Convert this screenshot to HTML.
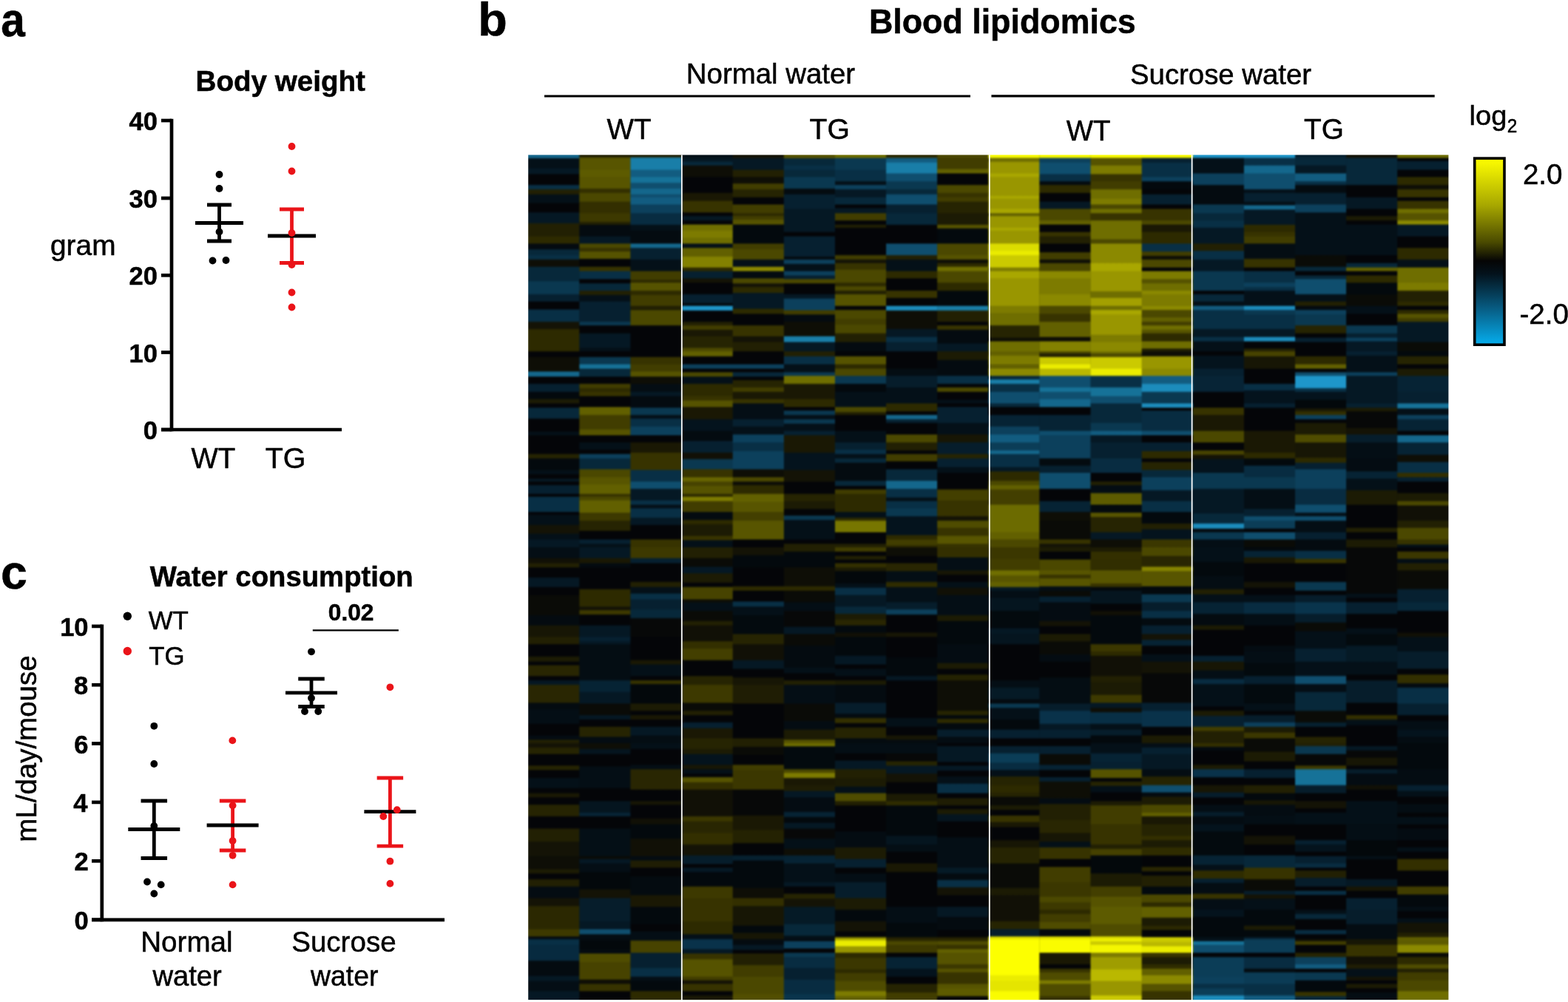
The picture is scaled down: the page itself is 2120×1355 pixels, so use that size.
<!DOCTYPE html>
<html lang="en">
<head>
<meta charset="utf-8">
<title>Figure: body weight, blood lipidomics and water consumption</title>
<style>
html,body{margin:0;padding:0;background:#fff;}
body{width:2120px;height:1355px;overflow:hidden;}
svg{display:block;font-family:"Liberation Sans", Arial, Helvetica, sans-serif;fill:#000;}
</style>
</head>
<body>
<svg width="2120" height="1355" viewBox="0 0 2120 1355">
<defs>
<linearGradient id="cbar" x1="0" y1="0" x2="0" y2="1"><stop offset="0" stop-color="#ffff00"/><stop offset="0.25" stop-color="#a8a800"/><stop offset="0.45" stop-color="#4a4a00"/><stop offset="0.55" stop-color="#050505"/><stop offset="0.62" stop-color="#03121c"/><stop offset="0.8" stop-color="#075a80"/><stop offset="1" stop-color="#06aeee"/></linearGradient>
<linearGradient id="g0" gradientUnits="userSpaceOnUse" x1="0" y1="209.4" x2="0" y2="1352.0"><stop offset="0.0010" stop-color="#14678c"/><stop offset="0.0030" stop-color="#14678c"/><stop offset="0.0049" stop-color="#041018"/><stop offset="0.0150" stop-color="#041018"/><stop offset="0.0169" stop-color="#051824"/><stop offset="0.0218" stop-color="#051824"/><stop offset="0.0238" stop-color="#040508"/><stop offset="0.0347" stop-color="#040508"/><stop offset="0.0366" stop-color="#082f45"/><stop offset="0.0398" stop-color="#082f45"/><stop offset="0.0418" stop-color="#222003"/><stop offset="0.0458" stop-color="#222003"/><stop offset="0.0477" stop-color="#041018"/><stop offset="0.0561" stop-color="#041018"/><stop offset="0.0580" stop-color="#040508"/><stop offset="0.0672" stop-color="#040508"/><stop offset="0.0692" stop-color="#051824"/><stop offset="0.0801" stop-color="#051824"/><stop offset="0.0820" stop-color="#222003"/><stop offset="0.0955" stop-color="#222003"/><stop offset="0.0974" stop-color="#2d2a00"/><stop offset="0.1041" stop-color="#2d2a00"/><stop offset="0.1060" stop-color="#040b10"/><stop offset="0.1109" stop-color="#040b10"/><stop offset="0.1129" stop-color="#07283a"/><stop offset="0.1178" stop-color="#07283a"/><stop offset="0.1197" stop-color="#082f45"/><stop offset="0.1229" stop-color="#082f45"/><stop offset="0.1249" stop-color="#0e0e06"/><stop offset="0.1315" stop-color="#0e0e06"/><stop offset="0.1334" stop-color="#07283a"/><stop offset="0.1486" stop-color="#07283a"/><stop offset="0.1506" stop-color="#0a3850"/><stop offset="0.1640" stop-color="#0a3850"/><stop offset="0.1660" stop-color="#062030"/><stop offset="0.1726" stop-color="#062030"/><stop offset="0.1745" stop-color="#040508"/><stop offset="0.1820" stop-color="#040508"/><stop offset="0.1840" stop-color="#082f45"/><stop offset="0.1966" stop-color="#082f45"/><stop offset="0.1985" stop-color="#141306"/><stop offset="0.2052" stop-color="#141306"/><stop offset="0.2071" stop-color="#2d2a00"/><stop offset="0.2316" stop-color="#2d2a00"/><stop offset="0.2335" stop-color="#040508"/><stop offset="0.2383" stop-color="#040508"/><stop offset="0.2403" stop-color="#0e0e06"/><stop offset="0.2555" stop-color="#0e0e06"/><stop offset="0.2574" stop-color="#14678c"/><stop offset="0.2615" stop-color="#14678c"/><stop offset="0.2634" stop-color="#040508"/><stop offset="0.2700" stop-color="#040508"/><stop offset="0.2720" stop-color="#062030"/><stop offset="0.2795" stop-color="#062030"/><stop offset="0.2814" stop-color="#03090d"/><stop offset="0.2880" stop-color="#03090d"/><stop offset="0.2900" stop-color="#1c1b04"/><stop offset="0.2932" stop-color="#1c1b04"/><stop offset="0.2951" stop-color="#040508"/><stop offset="0.2983" stop-color="#040508"/><stop offset="0.3002" stop-color="#07283a"/><stop offset="0.3112" stop-color="#07283a"/><stop offset="0.3131" stop-color="#040508"/><stop offset="0.3266" stop-color="#040508"/><stop offset="0.3285" stop-color="#041018"/><stop offset="0.3309" stop-color="#041018"/><stop offset="0.3328" stop-color="#040508"/><stop offset="0.3531" stop-color="#040508"/><stop offset="0.3551" stop-color="#262402"/><stop offset="0.3583" stop-color="#262402"/><stop offset="0.3602" stop-color="#03090d"/><stop offset="0.3720" stop-color="#03090d"/><stop offset="0.3739" stop-color="#041018"/><stop offset="0.3771" stop-color="#041018"/><stop offset="0.3791" stop-color="#040508"/><stop offset="0.3823" stop-color="#040508"/><stop offset="0.3842" stop-color="#051824"/><stop offset="0.3857" stop-color="#051824"/><stop offset="0.3876" stop-color="#040508"/><stop offset="0.3900" stop-color="#040508"/><stop offset="0.3919" stop-color="#062030"/><stop offset="0.4003" stop-color="#062030"/><stop offset="0.4022" stop-color="#040508"/><stop offset="0.4037" stop-color="#040508"/><stop offset="0.4056" stop-color="#082f45"/><stop offset="0.4217" stop-color="#082f45"/><stop offset="0.4236" stop-color="#040508"/><stop offset="0.4251" stop-color="#040508"/><stop offset="0.4270" stop-color="#041018"/><stop offset="0.4371" stop-color="#041018"/><stop offset="0.4390" stop-color="#141306"/><stop offset="0.4474" stop-color="#141306"/><stop offset="0.4493" stop-color="#041018"/><stop offset="0.4542" stop-color="#041018"/><stop offset="0.4562" stop-color="#051824"/><stop offset="0.4635" stop-color="#051824"/><stop offset="0.4654" stop-color="#040e15"/><stop offset="0.4763" stop-color="#040e15"/><stop offset="0.4782" stop-color="#111006"/><stop offset="0.4823" stop-color="#111006"/><stop offset="0.4842" stop-color="#222003"/><stop offset="0.4874" stop-color="#222003"/><stop offset="0.4893" stop-color="#040508"/><stop offset="0.4994" stop-color="#040508"/><stop offset="0.5013" stop-color="#051824"/><stop offset="0.5105" stop-color="#051824"/><stop offset="0.5125" stop-color="#040508"/><stop offset="0.5200" stop-color="#040508"/><stop offset="0.5219" stop-color="#0a0b07"/><stop offset="0.5439" stop-color="#0a0b07"/><stop offset="0.5459" stop-color="#040b10"/><stop offset="0.5559" stop-color="#040b10"/><stop offset="0.5579" stop-color="#171605"/><stop offset="0.5696" stop-color="#171605"/><stop offset="0.5716" stop-color="#222003"/><stop offset="0.5782" stop-color="#222003"/><stop offset="0.5801" stop-color="#040508"/><stop offset="0.5928" stop-color="#040508"/><stop offset="0.5947" stop-color="#1c1b04"/><stop offset="0.5988" stop-color="#1c1b04"/><stop offset="0.6007" stop-color="#040508"/><stop offset="0.6031" stop-color="#040508"/><stop offset="0.6050" stop-color="#292602"/><stop offset="0.6159" stop-color="#292602"/><stop offset="0.6178" stop-color="#040508"/><stop offset="0.6210" stop-color="#040508"/><stop offset="0.6230" stop-color="#051824"/><stop offset="0.6262" stop-color="#051824"/><stop offset="0.6281" stop-color="#292602"/><stop offset="0.6476" stop-color="#292602"/><stop offset="0.6495" stop-color="#040b10"/><stop offset="0.6553" stop-color="#040b10"/><stop offset="0.6572" stop-color="#040e15"/><stop offset="0.6724" stop-color="#040e15"/><stop offset="0.6744" stop-color="#040508"/><stop offset="0.6862" stop-color="#040508"/><stop offset="0.6881" stop-color="#040c12"/><stop offset="0.6913" stop-color="#040c12"/><stop offset="0.6932" stop-color="#222003"/><stop offset="0.6954" stop-color="#222003"/><stop offset="0.6973" stop-color="#141306"/><stop offset="0.7005" stop-color="#141306"/><stop offset="0.7024" stop-color="#262402"/><stop offset="0.7082" stop-color="#262402"/><stop offset="0.7101" stop-color="#040508"/><stop offset="0.7219" stop-color="#040508"/><stop offset="0.7238" stop-color="#262402"/><stop offset="0.7270" stop-color="#262402"/><stop offset="0.7290" stop-color="#040508"/><stop offset="0.7365" stop-color="#040508"/><stop offset="0.7384" stop-color="#041018"/><stop offset="0.7485" stop-color="#041018"/><stop offset="0.7504" stop-color="#040508"/><stop offset="0.7545" stop-color="#040508"/><stop offset="0.7564" stop-color="#1a1804"/><stop offset="0.7596" stop-color="#1a1804"/><stop offset="0.7615" stop-color="#040508"/><stop offset="0.7682" stop-color="#040508"/><stop offset="0.7701" stop-color="#262402"/><stop offset="0.7819" stop-color="#262402"/><stop offset="0.7838" stop-color="#040508"/><stop offset="0.7964" stop-color="#040508"/><stop offset="0.7984" stop-color="#222003"/><stop offset="0.8119" stop-color="#222003"/><stop offset="0.8138" stop-color="#141306"/><stop offset="0.8290" stop-color="#141306"/><stop offset="0.8309" stop-color="#0e0e06"/><stop offset="0.8444" stop-color="#0e0e06"/><stop offset="0.8463" stop-color="#1c1b04"/><stop offset="0.8495" stop-color="#1c1b04"/><stop offset="0.8515" stop-color="#040508"/><stop offset="0.8564" stop-color="#040508"/><stop offset="0.8583" stop-color="#222003"/><stop offset="0.8650" stop-color="#222003"/><stop offset="0.8669" stop-color="#040c12"/><stop offset="0.8787" stop-color="#040c12"/><stop offset="0.8806" stop-color="#141306"/><stop offset="0.8881" stop-color="#141306"/><stop offset="0.8900" stop-color="#2b2801"/><stop offset="0.9155" stop-color="#2b2801"/><stop offset="0.9174" stop-color="#3d3900"/><stop offset="0.9241" stop-color="#3d3900"/><stop offset="0.9260" stop-color="#040b10"/><stop offset="0.9273" stop-color="#040b10"/><stop offset="0.9293" stop-color="#082f45"/><stop offset="0.9340" stop-color="#082f45"/><stop offset="0.9359" stop-color="#072a3f"/><stop offset="0.9528" stop-color="#072a3f"/><stop offset="0.9547" stop-color="#040b10"/><stop offset="0.9708" stop-color="#040b10"/><stop offset="0.9727" stop-color="#051824"/><stop offset="0.9768" stop-color="#051824"/><stop offset="0.9787" stop-color="#040e15"/><stop offset="0.9888" stop-color="#040e15"/><stop offset="0.9907" stop-color="#051824"/><stop offset="0.9990" stop-color="#051824"/></linearGradient>
<linearGradient id="g1" gradientUnits="userSpaceOnUse" x1="0" y1="209.4" x2="0" y2="1352.0"><stop offset="0.0010" stop-color="#222003"/><stop offset="0.0021" stop-color="#222003"/><stop offset="0.0041" stop-color="#585500"/><stop offset="0.0167" stop-color="#585500"/><stop offset="0.0186" stop-color="#5d5b00"/><stop offset="0.0253" stop-color="#5d5b00"/><stop offset="0.0272" stop-color="#585500"/><stop offset="0.0390" stop-color="#585500"/><stop offset="0.0409" stop-color="#332f00"/><stop offset="0.0441" stop-color="#332f00"/><stop offset="0.0460" stop-color="#4b4800"/><stop offset="0.0544" stop-color="#4b4800"/><stop offset="0.0563" stop-color="#332f00"/><stop offset="0.0681" stop-color="#332f00"/><stop offset="0.0700" stop-color="#3d3900"/><stop offset="0.0784" stop-color="#3d3900"/><stop offset="0.0803" stop-color="#222003"/><stop offset="0.0818" stop-color="#222003"/><stop offset="0.0837" stop-color="#040b10"/><stop offset="0.0955" stop-color="#040b10"/><stop offset="0.0974" stop-color="#051824"/><stop offset="0.1041" stop-color="#051824"/><stop offset="0.1060" stop-color="#4b4800"/><stop offset="0.1092" stop-color="#4b4800"/><stop offset="0.1111" stop-color="#373300"/><stop offset="0.1135" stop-color="#373300"/><stop offset="0.1154" stop-color="#565300"/><stop offset="0.1221" stop-color="#565300"/><stop offset="0.1240" stop-color="#040508"/><stop offset="0.1315" stop-color="#040508"/><stop offset="0.1334" stop-color="#373300"/><stop offset="0.1366" stop-color="#373300"/><stop offset="0.1386" stop-color="#082f45"/><stop offset="0.1461" stop-color="#082f45"/><stop offset="0.1480" stop-color="#040508"/><stop offset="0.1512" stop-color="#040508"/><stop offset="0.1531" stop-color="#07283a"/><stop offset="0.1598" stop-color="#07283a"/><stop offset="0.1617" stop-color="#222003"/><stop offset="0.1649" stop-color="#222003"/><stop offset="0.1668" stop-color="#041018"/><stop offset="0.1726" stop-color="#041018"/><stop offset="0.1745" stop-color="#062030"/><stop offset="0.1863" stop-color="#062030"/><stop offset="0.1882" stop-color="#062030"/><stop offset="0.1966" stop-color="#062030"/><stop offset="0.1985" stop-color="#0a3850"/><stop offset="0.2009" stop-color="#0a3850"/><stop offset="0.2028" stop-color="#040508"/><stop offset="0.2103" stop-color="#040508"/><stop offset="0.2122" stop-color="#051824"/><stop offset="0.2274" stop-color="#051824"/><stop offset="0.2294" stop-color="#041018"/><stop offset="0.2316" stop-color="#041018"/><stop offset="0.2335" stop-color="#040508"/><stop offset="0.2383" stop-color="#040508"/><stop offset="0.2403" stop-color="#0a3850"/><stop offset="0.2469" stop-color="#0a3850"/><stop offset="0.2488" stop-color="#167298"/><stop offset="0.2521" stop-color="#167298"/><stop offset="0.2540" stop-color="#07283a"/><stop offset="0.2615" stop-color="#07283a"/><stop offset="0.2634" stop-color="#040508"/><stop offset="0.2700" stop-color="#040508"/><stop offset="0.2720" stop-color="#413d00"/><stop offset="0.2752" stop-color="#413d00"/><stop offset="0.2771" stop-color="#2d2a00"/><stop offset="0.2795" stop-color="#2d2a00"/><stop offset="0.2814" stop-color="#373300"/><stop offset="0.2846" stop-color="#373300"/><stop offset="0.2865" stop-color="#040508"/><stop offset="0.2975" stop-color="#040508"/><stop offset="0.2994" stop-color="#626000"/><stop offset="0.3069" stop-color="#626000"/><stop offset="0.3088" stop-color="#413d00"/><stop offset="0.3240" stop-color="#413d00"/><stop offset="0.3259" stop-color="#565300"/><stop offset="0.3309" stop-color="#565300"/><stop offset="0.3328" stop-color="#040508"/><stop offset="0.3394" stop-color="#040508"/><stop offset="0.3414" stop-color="#041018"/><stop offset="0.3480" stop-color="#041018"/><stop offset="0.3499" stop-color="#040508"/><stop offset="0.3531" stop-color="#040508"/><stop offset="0.3551" stop-color="#0c405c"/><stop offset="0.3583" stop-color="#0c405c"/><stop offset="0.3602" stop-color="#07283a"/><stop offset="0.3711" stop-color="#07283a"/><stop offset="0.3731" stop-color="#4b4800"/><stop offset="0.3806" stop-color="#4b4800"/><stop offset="0.3825" stop-color="#585500"/><stop offset="0.3891" stop-color="#585500"/><stop offset="0.3910" stop-color="#626000"/><stop offset="0.4003" stop-color="#626000"/><stop offset="0.4022" stop-color="#373300"/><stop offset="0.4037" stop-color="#373300"/><stop offset="0.4056" stop-color="#4b4800"/><stop offset="0.4080" stop-color="#4b4800"/><stop offset="0.4099" stop-color="#626000"/><stop offset="0.4225" stop-color="#626000"/><stop offset="0.4245" stop-color="#3d3900"/><stop offset="0.4320" stop-color="#3d3900"/><stop offset="0.4339" stop-color="#262402"/><stop offset="0.4439" stop-color="#262402"/><stop offset="0.4459" stop-color="#040508"/><stop offset="0.4542" stop-color="#040508"/><stop offset="0.4562" stop-color="#062030"/><stop offset="0.4594" stop-color="#062030"/><stop offset="0.4613" stop-color="#041018"/><stop offset="0.4635" stop-color="#041018"/><stop offset="0.4654" stop-color="#051824"/><stop offset="0.4763" stop-color="#051824"/><stop offset="0.4782" stop-color="#1a1804"/><stop offset="0.4823" stop-color="#1a1804"/><stop offset="0.4842" stop-color="#040b10"/><stop offset="0.4874" stop-color="#040b10"/><stop offset="0.4893" stop-color="#040508"/><stop offset="0.5131" stop-color="#040508"/><stop offset="0.5150" stop-color="#2d2a00"/><stop offset="0.5337" stop-color="#2d2a00"/><stop offset="0.5356" stop-color="#141306"/><stop offset="0.5379" stop-color="#141306"/><stop offset="0.5399" stop-color="#3d3900"/><stop offset="0.5431" stop-color="#3d3900"/><stop offset="0.5450" stop-color="#040508"/><stop offset="0.5559" stop-color="#040508"/><stop offset="0.5579" stop-color="#051824"/><stop offset="0.5696" stop-color="#051824"/><stop offset="0.5716" stop-color="#062030"/><stop offset="0.5748" stop-color="#062030"/><stop offset="0.5767" stop-color="#051824"/><stop offset="0.5782" stop-color="#051824"/><stop offset="0.5801" stop-color="#040d13"/><stop offset="0.6210" stop-color="#040d13"/><stop offset="0.6230" stop-color="#062334"/><stop offset="0.6348" stop-color="#062334"/><stop offset="0.6367" stop-color="#051824"/><stop offset="0.6485" stop-color="#051824"/><stop offset="0.6504" stop-color="#0a0b07"/><stop offset="0.6622" stop-color="#0a0b07"/><stop offset="0.6641" stop-color="#051824"/><stop offset="0.6673" stop-color="#051824"/><stop offset="0.6692" stop-color="#040508"/><stop offset="0.6759" stop-color="#040508"/><stop offset="0.6778" stop-color="#262402"/><stop offset="0.6879" stop-color="#262402"/><stop offset="0.6898" stop-color="#040c12"/><stop offset="0.6954" stop-color="#040c12"/><stop offset="0.6973" stop-color="#0e0e06"/><stop offset="0.7022" stop-color="#0e0e06"/><stop offset="0.7041" stop-color="#05151f"/><stop offset="0.7082" stop-color="#05151f"/><stop offset="0.7101" stop-color="#040508"/><stop offset="0.7228" stop-color="#040508"/><stop offset="0.7247" stop-color="#040e15"/><stop offset="0.7485" stop-color="#040e15"/><stop offset="0.7504" stop-color="#040508"/><stop offset="0.7639" stop-color="#040508"/><stop offset="0.7658" stop-color="#05151f"/><stop offset="0.7776" stop-color="#05151f"/><stop offset="0.7795" stop-color="#072436"/><stop offset="0.7819" stop-color="#072436"/><stop offset="0.7838" stop-color="#040508"/><stop offset="0.7964" stop-color="#040508"/><stop offset="0.7984" stop-color="#040f16"/><stop offset="0.8290" stop-color="#040f16"/><stop offset="0.8309" stop-color="#0a0b07"/><stop offset="0.8324" stop-color="#0a0b07"/><stop offset="0.8343" stop-color="#051824"/><stop offset="0.8376" stop-color="#051824"/><stop offset="0.8395" stop-color="#040e15"/><stop offset="0.8478" stop-color="#040e15"/><stop offset="0.8498" stop-color="#03080b"/><stop offset="0.8684" stop-color="#03080b"/><stop offset="0.8703" stop-color="#141306"/><stop offset="0.8787" stop-color="#141306"/><stop offset="0.8806" stop-color="#061d2b"/><stop offset="0.9061" stop-color="#061d2b"/><stop offset="0.9080" stop-color="#051824"/><stop offset="0.9155" stop-color="#051824"/><stop offset="0.9174" stop-color="#0f4e6e"/><stop offset="0.9215" stop-color="#0f4e6e"/><stop offset="0.9234" stop-color="#040d13"/><stop offset="0.9273" stop-color="#040d13"/><stop offset="0.9290" stop-color="#040b10"/><stop offset="0.9291" stop-color="#040b10"/><stop offset="0.9308" stop-color="#03080b"/><stop offset="0.9391" stop-color="#03080b"/><stop offset="0.9410" stop-color="#040b10"/><stop offset="0.9443" stop-color="#040b10"/><stop offset="0.9462" stop-color="#4f4c00"/><stop offset="0.9545" stop-color="#4f4c00"/><stop offset="0.9565" stop-color="#474300"/><stop offset="0.9751" stop-color="#474300"/><stop offset="0.9770" stop-color="#0e0e06"/><stop offset="0.9802" stop-color="#0e0e06"/><stop offset="0.9822" stop-color="#373300"/><stop offset="0.9888" stop-color="#373300"/><stop offset="0.9907" stop-color="#040508"/><stop offset="0.9990" stop-color="#040508"/></linearGradient>
<linearGradient id="g2" gradientUnits="userSpaceOnUse" x1="0" y1="209.4" x2="0" y2="1352.0"><stop offset="0.0010" stop-color="#222003"/><stop offset="0.0021" stop-color="#222003"/><stop offset="0.0041" stop-color="#197ea8"/><stop offset="0.0167" stop-color="#197ea8"/><stop offset="0.0186" stop-color="#125c80"/><stop offset="0.0253" stop-color="#125c80"/><stop offset="0.0272" stop-color="#167298"/><stop offset="0.0321" stop-color="#167298"/><stop offset="0.0340" stop-color="#0f4e6e"/><stop offset="0.0390" stop-color="#0f4e6e"/><stop offset="0.0409" stop-color="#14678c"/><stop offset="0.0457" stop-color="#14678c"/><stop offset="0.0476" stop-color="#0f4e6e"/><stop offset="0.0494" stop-color="#0f4e6e"/><stop offset="0.0513" stop-color="#125c80"/><stop offset="0.0578" stop-color="#125c80"/><stop offset="0.0597" stop-color="#0c405c"/><stop offset="0.0681" stop-color="#0c405c"/><stop offset="0.0700" stop-color="#082c41"/><stop offset="0.0818" stop-color="#082c41"/><stop offset="0.0837" stop-color="#041018"/><stop offset="0.0887" stop-color="#041018"/><stop offset="0.0906" stop-color="#040b10"/><stop offset="0.1041" stop-color="#040b10"/><stop offset="0.1060" stop-color="#14678c"/><stop offset="0.1092" stop-color="#14678c"/><stop offset="0.1111" stop-color="#062030"/><stop offset="0.1229" stop-color="#062030"/><stop offset="0.1249" stop-color="#041018"/><stop offset="0.1366" stop-color="#041018"/><stop offset="0.1386" stop-color="#413d00"/><stop offset="0.1469" stop-color="#413d00"/><stop offset="0.1488" stop-color="#2d2a00"/><stop offset="0.1503" stop-color="#2d2a00"/><stop offset="0.1523" stop-color="#565300"/><stop offset="0.1598" stop-color="#565300"/><stop offset="0.1617" stop-color="#2d2a00"/><stop offset="0.1649" stop-color="#2d2a00"/><stop offset="0.1668" stop-color="#413d00"/><stop offset="0.1778" stop-color="#413d00"/><stop offset="0.1797" stop-color="#222003"/><stop offset="0.1829" stop-color="#222003"/><stop offset="0.1848" stop-color="#4b4800"/><stop offset="0.2009" stop-color="#4b4800"/><stop offset="0.2028" stop-color="#040508"/><stop offset="0.2316" stop-color="#040508"/><stop offset="0.2335" stop-color="#040508"/><stop offset="0.2383" stop-color="#040508"/><stop offset="0.2403" stop-color="#373300"/><stop offset="0.2469" stop-color="#373300"/><stop offset="0.2488" stop-color="#413d00"/><stop offset="0.2555" stop-color="#413d00"/><stop offset="0.2574" stop-color="#565300"/><stop offset="0.2615" stop-color="#565300"/><stop offset="0.2634" stop-color="#0e0e06"/><stop offset="0.2700" stop-color="#0e0e06"/><stop offset="0.2720" stop-color="#040d13"/><stop offset="0.2795" stop-color="#040d13"/><stop offset="0.2814" stop-color="#051824"/><stop offset="0.2846" stop-color="#051824"/><stop offset="0.2865" stop-color="#040b10"/><stop offset="0.2983" stop-color="#040b10"/><stop offset="0.3002" stop-color="#0a3850"/><stop offset="0.3069" stop-color="#0a3850"/><stop offset="0.3088" stop-color="#041018"/><stop offset="0.3112" stop-color="#041018"/><stop offset="0.3131" stop-color="#082f45"/><stop offset="0.3206" stop-color="#082f45"/><stop offset="0.3225" stop-color="#0c405c"/><stop offset="0.3309" stop-color="#0c405c"/><stop offset="0.3328" stop-color="#040508"/><stop offset="0.3394" stop-color="#040508"/><stop offset="0.3414" stop-color="#1a1804"/><stop offset="0.3514" stop-color="#1a1804"/><stop offset="0.3534" stop-color="#373300"/><stop offset="0.3720" stop-color="#373300"/><stop offset="0.3739" stop-color="#082f45"/><stop offset="0.3857" stop-color="#082f45"/><stop offset="0.3876" stop-color="#0f4e6e"/><stop offset="0.3943" stop-color="#0f4e6e"/><stop offset="0.3962" stop-color="#051824"/><stop offset="0.4080" stop-color="#051824"/><stop offset="0.4099" stop-color="#082f45"/><stop offset="0.4131" stop-color="#082f45"/><stop offset="0.4150" stop-color="#041018"/><stop offset="0.4174" stop-color="#041018"/><stop offset="0.4193" stop-color="#082f45"/><stop offset="0.4285" stop-color="#082f45"/><stop offset="0.4305" stop-color="#051824"/><stop offset="0.4371" stop-color="#051824"/><stop offset="0.4390" stop-color="#040508"/><stop offset="0.4542" stop-color="#040508"/><stop offset="0.4562" stop-color="#373300"/><stop offset="0.4635" stop-color="#373300"/><stop offset="0.4654" stop-color="#3d3900"/><stop offset="0.4763" stop-color="#3d3900"/><stop offset="0.4782" stop-color="#062030"/><stop offset="0.4823" stop-color="#062030"/><stop offset="0.4842" stop-color="#040508"/><stop offset="0.5045" stop-color="#040508"/><stop offset="0.5065" stop-color="#222003"/><stop offset="0.5105" stop-color="#222003"/><stop offset="0.5125" stop-color="#041018"/><stop offset="0.5182" stop-color="#041018"/><stop offset="0.5202" stop-color="#082f45"/><stop offset="0.5251" stop-color="#082f45"/><stop offset="0.5270" stop-color="#062030"/><stop offset="0.5371" stop-color="#062030"/><stop offset="0.5390" stop-color="#07283a"/><stop offset="0.5474" stop-color="#07283a"/><stop offset="0.5493" stop-color="#070808"/><stop offset="0.5696" stop-color="#070808"/><stop offset="0.5716" stop-color="#040508"/><stop offset="0.5971" stop-color="#040508"/><stop offset="0.5990" stop-color="#1a1804"/><stop offset="0.6022" stop-color="#1a1804"/><stop offset="0.6041" stop-color="#041018"/><stop offset="0.6159" stop-color="#041018"/><stop offset="0.6178" stop-color="#040508"/><stop offset="0.6210" stop-color="#040508"/><stop offset="0.6230" stop-color="#373300"/><stop offset="0.6253" stop-color="#373300"/><stop offset="0.6273" stop-color="#03080b"/><stop offset="0.6485" stop-color="#03080b"/><stop offset="0.6504" stop-color="#1c1b04"/><stop offset="0.6570" stop-color="#1c1b04"/><stop offset="0.6590" stop-color="#040508"/><stop offset="0.6622" stop-color="#040508"/><stop offset="0.6641" stop-color="#1a1804"/><stop offset="0.6673" stop-color="#1a1804"/><stop offset="0.6692" stop-color="#040508"/><stop offset="0.6759" stop-color="#040508"/><stop offset="0.6778" stop-color="#051824"/><stop offset="0.6862" stop-color="#051824"/><stop offset="0.6881" stop-color="#040d13"/><stop offset="0.6954" stop-color="#040d13"/><stop offset="0.6973" stop-color="#041018"/><stop offset="0.7022" stop-color="#041018"/><stop offset="0.7041" stop-color="#040508"/><stop offset="0.7210" stop-color="#040508"/><stop offset="0.7230" stop-color="#040e15"/><stop offset="0.7262" stop-color="#040e15"/><stop offset="0.7281" stop-color="#292602"/><stop offset="0.7502" stop-color="#292602"/><stop offset="0.7521" stop-color="#040508"/><stop offset="0.7639" stop-color="#040508"/><stop offset="0.7658" stop-color="#171605"/><stop offset="0.7682" stop-color="#171605"/><stop offset="0.7701" stop-color="#040508"/><stop offset="0.7844" stop-color="#040508"/><stop offset="0.7864" stop-color="#111006"/><stop offset="0.7913" stop-color="#111006"/><stop offset="0.7932" stop-color="#03090d"/><stop offset="0.8084" stop-color="#03090d"/><stop offset="0.8104" stop-color="#111006"/><stop offset="0.8290" stop-color="#111006"/><stop offset="0.8309" stop-color="#040c12"/><stop offset="0.8341" stop-color="#040c12"/><stop offset="0.8361" stop-color="#1f1d04"/><stop offset="0.8427" stop-color="#1f1d04"/><stop offset="0.8446" stop-color="#040508"/><stop offset="0.8530" stop-color="#040508"/><stop offset="0.8549" stop-color="#040b10"/><stop offset="0.8752" stop-color="#040b10"/><stop offset="0.8772" stop-color="#1a1804"/><stop offset="0.8890" stop-color="#1a1804"/><stop offset="0.8909" stop-color="#03090d"/><stop offset="0.9095" stop-color="#03090d"/><stop offset="0.9114" stop-color="#040508"/><stop offset="0.9181" stop-color="#040508"/><stop offset="0.9200" stop-color="#040e15"/><stop offset="0.9273" stop-color="#040e15"/><stop offset="0.9290" stop-color="#040e15"/><stop offset="0.9291" stop-color="#040e15"/><stop offset="0.9308" stop-color="#474300"/><stop offset="0.9434" stop-color="#474300"/><stop offset="0.9453" stop-color="#062030"/><stop offset="0.9614" stop-color="#062030"/><stop offset="0.9633" stop-color="#082f45"/><stop offset="0.9717" stop-color="#082f45"/><stop offset="0.9736" stop-color="#040e15"/><stop offset="0.9768" stop-color="#040e15"/><stop offset="0.9787" stop-color="#03090d"/><stop offset="0.9888" stop-color="#03090d"/><stop offset="0.9907" stop-color="#2d2a00"/><stop offset="0.9990" stop-color="#2d2a00"/></linearGradient>
<linearGradient id="g3" gradientUnits="userSpaceOnUse" x1="0" y1="209.4" x2="0" y2="1352.0"><stop offset="0.0010" stop-color="#041018"/><stop offset="0.0030" stop-color="#041018"/><stop offset="0.0049" stop-color="#051824"/><stop offset="0.0073" stop-color="#051824"/><stop offset="0.0092" stop-color="#07283a"/><stop offset="0.0116" stop-color="#07283a"/><stop offset="0.0135" stop-color="#0e0e06"/><stop offset="0.0253" stop-color="#0e0e06"/><stop offset="0.0272" stop-color="#040508"/><stop offset="0.0441" stop-color="#040508"/><stop offset="0.0460" stop-color="#1a1804"/><stop offset="0.0535" stop-color="#1a1804"/><stop offset="0.0555" stop-color="#373300"/><stop offset="0.0672" stop-color="#373300"/><stop offset="0.0692" stop-color="#040508"/><stop offset="0.0715" stop-color="#040508"/><stop offset="0.0734" stop-color="#051824"/><stop offset="0.0767" stop-color="#051824"/><stop offset="0.0786" stop-color="#040508"/><stop offset="0.0815" stop-color="#040508"/><stop offset="0.0834" stop-color="#6f6e00"/><stop offset="0.0887" stop-color="#6f6e00"/><stop offset="0.0906" stop-color="#7d7b00"/><stop offset="0.0972" stop-color="#7d7b00"/><stop offset="0.0992" stop-color="#6f6e00"/><stop offset="0.1041" stop-color="#6f6e00"/><stop offset="0.1060" stop-color="#041018"/><stop offset="0.1092" stop-color="#041018"/><stop offset="0.1111" stop-color="#626000"/><stop offset="0.1195" stop-color="#626000"/><stop offset="0.1214" stop-color="#838100"/><stop offset="0.1323" stop-color="#838100"/><stop offset="0.1343" stop-color="#2d2a00"/><stop offset="0.1366" stop-color="#2d2a00"/><stop offset="0.1386" stop-color="#062030"/><stop offset="0.1452" stop-color="#062030"/><stop offset="0.1471" stop-color="#141306"/><stop offset="0.1503" stop-color="#141306"/><stop offset="0.1523" stop-color="#040508"/><stop offset="0.1640" stop-color="#040508"/><stop offset="0.1660" stop-color="#062030"/><stop offset="0.1743" stop-color="#062030"/><stop offset="0.1763" stop-color="#040b10"/><stop offset="0.1778" stop-color="#040b10"/><stop offset="0.1797" stop-color="#1e96ca"/><stop offset="0.1832" stop-color="#1e96ca"/><stop offset="0.1852" stop-color="#040508"/><stop offset="0.1966" stop-color="#040508"/><stop offset="0.1985" stop-color="#222003"/><stop offset="0.2009" stop-color="#222003"/><stop offset="0.2028" stop-color="#413d00"/><stop offset="0.2060" stop-color="#413d00"/><stop offset="0.2080" stop-color="#1a1804"/><stop offset="0.2137" stop-color="#1a1804"/><stop offset="0.2157" stop-color="#262402"/><stop offset="0.2274" stop-color="#262402"/><stop offset="0.2294" stop-color="#4b4800"/><stop offset="0.2316" stop-color="#4b4800"/><stop offset="0.2335" stop-color="#626000"/><stop offset="0.2375" stop-color="#626000"/><stop offset="0.2394" stop-color="#040508"/><stop offset="0.2469" stop-color="#040508"/><stop offset="0.2488" stop-color="#0c405c"/><stop offset="0.2521" stop-color="#0c405c"/><stop offset="0.2540" stop-color="#040508"/><stop offset="0.2563" stop-color="#040508"/><stop offset="0.2583" stop-color="#4b4800"/><stop offset="0.2615" stop-color="#4b4800"/><stop offset="0.2634" stop-color="#041018"/><stop offset="0.2700" stop-color="#041018"/><stop offset="0.2720" stop-color="#2d2a00"/><stop offset="0.2846" stop-color="#2d2a00"/><stop offset="0.2865" stop-color="#373300"/><stop offset="0.2897" stop-color="#373300"/><stop offset="0.2917" stop-color="#565300"/><stop offset="0.2975" stop-color="#565300"/><stop offset="0.2994" stop-color="#1a1804"/><stop offset="0.3120" stop-color="#1a1804"/><stop offset="0.3139" stop-color="#04131d"/><stop offset="0.3257" stop-color="#04131d"/><stop offset="0.3277" stop-color="#040b10"/><stop offset="0.3377" stop-color="#040b10"/><stop offset="0.3396" stop-color="#062030"/><stop offset="0.3514" stop-color="#062030"/><stop offset="0.3534" stop-color="#111006"/><stop offset="0.3591" stop-color="#111006"/><stop offset="0.3611" stop-color="#0a3850"/><stop offset="0.3711" stop-color="#0a3850"/><stop offset="0.3731" stop-color="#373300"/><stop offset="0.3806" stop-color="#373300"/><stop offset="0.3825" stop-color="#676500"/><stop offset="0.3857" stop-color="#676500"/><stop offset="0.3876" stop-color="#474300"/><stop offset="0.3908" stop-color="#474300"/><stop offset="0.3928" stop-color="#565300"/><stop offset="0.4003" stop-color="#565300"/><stop offset="0.4022" stop-color="#2d2a00"/><stop offset="0.4037" stop-color="#2d2a00"/><stop offset="0.4056" stop-color="#7d7b00"/><stop offset="0.4088" stop-color="#7d7b00"/><stop offset="0.4108" stop-color="#413d00"/><stop offset="0.4217" stop-color="#413d00"/><stop offset="0.4236" stop-color="#040b10"/><stop offset="0.4311" stop-color="#040b10"/><stop offset="0.4330" stop-color="#2d2a00"/><stop offset="0.4362" stop-color="#2d2a00"/><stop offset="0.4382" stop-color="#1c1b04"/><stop offset="0.4499" stop-color="#1c1b04"/><stop offset="0.4519" stop-color="#373300"/><stop offset="0.4551" stop-color="#373300"/><stop offset="0.4570" stop-color="#041018"/><stop offset="0.4635" stop-color="#041018"/><stop offset="0.4654" stop-color="#222003"/><stop offset="0.4763" stop-color="#222003"/><stop offset="0.4782" stop-color="#0a0b07"/><stop offset="0.4865" stop-color="#0a0b07"/><stop offset="0.4885" stop-color="#051824"/><stop offset="0.4943" stop-color="#051824"/><stop offset="0.4962" stop-color="#1c1b04"/><stop offset="0.5054" stop-color="#1c1b04"/><stop offset="0.5073" stop-color="#040508"/><stop offset="0.5105" stop-color="#040508"/><stop offset="0.5125" stop-color="#474300"/><stop offset="0.5251" stop-color="#474300"/><stop offset="0.5270" stop-color="#0e0e06"/><stop offset="0.5285" stop-color="#0e0e06"/><stop offset="0.5305" stop-color="#041018"/><stop offset="0.5388" stop-color="#041018"/><stop offset="0.5407" stop-color="#0a0b07"/><stop offset="0.5508" stop-color="#0a0b07"/><stop offset="0.5527" stop-color="#222003"/><stop offset="0.5559" stop-color="#222003"/><stop offset="0.5579" stop-color="#111006"/><stop offset="0.5748" stop-color="#111006"/><stop offset="0.5767" stop-color="#332f00"/><stop offset="0.5834" stop-color="#332f00"/><stop offset="0.5853" stop-color="#433f00"/><stop offset="0.5971" stop-color="#433f00"/><stop offset="0.5990" stop-color="#040508"/><stop offset="0.6159" stop-color="#040508"/><stop offset="0.6178" stop-color="#262402"/><stop offset="0.6262" stop-color="#262402"/><stop offset="0.6281" stop-color="#3d3900"/><stop offset="0.6476" stop-color="#3d3900"/><stop offset="0.6495" stop-color="#0a0b07"/><stop offset="0.6570" stop-color="#0a0b07"/><stop offset="0.6590" stop-color="#222003"/><stop offset="0.6622" stop-color="#222003"/><stop offset="0.6641" stop-color="#040508"/><stop offset="0.6707" stop-color="#040508"/><stop offset="0.6727" stop-color="#062030"/><stop offset="0.6776" stop-color="#062030"/><stop offset="0.6795" stop-color="#1a1804"/><stop offset="0.6896" stop-color="#1a1804"/><stop offset="0.6915" stop-color="#262402"/><stop offset="0.6954" stop-color="#262402"/><stop offset="0.6973" stop-color="#262402"/><stop offset="0.7022" stop-color="#262402"/><stop offset="0.7041" stop-color="#1c1b04"/><stop offset="0.7082" stop-color="#1c1b04"/><stop offset="0.7101" stop-color="#04131d"/><stop offset="0.7210" stop-color="#04131d"/><stop offset="0.7230" stop-color="#171605"/><stop offset="0.7262" stop-color="#171605"/><stop offset="0.7281" stop-color="#041018"/><stop offset="0.7313" stop-color="#041018"/><stop offset="0.7333" stop-color="#040508"/><stop offset="0.7356" stop-color="#040508"/><stop offset="0.7375" stop-color="#565300"/><stop offset="0.7416" stop-color="#565300"/><stop offset="0.7435" stop-color="#332f00"/><stop offset="0.7502" stop-color="#332f00"/><stop offset="0.7521" stop-color="#111006"/><stop offset="0.7819" stop-color="#111006"/><stop offset="0.7838" stop-color="#3b3700"/><stop offset="0.7879" stop-color="#3b3700"/><stop offset="0.7898" stop-color="#292602"/><stop offset="0.8016" stop-color="#292602"/><stop offset="0.8035" stop-color="#332f00"/><stop offset="0.8067" stop-color="#332f00"/><stop offset="0.8086" stop-color="#332f00"/><stop offset="0.8153" stop-color="#332f00"/><stop offset="0.8172" stop-color="#141306"/><stop offset="0.8281" stop-color="#141306"/><stop offset="0.8301" stop-color="#061d2b"/><stop offset="0.8384" stop-color="#061d2b"/><stop offset="0.8403" stop-color="#040508"/><stop offset="0.8427" stop-color="#040508"/><stop offset="0.8446" stop-color="#051824"/><stop offset="0.8478" stop-color="#051824"/><stop offset="0.8498" stop-color="#03090d"/><stop offset="0.8650" stop-color="#03090d"/><stop offset="0.8669" stop-color="#3d3900"/><stop offset="0.8787" stop-color="#3d3900"/><stop offset="0.8806" stop-color="#373300"/><stop offset="0.9061" stop-color="#373300"/><stop offset="0.9080" stop-color="#2d2a00"/><stop offset="0.9215" stop-color="#2d2a00"/><stop offset="0.9234" stop-color="#041018"/><stop offset="0.9273" stop-color="#041018"/><stop offset="0.9293" stop-color="#09324a"/><stop offset="0.9391" stop-color="#09324a"/><stop offset="0.9410" stop-color="#051824"/><stop offset="0.9443" stop-color="#051824"/><stop offset="0.9462" stop-color="#373300"/><stop offset="0.9511" stop-color="#373300"/><stop offset="0.9530" stop-color="#565300"/><stop offset="0.9717" stop-color="#565300"/><stop offset="0.9736" stop-color="#413d00"/><stop offset="0.9760" stop-color="#413d00"/><stop offset="0.9779" stop-color="#141306"/><stop offset="0.9802" stop-color="#141306"/><stop offset="0.9822" stop-color="#373300"/><stop offset="0.9888" stop-color="#373300"/><stop offset="0.9907" stop-color="#040508"/><stop offset="0.9939" stop-color="#040508"/><stop offset="0.9959" stop-color="#1a1804"/><stop offset="0.9990" stop-color="#1a1804"/></linearGradient>
<linearGradient id="g4" gradientUnits="userSpaceOnUse" x1="0" y1="209.4" x2="0" y2="1352.0"><stop offset="0.0010" stop-color="#141306"/><stop offset="0.0030" stop-color="#141306"/><stop offset="0.0049" stop-color="#051824"/><stop offset="0.0167" stop-color="#051824"/><stop offset="0.0186" stop-color="#222003"/><stop offset="0.0253" stop-color="#222003"/><stop offset="0.0272" stop-color="#0e0e06"/><stop offset="0.0330" stop-color="#0e0e06"/><stop offset="0.0349" stop-color="#413d00"/><stop offset="0.0398" stop-color="#413d00"/><stop offset="0.0418" stop-color="#262402"/><stop offset="0.0493" stop-color="#262402"/><stop offset="0.0512" stop-color="#040508"/><stop offset="0.0578" stop-color="#040508"/><stop offset="0.0597" stop-color="#413d00"/><stop offset="0.0681" stop-color="#413d00"/><stop offset="0.0700" stop-color="#2d2a00"/><stop offset="0.0715" stop-color="#2d2a00"/><stop offset="0.0734" stop-color="#413d00"/><stop offset="0.0758" stop-color="#413d00"/><stop offset="0.0777" stop-color="#565300"/><stop offset="0.0815" stop-color="#565300"/><stop offset="0.0834" stop-color="#03090d"/><stop offset="0.1041" stop-color="#03090d"/><stop offset="0.1060" stop-color="#413d00"/><stop offset="0.1109" stop-color="#413d00"/><stop offset="0.1129" stop-color="#4b4800"/><stop offset="0.1229" stop-color="#4b4800"/><stop offset="0.1249" stop-color="#041018"/><stop offset="0.1315" stop-color="#041018"/><stop offset="0.1334" stop-color="#8b8900"/><stop offset="0.1366" stop-color="#8b8900"/><stop offset="0.1386" stop-color="#040b10"/><stop offset="0.1452" stop-color="#040b10"/><stop offset="0.1471" stop-color="#4b4800"/><stop offset="0.1512" stop-color="#4b4800"/><stop offset="0.1531" stop-color="#141306"/><stop offset="0.1555" stop-color="#141306"/><stop offset="0.1574" stop-color="#2d2a00"/><stop offset="0.1623" stop-color="#2d2a00"/><stop offset="0.1643" stop-color="#051824"/><stop offset="0.1812" stop-color="#051824"/><stop offset="0.1831" stop-color="#2d2a00"/><stop offset="0.1872" stop-color="#2d2a00"/><stop offset="0.1891" stop-color="#040508"/><stop offset="0.2009" stop-color="#040508"/><stop offset="0.2028" stop-color="#373300"/><stop offset="0.2137" stop-color="#373300"/><stop offset="0.2157" stop-color="#141306"/><stop offset="0.2206" stop-color="#141306"/><stop offset="0.2225" stop-color="#222003"/><stop offset="0.2316" stop-color="#222003"/><stop offset="0.2335" stop-color="#040508"/><stop offset="0.2469" stop-color="#040508"/><stop offset="0.2488" stop-color="#0c405c"/><stop offset="0.2521" stop-color="#0c405c"/><stop offset="0.2540" stop-color="#040508"/><stop offset="0.2563" stop-color="#040508"/><stop offset="0.2583" stop-color="#07283a"/><stop offset="0.2615" stop-color="#07283a"/><stop offset="0.2634" stop-color="#040508"/><stop offset="0.2658" stop-color="#040508"/><stop offset="0.2677" stop-color="#262402"/><stop offset="0.2743" stop-color="#262402"/><stop offset="0.2762" stop-color="#413d00"/><stop offset="0.2795" stop-color="#413d00"/><stop offset="0.2814" stop-color="#1a1804"/><stop offset="0.2880" stop-color="#1a1804"/><stop offset="0.2900" stop-color="#373300"/><stop offset="0.2932" stop-color="#373300"/><stop offset="0.2951" stop-color="#040e15"/><stop offset="0.3120" stop-color="#040e15"/><stop offset="0.3139" stop-color="#062030"/><stop offset="0.3206" stop-color="#062030"/><stop offset="0.3225" stop-color="#041018"/><stop offset="0.3300" stop-color="#041018"/><stop offset="0.3319" stop-color="#0c405c"/><stop offset="0.3394" stop-color="#0c405c"/><stop offset="0.3414" stop-color="#082f45"/><stop offset="0.3497" stop-color="#082f45"/><stop offset="0.3516" stop-color="#0c405c"/><stop offset="0.3711" stop-color="#0c405c"/><stop offset="0.3731" stop-color="#0e0e06"/><stop offset="0.3806" stop-color="#0e0e06"/><stop offset="0.3825" stop-color="#4b4800"/><stop offset="0.3857" stop-color="#4b4800"/><stop offset="0.3876" stop-color="#0e0e06"/><stop offset="0.3900" stop-color="#0e0e06"/><stop offset="0.3919" stop-color="#2d2a00"/><stop offset="0.4003" stop-color="#2d2a00"/><stop offset="0.4022" stop-color="#626000"/><stop offset="0.4097" stop-color="#626000"/><stop offset="0.4116" stop-color="#585500"/><stop offset="0.4217" stop-color="#585500"/><stop offset="0.4236" stop-color="#433f00"/><stop offset="0.4320" stop-color="#433f00"/><stop offset="0.4339" stop-color="#585500"/><stop offset="0.4542" stop-color="#585500"/><stop offset="0.4562" stop-color="#040508"/><stop offset="0.4635" stop-color="#040508"/><stop offset="0.4654" stop-color="#141306"/><stop offset="0.4728" stop-color="#141306"/><stop offset="0.4748" stop-color="#03090d"/><stop offset="0.4874" stop-color="#03090d"/><stop offset="0.4893" stop-color="#040508"/><stop offset="0.5097" stop-color="#040508"/><stop offset="0.5116" stop-color="#2d2a00"/><stop offset="0.5148" stop-color="#2d2a00"/><stop offset="0.5167" stop-color="#040508"/><stop offset="0.5277" stop-color="#040508"/><stop offset="0.5296" stop-color="#082f45"/><stop offset="0.5337" stop-color="#082f45"/><stop offset="0.5356" stop-color="#041018"/><stop offset="0.5439" stop-color="#041018"/><stop offset="0.5459" stop-color="#030a0e"/><stop offset="0.5662" stop-color="#030a0e"/><stop offset="0.5681" stop-color="#262402"/><stop offset="0.5782" stop-color="#262402"/><stop offset="0.5801" stop-color="#111006"/><stop offset="0.5971" stop-color="#111006"/><stop offset="0.5990" stop-color="#051824"/><stop offset="0.6073" stop-color="#051824"/><stop offset="0.6093" stop-color="#040508"/><stop offset="0.6176" stop-color="#040508"/><stop offset="0.6195" stop-color="#171605"/><stop offset="0.6262" stop-color="#171605"/><stop offset="0.6281" stop-color="#1f1d04"/><stop offset="0.6485" stop-color="#1f1d04"/><stop offset="0.6504" stop-color="#040508"/><stop offset="0.6896" stop-color="#040508"/><stop offset="0.6915" stop-color="#222003"/><stop offset="0.6954" stop-color="#222003"/><stop offset="0.6973" stop-color="#222003"/><stop offset="0.6996" stop-color="#222003"/><stop offset="0.7016" stop-color="#0a0b07"/><stop offset="0.7091" stop-color="#0a0b07"/><stop offset="0.7110" stop-color="#040508"/><stop offset="0.7210" stop-color="#040508"/><stop offset="0.7230" stop-color="#413d00"/><stop offset="0.7270" stop-color="#413d00"/><stop offset="0.7290" stop-color="#3b3700"/><stop offset="0.7502" stop-color="#3b3700"/><stop offset="0.7521" stop-color="#070808"/><stop offset="0.7810" stop-color="#070808"/><stop offset="0.7829" stop-color="#1a1804"/><stop offset="0.7981" stop-color="#1a1804"/><stop offset="0.8001" stop-color="#242202"/><stop offset="0.8136" stop-color="#242202"/><stop offset="0.8155" stop-color="#040508"/><stop offset="0.8281" stop-color="#040508"/><stop offset="0.8301" stop-color="#062030"/><stop offset="0.8341" stop-color="#062030"/><stop offset="0.8361" stop-color="#03090d"/><stop offset="0.8667" stop-color="#03090d"/><stop offset="0.8686" stop-color="#0e0e06"/><stop offset="0.8787" stop-color="#0e0e06"/><stop offset="0.8806" stop-color="#332f00"/><stop offset="0.8881" stop-color="#332f00"/><stop offset="0.8900" stop-color="#171605"/><stop offset="0.9112" stop-color="#171605"/><stop offset="0.9132" stop-color="#03090d"/><stop offset="0.9198" stop-color="#03090d"/><stop offset="0.9217" stop-color="#171605"/><stop offset="0.9273" stop-color="#171605"/><stop offset="0.9293" stop-color="#040b10"/><stop offset="0.9340" stop-color="#040b10"/><stop offset="0.9359" stop-color="#051824"/><stop offset="0.9400" stop-color="#051824"/><stop offset="0.9419" stop-color="#040508"/><stop offset="0.9443" stop-color="#040508"/><stop offset="0.9462" stop-color="#222003"/><stop offset="0.9580" stop-color="#222003"/><stop offset="0.9599" stop-color="#413d00"/><stop offset="0.9717" stop-color="#413d00"/><stop offset="0.9736" stop-color="#4b4800"/><stop offset="0.9922" stop-color="#4b4800"/><stop offset="0.9942" stop-color="#524e00"/><stop offset="0.9990" stop-color="#524e00"/></linearGradient>
<linearGradient id="g5" gradientUnits="userSpaceOnUse" x1="0" y1="209.4" x2="0" y2="1352.0"><stop offset="0.0010" stop-color="#565300"/><stop offset="0.0030" stop-color="#565300"/><stop offset="0.0049" stop-color="#07283a"/><stop offset="0.0116" stop-color="#07283a"/><stop offset="0.0135" stop-color="#082f45"/><stop offset="0.0167" stop-color="#082f45"/><stop offset="0.0186" stop-color="#07283a"/><stop offset="0.0253" stop-color="#07283a"/><stop offset="0.0272" stop-color="#0a3850"/><stop offset="0.0390" stop-color="#0a3850"/><stop offset="0.0409" stop-color="#040b10"/><stop offset="0.0458" stop-color="#040b10"/><stop offset="0.0477" stop-color="#062030"/><stop offset="0.0630" stop-color="#062030"/><stop offset="0.0649" stop-color="#051824"/><stop offset="0.0904" stop-color="#051824"/><stop offset="0.0923" stop-color="#040508"/><stop offset="0.0955" stop-color="#040508"/><stop offset="0.0974" stop-color="#062030"/><stop offset="0.1195" stop-color="#062030"/><stop offset="0.1214" stop-color="#040b10"/><stop offset="0.1229" stop-color="#040b10"/><stop offset="0.1249" stop-color="#0c405c"/><stop offset="0.1281" stop-color="#0c405c"/><stop offset="0.1300" stop-color="#041018"/><stop offset="0.1366" stop-color="#041018"/><stop offset="0.1386" stop-color="#0c405c"/><stop offset="0.1418" stop-color="#0c405c"/><stop offset="0.1437" stop-color="#062030"/><stop offset="0.1461" stop-color="#062030"/><stop offset="0.1480" stop-color="#4b4800"/><stop offset="0.1512" stop-color="#4b4800"/><stop offset="0.1531" stop-color="#040508"/><stop offset="0.1640" stop-color="#040508"/><stop offset="0.1660" stop-color="#051824"/><stop offset="0.1692" stop-color="#051824"/><stop offset="0.1711" stop-color="#0c405c"/><stop offset="0.1829" stop-color="#0c405c"/><stop offset="0.1848" stop-color="#413d00"/><stop offset="0.1880" stop-color="#413d00"/><stop offset="0.1900" stop-color="#040b10"/><stop offset="0.1966" stop-color="#040b10"/><stop offset="0.1985" stop-color="#0e0e06"/><stop offset="0.2137" stop-color="#0e0e06"/><stop offset="0.2157" stop-color="#197ea8"/><stop offset="0.2206" stop-color="#197ea8"/><stop offset="0.2225" stop-color="#051824"/><stop offset="0.2316" stop-color="#051824"/><stop offset="0.2335" stop-color="#222003"/><stop offset="0.2375" stop-color="#222003"/><stop offset="0.2394" stop-color="#082f45"/><stop offset="0.2469" stop-color="#082f45"/><stop offset="0.2488" stop-color="#041018"/><stop offset="0.2563" stop-color="#041018"/><stop offset="0.2583" stop-color="#0a3850"/><stop offset="0.2606" stop-color="#0a3850"/><stop offset="0.2625" stop-color="#6f6e00"/><stop offset="0.2700" stop-color="#6f6e00"/><stop offset="0.2720" stop-color="#1a1804"/><stop offset="0.2880" stop-color="#1a1804"/><stop offset="0.2900" stop-color="#2d2a00"/><stop offset="0.2975" stop-color="#2d2a00"/><stop offset="0.2994" stop-color="#040508"/><stop offset="0.3017" stop-color="#040508"/><stop offset="0.3037" stop-color="#0a3850"/><stop offset="0.3069" stop-color="#0a3850"/><stop offset="0.3088" stop-color="#041018"/><stop offset="0.3120" stop-color="#041018"/><stop offset="0.3139" stop-color="#0a3850"/><stop offset="0.3172" stop-color="#0a3850"/><stop offset="0.3191" stop-color="#041018"/><stop offset="0.3257" stop-color="#041018"/><stop offset="0.3277" stop-color="#062030"/><stop offset="0.3309" stop-color="#062030"/><stop offset="0.3328" stop-color="#1a1804"/><stop offset="0.3514" stop-color="#1a1804"/><stop offset="0.3534" stop-color="#04131d"/><stop offset="0.3720" stop-color="#04131d"/><stop offset="0.3739" stop-color="#141306"/><stop offset="0.3857" stop-color="#141306"/><stop offset="0.3876" stop-color="#040508"/><stop offset="0.4003" stop-color="#040508"/><stop offset="0.4022" stop-color="#262402"/><stop offset="0.4088" stop-color="#262402"/><stop offset="0.4108" stop-color="#1c1b04"/><stop offset="0.4182" stop-color="#1c1b04"/><stop offset="0.4202" stop-color="#040508"/><stop offset="0.4260" stop-color="#040508"/><stop offset="0.4279" stop-color="#0a3850"/><stop offset="0.4311" stop-color="#0a3850"/><stop offset="0.4330" stop-color="#041018"/><stop offset="0.4542" stop-color="#041018"/><stop offset="0.4562" stop-color="#040508"/><stop offset="0.4594" stop-color="#040508"/><stop offset="0.4613" stop-color="#222003"/><stop offset="0.4635" stop-color="#222003"/><stop offset="0.4654" stop-color="#222003"/><stop offset="0.4686" stop-color="#222003"/><stop offset="0.4705" stop-color="#03090d"/><stop offset="0.4874" stop-color="#03090d"/><stop offset="0.4893" stop-color="#0e0e06"/><stop offset="0.5097" stop-color="#0e0e06"/><stop offset="0.5116" stop-color="#2d2a00"/><stop offset="0.5148" stop-color="#2d2a00"/><stop offset="0.5167" stop-color="#0a0b07"/><stop offset="0.5285" stop-color="#0a0b07"/><stop offset="0.5305" stop-color="#040e15"/><stop offset="0.5388" stop-color="#040e15"/><stop offset="0.5407" stop-color="#070808"/><stop offset="0.5577" stop-color="#070808"/><stop offset="0.5596" stop-color="#051824"/><stop offset="0.5662" stop-color="#051824"/><stop offset="0.5681" stop-color="#0a0b07"/><stop offset="0.5799" stop-color="#0a0b07"/><stop offset="0.5819" stop-color="#040b10"/><stop offset="0.6056" stop-color="#040b10"/><stop offset="0.6076" stop-color="#041018"/><stop offset="0.6125" stop-color="#041018"/><stop offset="0.6144" stop-color="#040508"/><stop offset="0.6210" stop-color="#040508"/><stop offset="0.6230" stop-color="#222003"/><stop offset="0.6262" stop-color="#222003"/><stop offset="0.6281" stop-color="#040e15"/><stop offset="0.6485" stop-color="#040e15"/><stop offset="0.6504" stop-color="#0a0b07"/><stop offset="0.6690" stop-color="#0a0b07"/><stop offset="0.6709" stop-color="#040c12"/><stop offset="0.6793" stop-color="#040c12"/><stop offset="0.6812" stop-color="#1c1b04"/><stop offset="0.6913" stop-color="#1c1b04"/><stop offset="0.6932" stop-color="#565300"/><stop offset="0.6954" stop-color="#565300"/><stop offset="0.6973" stop-color="#6f6e00"/><stop offset="0.6991" stop-color="#6f6e00"/><stop offset="0.7010" stop-color="#030a0e"/><stop offset="0.7262" stop-color="#030a0e"/><stop offset="0.7281" stop-color="#4b4800"/><stop offset="0.7305" stop-color="#4b4800"/><stop offset="0.7324" stop-color="#7d7b00"/><stop offset="0.7365" stop-color="#7d7b00"/><stop offset="0.7384" stop-color="#1a1804"/><stop offset="0.7450" stop-color="#1a1804"/><stop offset="0.7470" stop-color="#1f1d04"/><stop offset="0.7519" stop-color="#1f1d04"/><stop offset="0.7538" stop-color="#051824"/><stop offset="0.7596" stop-color="#051824"/><stop offset="0.7615" stop-color="#040c12"/><stop offset="0.7767" stop-color="#040c12"/><stop offset="0.7787" stop-color="#062334"/><stop offset="0.7827" stop-color="#062334"/><stop offset="0.7847" stop-color="#03090d"/><stop offset="0.7896" stop-color="#03090d"/><stop offset="0.7915" stop-color="#051824"/><stop offset="0.7964" stop-color="#051824"/><stop offset="0.7984" stop-color="#070808"/><stop offset="0.8084" stop-color="#070808"/><stop offset="0.8104" stop-color="#041018"/><stop offset="0.8204" stop-color="#041018"/><stop offset="0.8223" stop-color="#0e0e06"/><stop offset="0.8281" stop-color="#0e0e06"/><stop offset="0.8301" stop-color="#062334"/><stop offset="0.8376" stop-color="#062334"/><stop offset="0.8395" stop-color="#041018"/><stop offset="0.8598" stop-color="#041018"/><stop offset="0.8618" stop-color="#051824"/><stop offset="0.8650" stop-color="#051824"/><stop offset="0.8669" stop-color="#040508"/><stop offset="0.8735" stop-color="#040508"/><stop offset="0.8755" stop-color="#262402"/><stop offset="0.8795" stop-color="#262402"/><stop offset="0.8815" stop-color="#141306"/><stop offset="0.8890" stop-color="#141306"/><stop offset="0.8909" stop-color="#051a26"/><stop offset="0.9095" stop-color="#051a26"/><stop offset="0.9114" stop-color="#07283a"/><stop offset="0.9232" stop-color="#07283a"/><stop offset="0.9251" stop-color="#041018"/><stop offset="0.9273" stop-color="#041018"/><stop offset="0.9293" stop-color="#040b10"/><stop offset="0.9297" stop-color="#040b10"/><stop offset="0.9316" stop-color="#0c405c"/><stop offset="0.9383" stop-color="#0c405c"/><stop offset="0.9402" stop-color="#040508"/><stop offset="0.9434" stop-color="#040508"/><stop offset="0.9453" stop-color="#0a3850"/><stop offset="0.9485" stop-color="#0a3850"/><stop offset="0.9505" stop-color="#082c41"/><stop offset="0.9614" stop-color="#082c41"/><stop offset="0.9633" stop-color="#062030"/><stop offset="0.9751" stop-color="#062030"/><stop offset="0.9770" stop-color="#082c41"/><stop offset="0.9922" stop-color="#082c41"/><stop offset="0.9942" stop-color="#09344c"/><stop offset="0.9990" stop-color="#09344c"/></linearGradient>
<linearGradient id="g6" gradientUnits="userSpaceOnUse" x1="0" y1="209.4" x2="0" y2="1352.0"><stop offset="0.0010" stop-color="#6f6e00"/><stop offset="0.0026" stop-color="#6f6e00"/><stop offset="0.0046" stop-color="#0a3850"/><stop offset="0.0167" stop-color="#0a3850"/><stop offset="0.0186" stop-color="#082f45"/><stop offset="0.0304" stop-color="#082f45"/><stop offset="0.0323" stop-color="#041018"/><stop offset="0.0347" stop-color="#041018"/><stop offset="0.0366" stop-color="#0c405c"/><stop offset="0.0398" stop-color="#0c405c"/><stop offset="0.0418" stop-color="#051824"/><stop offset="0.0493" stop-color="#051824"/><stop offset="0.0512" stop-color="#07283a"/><stop offset="0.0578" stop-color="#07283a"/><stop offset="0.0597" stop-color="#040508"/><stop offset="0.0621" stop-color="#040508"/><stop offset="0.0640" stop-color="#051824"/><stop offset="0.0681" stop-color="#051824"/><stop offset="0.0700" stop-color="#413d00"/><stop offset="0.0767" stop-color="#413d00"/><stop offset="0.0786" stop-color="#040508"/><stop offset="0.0818" stop-color="#040508"/><stop offset="0.0837" stop-color="#222003"/><stop offset="0.0852" stop-color="#222003"/><stop offset="0.0872" stop-color="#040508"/><stop offset="0.1178" stop-color="#040508"/><stop offset="0.1197" stop-color="#413d00"/><stop offset="0.1229" stop-color="#413d00"/><stop offset="0.1249" stop-color="#141306"/><stop offset="0.1272" stop-color="#141306"/><stop offset="0.1291" stop-color="#373300"/><stop offset="0.1349" stop-color="#373300"/><stop offset="0.1368" stop-color="#4b4800"/><stop offset="0.1503" stop-color="#4b4800"/><stop offset="0.1523" stop-color="#2d2a00"/><stop offset="0.1546" stop-color="#2d2a00"/><stop offset="0.1565" stop-color="#4b4800"/><stop offset="0.1598" stop-color="#4b4800"/><stop offset="0.1617" stop-color="#222003"/><stop offset="0.1640" stop-color="#222003"/><stop offset="0.1660" stop-color="#565300"/><stop offset="0.1778" stop-color="#565300"/><stop offset="0.1797" stop-color="#040508"/><stop offset="0.1826" stop-color="#040508"/><stop offset="0.1845" stop-color="#4b4800"/><stop offset="0.1932" stop-color="#4b4800"/><stop offset="0.1951" stop-color="#413d00"/><stop offset="0.2000" stop-color="#413d00"/><stop offset="0.2020" stop-color="#4b4800"/><stop offset="0.2103" stop-color="#4b4800"/><stop offset="0.2122" stop-color="#222003"/><stop offset="0.2206" stop-color="#222003"/><stop offset="0.2225" stop-color="#040b10"/><stop offset="0.2316" stop-color="#040b10"/><stop offset="0.2335" stop-color="#040508"/><stop offset="0.2375" stop-color="#040508"/><stop offset="0.2394" stop-color="#565300"/><stop offset="0.2469" stop-color="#565300"/><stop offset="0.2488" stop-color="#2d2a00"/><stop offset="0.2521" stop-color="#2d2a00"/><stop offset="0.2540" stop-color="#4b4800"/><stop offset="0.2606" stop-color="#4b4800"/><stop offset="0.2625" stop-color="#0a3850"/><stop offset="0.2700" stop-color="#0a3850"/><stop offset="0.2720" stop-color="#03090d"/><stop offset="0.2795" stop-color="#03090d"/><stop offset="0.2814" stop-color="#041018"/><stop offset="0.2975" stop-color="#041018"/><stop offset="0.2994" stop-color="#4b4800"/><stop offset="0.3035" stop-color="#4b4800"/><stop offset="0.3054" stop-color="#222003"/><stop offset="0.3069" stop-color="#222003"/><stop offset="0.3088" stop-color="#040508"/><stop offset="0.3257" stop-color="#040508"/><stop offset="0.3277" stop-color="#041018"/><stop offset="0.3394" stop-color="#041018"/><stop offset="0.3414" stop-color="#062030"/><stop offset="0.3480" stop-color="#062030"/><stop offset="0.3499" stop-color="#082f45"/><stop offset="0.3531" stop-color="#082f45"/><stop offset="0.3551" stop-color="#041018"/><stop offset="0.3583" stop-color="#041018"/><stop offset="0.3602" stop-color="#07283a"/><stop offset="0.3634" stop-color="#07283a"/><stop offset="0.3653" stop-color="#040b10"/><stop offset="0.3848" stop-color="#040b10"/><stop offset="0.3868" stop-color="#07283a"/><stop offset="0.3908" stop-color="#07283a"/><stop offset="0.3928" stop-color="#040508"/><stop offset="0.3951" stop-color="#040508"/><stop offset="0.3970" stop-color="#413d00"/><stop offset="0.4003" stop-color="#413d00"/><stop offset="0.4022" stop-color="#2d2a00"/><stop offset="0.4217" stop-color="#2d2a00"/><stop offset="0.4236" stop-color="#041018"/><stop offset="0.4285" stop-color="#041018"/><stop offset="0.4305" stop-color="#2d2a00"/><stop offset="0.4320" stop-color="#2d2a00"/><stop offset="0.4339" stop-color="#777600"/><stop offset="0.4457" stop-color="#777600"/><stop offset="0.4476" stop-color="#040508"/><stop offset="0.4594" stop-color="#040508"/><stop offset="0.4613" stop-color="#222003"/><stop offset="0.4635" stop-color="#222003"/><stop offset="0.4654" stop-color="#413d00"/><stop offset="0.4686" stop-color="#413d00"/><stop offset="0.4705" stop-color="#040508"/><stop offset="0.4737" stop-color="#040508"/><stop offset="0.4756" stop-color="#222003"/><stop offset="0.4780" stop-color="#222003"/><stop offset="0.4799" stop-color="#040508"/><stop offset="0.4823" stop-color="#040508"/><stop offset="0.4842" stop-color="#332f00"/><stop offset="0.4874" stop-color="#332f00"/><stop offset="0.4893" stop-color="#1c1b04"/><stop offset="0.4917" stop-color="#1c1b04"/><stop offset="0.4936" stop-color="#03080b"/><stop offset="0.5063" stop-color="#03080b"/><stop offset="0.5082" stop-color="#041018"/><stop offset="0.5114" stop-color="#041018"/><stop offset="0.5133" stop-color="#082f45"/><stop offset="0.5200" stop-color="#082f45"/><stop offset="0.5219" stop-color="#051824"/><stop offset="0.5337" stop-color="#051824"/><stop offset="0.5356" stop-color="#07283a"/><stop offset="0.5422" stop-color="#07283a"/><stop offset="0.5442" stop-color="#1c1b04"/><stop offset="0.5491" stop-color="#1c1b04"/><stop offset="0.5510" stop-color="#292602"/><stop offset="0.5559" stop-color="#292602"/><stop offset="0.5579" stop-color="#030a0e"/><stop offset="0.5645" stop-color="#030a0e"/><stop offset="0.5664" stop-color="#111006"/><stop offset="0.5696" stop-color="#111006"/><stop offset="0.5716" stop-color="#03090d"/><stop offset="0.5919" stop-color="#03090d"/><stop offset="0.5938" stop-color="#051824"/><stop offset="0.6022" stop-color="#051824"/><stop offset="0.6041" stop-color="#040508"/><stop offset="0.6073" stop-color="#040508"/><stop offset="0.6093" stop-color="#041018"/><stop offset="0.6159" stop-color="#041018"/><stop offset="0.6178" stop-color="#040508"/><stop offset="0.6210" stop-color="#040508"/><stop offset="0.6230" stop-color="#1c1b04"/><stop offset="0.6262" stop-color="#1c1b04"/><stop offset="0.6281" stop-color="#040b10"/><stop offset="0.6476" stop-color="#040b10"/><stop offset="0.6495" stop-color="#061d2b"/><stop offset="0.6605" stop-color="#061d2b"/><stop offset="0.6624" stop-color="#040b10"/><stop offset="0.6656" stop-color="#040b10"/><stop offset="0.6675" stop-color="#332f00"/><stop offset="0.6716" stop-color="#332f00"/><stop offset="0.6735" stop-color="#040508"/><stop offset="0.6767" stop-color="#040508"/><stop offset="0.6787" stop-color="#262402"/><stop offset="0.6896" stop-color="#262402"/><stop offset="0.6915" stop-color="#040b10"/><stop offset="0.6954" stop-color="#040b10"/><stop offset="0.6973" stop-color="#040e15"/><stop offset="0.7073" stop-color="#040e15"/><stop offset="0.7093" stop-color="#040508"/><stop offset="0.7159" stop-color="#040508"/><stop offset="0.7178" stop-color="#051824"/><stop offset="0.7262" stop-color="#051824"/><stop offset="0.7281" stop-color="#222003"/><stop offset="0.7365" stop-color="#222003"/><stop offset="0.7384" stop-color="#1c1b04"/><stop offset="0.7467" stop-color="#1c1b04"/><stop offset="0.7487" stop-color="#041018"/><stop offset="0.7545" stop-color="#041018"/><stop offset="0.7564" stop-color="#4f4c00"/><stop offset="0.7639" stop-color="#4f4c00"/><stop offset="0.7658" stop-color="#222003"/><stop offset="0.7690" stop-color="#222003"/><stop offset="0.7709" stop-color="#040508"/><stop offset="0.7999" stop-color="#040508"/><stop offset="0.8018" stop-color="#040c12"/><stop offset="0.8187" stop-color="#040c12"/><stop offset="0.8206" stop-color="#1c1b04"/><stop offset="0.8324" stop-color="#1c1b04"/><stop offset="0.8343" stop-color="#062030"/><stop offset="0.8427" stop-color="#062030"/><stop offset="0.8446" stop-color="#040508"/><stop offset="0.8495" stop-color="#040508"/><stop offset="0.8515" stop-color="#040e15"/><stop offset="0.8598" stop-color="#040e15"/><stop offset="0.8618" stop-color="#061d2b"/><stop offset="0.8787" stop-color="#061d2b"/><stop offset="0.8806" stop-color="#1c1b04"/><stop offset="0.8924" stop-color="#1c1b04"/><stop offset="0.8943" stop-color="#03090d"/><stop offset="0.9061" stop-color="#03090d"/><stop offset="0.9080" stop-color="#141306"/><stop offset="0.9181" stop-color="#141306"/><stop offset="0.9200" stop-color="#040508"/><stop offset="0.9249" stop-color="#040508"/><stop offset="0.9269" stop-color="#8b8900"/><stop offset="0.9273" stop-color="#8b8900"/><stop offset="0.9290" stop-color="#bab800"/><stop offset="0.9291" stop-color="#bab800"/><stop offset="0.9308" stop-color="#ebec00"/><stop offset="0.9357" stop-color="#ebec00"/><stop offset="0.9376" stop-color="#999600"/><stop offset="0.9434" stop-color="#999600"/><stop offset="0.9453" stop-color="#2d2a00"/><stop offset="0.9494" stop-color="#2d2a00"/><stop offset="0.9513" stop-color="#3b3700"/><stop offset="0.9631" stop-color="#3b3700"/><stop offset="0.9650" stop-color="#2d2a00"/><stop offset="0.9674" stop-color="#2d2a00"/><stop offset="0.9693" stop-color="#413d00"/><stop offset="0.9768" stop-color="#413d00"/><stop offset="0.9787" stop-color="#4f4c00"/><stop offset="0.9888" stop-color="#4f4c00"/><stop offset="0.9907" stop-color="#7d7b00"/><stop offset="0.9948" stop-color="#7d7b00"/><stop offset="0.9967" stop-color="#626000"/><stop offset="0.9990" stop-color="#626000"/></linearGradient>
<linearGradient id="g7" gradientUnits="userSpaceOnUse" x1="0" y1="209.4" x2="0" y2="1352.0"><stop offset="0.0010" stop-color="#2d2a00"/><stop offset="0.0026" stop-color="#2d2a00"/><stop offset="0.0046" stop-color="#125c80"/><stop offset="0.0081" stop-color="#125c80"/><stop offset="0.0101" stop-color="#197ea8"/><stop offset="0.0210" stop-color="#197ea8"/><stop offset="0.0229" stop-color="#0f4e6e"/><stop offset="0.0304" stop-color="#0f4e6e"/><stop offset="0.0323" stop-color="#0a3850"/><stop offset="0.0398" stop-color="#0a3850"/><stop offset="0.0418" stop-color="#07283a"/><stop offset="0.0458" stop-color="#07283a"/><stop offset="0.0477" stop-color="#0f4e6e"/><stop offset="0.0578" stop-color="#0f4e6e"/><stop offset="0.0597" stop-color="#062030"/><stop offset="0.0681" stop-color="#062030"/><stop offset="0.0700" stop-color="#07283a"/><stop offset="0.0818" stop-color="#07283a"/><stop offset="0.0837" stop-color="#040508"/><stop offset="0.1041" stop-color="#040508"/><stop offset="0.1060" stop-color="#0f4e6e"/><stop offset="0.1178" stop-color="#0f4e6e"/><stop offset="0.1197" stop-color="#222003"/><stop offset="0.1229" stop-color="#222003"/><stop offset="0.1249" stop-color="#041018"/><stop offset="0.1366" stop-color="#041018"/><stop offset="0.1386" stop-color="#2d2a00"/><stop offset="0.1452" stop-color="#2d2a00"/><stop offset="0.1471" stop-color="#040508"/><stop offset="0.1598" stop-color="#040508"/><stop offset="0.1617" stop-color="#373300"/><stop offset="0.1683" stop-color="#373300"/><stop offset="0.1703" stop-color="#040508"/><stop offset="0.1778" stop-color="#040508"/><stop offset="0.1797" stop-color="#1c8cbc"/><stop offset="0.1832" stop-color="#1c8cbc"/><stop offset="0.1852" stop-color="#0e0e06"/><stop offset="0.2052" stop-color="#0e0e06"/><stop offset="0.2071" stop-color="#051824"/><stop offset="0.2146" stop-color="#051824"/><stop offset="0.2165" stop-color="#082f45"/><stop offset="0.2206" stop-color="#082f45"/><stop offset="0.2225" stop-color="#062030"/><stop offset="0.2316" stop-color="#062030"/><stop offset="0.2335" stop-color="#040508"/><stop offset="0.2521" stop-color="#040508"/><stop offset="0.2540" stop-color="#040d13"/><stop offset="0.2606" stop-color="#040d13"/><stop offset="0.2625" stop-color="#061d2b"/><stop offset="0.2743" stop-color="#061d2b"/><stop offset="0.2762" stop-color="#041018"/><stop offset="0.2932" stop-color="#041018"/><stop offset="0.2951" stop-color="#2d2a00"/><stop offset="0.3026" stop-color="#2d2a00"/><stop offset="0.3045" stop-color="#040508"/><stop offset="0.3069" stop-color="#040508"/><stop offset="0.3088" stop-color="#14678c"/><stop offset="0.3120" stop-color="#14678c"/><stop offset="0.3139" stop-color="#062030"/><stop offset="0.3163" stop-color="#062030"/><stop offset="0.3182" stop-color="#040508"/><stop offset="0.3300" stop-color="#040508"/><stop offset="0.3319" stop-color="#4b4800"/><stop offset="0.3394" stop-color="#4b4800"/><stop offset="0.3414" stop-color="#222003"/><stop offset="0.3489" stop-color="#222003"/><stop offset="0.3508" stop-color="#040508"/><stop offset="0.3531" stop-color="#040508"/><stop offset="0.3551" stop-color="#413d00"/><stop offset="0.3617" stop-color="#413d00"/><stop offset="0.3636" stop-color="#040508"/><stop offset="0.3711" stop-color="#040508"/><stop offset="0.3731" stop-color="#07283a"/><stop offset="0.3848" stop-color="#07283a"/><stop offset="0.3868" stop-color="#14678c"/><stop offset="0.3943" stop-color="#14678c"/><stop offset="0.3962" stop-color="#082f45"/><stop offset="0.4045" stop-color="#082f45"/><stop offset="0.4065" stop-color="#041018"/><stop offset="0.4088" stop-color="#041018"/><stop offset="0.4108" stop-color="#082f45"/><stop offset="0.4174" stop-color="#082f45"/><stop offset="0.4193" stop-color="#0a3850"/><stop offset="0.4268" stop-color="#0a3850"/><stop offset="0.4287" stop-color="#04131d"/><stop offset="0.4491" stop-color="#04131d"/><stop offset="0.4510" stop-color="#2d2a00"/><stop offset="0.4542" stop-color="#2d2a00"/><stop offset="0.4562" stop-color="#413d00"/><stop offset="0.4611" stop-color="#413d00"/><stop offset="0.4630" stop-color="#2d2a00"/><stop offset="0.4635" stop-color="#2d2a00"/><stop offset="0.4654" stop-color="#0e0e06"/><stop offset="0.4737" stop-color="#0e0e06"/><stop offset="0.4756" stop-color="#040508"/><stop offset="0.4823" stop-color="#040508"/><stop offset="0.4842" stop-color="#292602"/><stop offset="0.4917" stop-color="#292602"/><stop offset="0.4936" stop-color="#040e15"/><stop offset="0.5045" stop-color="#040e15"/><stop offset="0.5065" stop-color="#2f2c00"/><stop offset="0.5105" stop-color="#2f2c00"/><stop offset="0.5125" stop-color="#041018"/><stop offset="0.5285" stop-color="#041018"/><stop offset="0.5305" stop-color="#061d2b"/><stop offset="0.5371" stop-color="#061d2b"/><stop offset="0.5390" stop-color="#0c405c"/><stop offset="0.5431" stop-color="#0c405c"/><stop offset="0.5450" stop-color="#040508"/><stop offset="0.5645" stop-color="#040508"/><stop offset="0.5664" stop-color="#171605"/><stop offset="0.5696" stop-color="#171605"/><stop offset="0.5716" stop-color="#040508"/><stop offset="0.5936" stop-color="#040508"/><stop offset="0.5956" stop-color="#03090d"/><stop offset="0.6159" stop-color="#03090d"/><stop offset="0.6178" stop-color="#051824"/><stop offset="0.6210" stop-color="#051824"/><stop offset="0.6230" stop-color="#040508"/><stop offset="0.6656" stop-color="#040508"/><stop offset="0.6675" stop-color="#041018"/><stop offset="0.6759" stop-color="#041018"/><stop offset="0.6778" stop-color="#040508"/><stop offset="0.6862" stop-color="#040508"/><stop offset="0.6881" stop-color="#171605"/><stop offset="0.6913" stop-color="#171605"/><stop offset="0.6932" stop-color="#040b10"/><stop offset="0.6954" stop-color="#040b10"/><stop offset="0.6973" stop-color="#040e15"/><stop offset="0.7073" stop-color="#040e15"/><stop offset="0.7093" stop-color="#070808"/><stop offset="0.7168" stop-color="#070808"/><stop offset="0.7187" stop-color="#262402"/><stop offset="0.7219" stop-color="#262402"/><stop offset="0.7238" stop-color="#051824"/><stop offset="0.7313" stop-color="#051824"/><stop offset="0.7333" stop-color="#141306"/><stop offset="0.7416" stop-color="#141306"/><stop offset="0.7435" stop-color="#040508"/><stop offset="0.7553" stop-color="#040508"/><stop offset="0.7572" stop-color="#1c1b04"/><stop offset="0.7639" stop-color="#1c1b04"/><stop offset="0.7658" stop-color="#2f2c00"/><stop offset="0.7690" stop-color="#2f2c00"/><stop offset="0.7709" stop-color="#03090d"/><stop offset="0.8050" stop-color="#03090d"/><stop offset="0.8069" stop-color="#05151f"/><stop offset="0.8153" stop-color="#05151f"/><stop offset="0.8172" stop-color="#040e15"/><stop offset="0.8238" stop-color="#040e15"/><stop offset="0.8258" stop-color="#040508"/><stop offset="0.8376" stop-color="#040508"/><stop offset="0.8395" stop-color="#1a1804"/><stop offset="0.8478" stop-color="#1a1804"/><stop offset="0.8498" stop-color="#040508"/><stop offset="0.8890" stop-color="#040508"/><stop offset="0.8909" stop-color="#040e15"/><stop offset="0.9078" stop-color="#040e15"/><stop offset="0.9097" stop-color="#03090d"/><stop offset="0.9249" stop-color="#03090d"/><stop offset="0.9269" stop-color="#222003"/><stop offset="0.9273" stop-color="#222003"/><stop offset="0.9293" stop-color="#2d2a00"/><stop offset="0.9297" stop-color="#2d2a00"/><stop offset="0.9316" stop-color="#4b4800"/><stop offset="0.9340" stop-color="#4b4800"/><stop offset="0.9359" stop-color="#3d3900"/><stop offset="0.9434" stop-color="#3d3900"/><stop offset="0.9453" stop-color="#040508"/><stop offset="0.9485" stop-color="#040508"/><stop offset="0.9505" stop-color="#062334"/><stop offset="0.9622" stop-color="#062334"/><stop offset="0.9642" stop-color="#04131d"/><stop offset="0.9717" stop-color="#04131d"/><stop offset="0.9736" stop-color="#040508"/><stop offset="0.9802" stop-color="#040508"/><stop offset="0.9822" stop-color="#262402"/><stop offset="0.9905" stop-color="#262402"/><stop offset="0.9924" stop-color="#413d00"/><stop offset="0.9990" stop-color="#413d00"/></linearGradient>
<linearGradient id="g8" gradientUnits="userSpaceOnUse" x1="0" y1="209.4" x2="0" y2="1352.0"><stop offset="0.0010" stop-color="#4b4800"/><stop offset="0.0026" stop-color="#4b4800"/><stop offset="0.0046" stop-color="#413d00"/><stop offset="0.0158" stop-color="#413d00"/><stop offset="0.0178" stop-color="#626000"/><stop offset="0.0210" stop-color="#626000"/><stop offset="0.0229" stop-color="#040508"/><stop offset="0.0347" stop-color="#040508"/><stop offset="0.0366" stop-color="#4b4800"/><stop offset="0.0441" stop-color="#4b4800"/><stop offset="0.0460" stop-color="#373300"/><stop offset="0.0493" stop-color="#373300"/><stop offset="0.0512" stop-color="#413d00"/><stop offset="0.0544" stop-color="#413d00"/><stop offset="0.0563" stop-color="#262402"/><stop offset="0.0681" stop-color="#262402"/><stop offset="0.0700" stop-color="#1c1b04"/><stop offset="0.0818" stop-color="#1c1b04"/><stop offset="0.0837" stop-color="#565300"/><stop offset="0.0861" stop-color="#565300"/><stop offset="0.0880" stop-color="#03090d"/><stop offset="0.1041" stop-color="#03090d"/><stop offset="0.1060" stop-color="#4b4800"/><stop offset="0.1178" stop-color="#4b4800"/><stop offset="0.1197" stop-color="#565300"/><stop offset="0.1229" stop-color="#565300"/><stop offset="0.1249" stop-color="#0e0e06"/><stop offset="0.1272" stop-color="#0e0e06"/><stop offset="0.1291" stop-color="#2d2a00"/><stop offset="0.1315" stop-color="#2d2a00"/><stop offset="0.1334" stop-color="#6f6e00"/><stop offset="0.1366" stop-color="#6f6e00"/><stop offset="0.1386" stop-color="#4b4800"/><stop offset="0.1503" stop-color="#4b4800"/><stop offset="0.1523" stop-color="#2d2a00"/><stop offset="0.1598" stop-color="#2d2a00"/><stop offset="0.1617" stop-color="#03090d"/><stop offset="0.1778" stop-color="#03090d"/><stop offset="0.1797" stop-color="#197ea8"/><stop offset="0.1832" stop-color="#197ea8"/><stop offset="0.1852" stop-color="#222003"/><stop offset="0.1966" stop-color="#222003"/><stop offset="0.1985" stop-color="#040508"/><stop offset="0.2009" stop-color="#040508"/><stop offset="0.2028" stop-color="#373300"/><stop offset="0.2060" stop-color="#373300"/><stop offset="0.2080" stop-color="#040b10"/><stop offset="0.2223" stop-color="#040b10"/><stop offset="0.2242" stop-color="#051824"/><stop offset="0.2316" stop-color="#051824"/><stop offset="0.2335" stop-color="#1c1b04"/><stop offset="0.2418" stop-color="#1c1b04"/><stop offset="0.2437" stop-color="#040b10"/><stop offset="0.2606" stop-color="#040b10"/><stop offset="0.2625" stop-color="#082f45"/><stop offset="0.2700" stop-color="#082f45"/><stop offset="0.2720" stop-color="#040508"/><stop offset="0.2743" stop-color="#040508"/><stop offset="0.2762" stop-color="#4b4800"/><stop offset="0.2795" stop-color="#4b4800"/><stop offset="0.2814" stop-color="#040508"/><stop offset="0.2889" stop-color="#040508"/><stop offset="0.2908" stop-color="#041018"/><stop offset="0.2932" stop-color="#041018"/><stop offset="0.2951" stop-color="#040508"/><stop offset="0.2975" stop-color="#040508"/><stop offset="0.2994" stop-color="#062030"/><stop offset="0.3163" stop-color="#062030"/><stop offset="0.3182" stop-color="#041018"/><stop offset="0.3300" stop-color="#041018"/><stop offset="0.3319" stop-color="#171605"/><stop offset="0.3394" stop-color="#171605"/><stop offset="0.3414" stop-color="#061d2b"/><stop offset="0.3531" stop-color="#061d2b"/><stop offset="0.3551" stop-color="#262402"/><stop offset="0.3583" stop-color="#262402"/><stop offset="0.3602" stop-color="#062030"/><stop offset="0.3686" stop-color="#062030"/><stop offset="0.3705" stop-color="#041018"/><stop offset="0.3754" stop-color="#041018"/><stop offset="0.3773" stop-color="#040508"/><stop offset="0.3951" stop-color="#040508"/><stop offset="0.3970" stop-color="#433f00"/><stop offset="0.4080" stop-color="#433f00"/><stop offset="0.4099" stop-color="#373300"/><stop offset="0.4217" stop-color="#373300"/><stop offset="0.4236" stop-color="#373300"/><stop offset="0.4268" stop-color="#373300"/><stop offset="0.4287" stop-color="#141306"/><stop offset="0.4320" stop-color="#141306"/><stop offset="0.4339" stop-color="#4f4c00"/><stop offset="0.4405" stop-color="#4f4c00"/><stop offset="0.4424" stop-color="#373300"/><stop offset="0.4499" stop-color="#373300"/><stop offset="0.4519" stop-color="#585500"/><stop offset="0.4594" stop-color="#585500"/><stop offset="0.4613" stop-color="#373300"/><stop offset="0.4635" stop-color="#373300"/><stop offset="0.4654" stop-color="#332f00"/><stop offset="0.4754" stop-color="#332f00"/><stop offset="0.4773" stop-color="#040e15"/><stop offset="0.4908" stop-color="#040e15"/><stop offset="0.4928" stop-color="#171605"/><stop offset="0.4960" stop-color="#171605"/><stop offset="0.4979" stop-color="#040508"/><stop offset="0.5045" stop-color="#040508"/><stop offset="0.5065" stop-color="#041018"/><stop offset="0.5114" stop-color="#041018"/><stop offset="0.5133" stop-color="#111006"/><stop offset="0.5200" stop-color="#111006"/><stop offset="0.5219" stop-color="#040e15"/><stop offset="0.5439" stop-color="#040e15"/><stop offset="0.5459" stop-color="#1c1b04"/><stop offset="0.5508" stop-color="#1c1b04"/><stop offset="0.5527" stop-color="#03090d"/><stop offset="0.5782" stop-color="#03090d"/><stop offset="0.5801" stop-color="#040c12"/><stop offset="0.5902" stop-color="#040c12"/><stop offset="0.5921" stop-color="#040c12"/><stop offset="0.6005" stop-color="#040c12"/><stop offset="0.6024" stop-color="#1c1b04"/><stop offset="0.6073" stop-color="#1c1b04"/><stop offset="0.6093" stop-color="#040508"/><stop offset="0.6142" stop-color="#040508"/><stop offset="0.6161" stop-color="#242202"/><stop offset="0.6210" stop-color="#242202"/><stop offset="0.6230" stop-color="#0e0e06"/><stop offset="0.6570" stop-color="#0e0e06"/><stop offset="0.6590" stop-color="#262402"/><stop offset="0.6622" stop-color="#262402"/><stop offset="0.6641" stop-color="#03090d"/><stop offset="0.6665" stop-color="#03090d"/><stop offset="0.6684" stop-color="#2d2a00"/><stop offset="0.6716" stop-color="#2d2a00"/><stop offset="0.6735" stop-color="#030a0e"/><stop offset="0.6793" stop-color="#030a0e"/><stop offset="0.6812" stop-color="#061d2b"/><stop offset="0.6879" stop-color="#061d2b"/><stop offset="0.6898" stop-color="#040c12"/><stop offset="0.6954" stop-color="#040c12"/><stop offset="0.6973" stop-color="#040508"/><stop offset="0.6988" stop-color="#040508"/><stop offset="0.7007" stop-color="#051824"/><stop offset="0.7176" stop-color="#051824"/><stop offset="0.7195" stop-color="#040508"/><stop offset="0.7219" stop-color="#040508"/><stop offset="0.7238" stop-color="#051824"/><stop offset="0.7279" stop-color="#051824"/><stop offset="0.7298" stop-color="#040508"/><stop offset="0.7348" stop-color="#040508"/><stop offset="0.7367" stop-color="#041018"/><stop offset="0.7433" stop-color="#041018"/><stop offset="0.7452" stop-color="#082f45"/><stop offset="0.7545" stop-color="#082f45"/><stop offset="0.7564" stop-color="#040508"/><stop offset="0.7605" stop-color="#040508"/><stop offset="0.7624" stop-color="#1f1d04"/><stop offset="0.7690" stop-color="#1f1d04"/><stop offset="0.7709" stop-color="#040508"/><stop offset="0.7733" stop-color="#040508"/><stop offset="0.7752" stop-color="#1c1b04"/><stop offset="0.7793" stop-color="#1c1b04"/><stop offset="0.7812" stop-color="#05151f"/><stop offset="0.7879" stop-color="#05151f"/><stop offset="0.7898" stop-color="#040508"/><stop offset="0.8067" stop-color="#040508"/><stop offset="0.8086" stop-color="#040e15"/><stop offset="0.8153" stop-color="#040e15"/><stop offset="0.8172" stop-color="#040e15"/><stop offset="0.8427" stop-color="#040e15"/><stop offset="0.8446" stop-color="#051a26"/><stop offset="0.8495" stop-color="#051a26"/><stop offset="0.8515" stop-color="#040b10"/><stop offset="0.8573" stop-color="#040b10"/><stop offset="0.8592" stop-color="#082f45"/><stop offset="0.8658" stop-color="#082f45"/><stop offset="0.8678" stop-color="#141306"/><stop offset="0.8752" stop-color="#141306"/><stop offset="0.8772" stop-color="#040508"/><stop offset="0.8890" stop-color="#040508"/><stop offset="0.8909" stop-color="#051824"/><stop offset="0.9010" stop-color="#051824"/><stop offset="0.9029" stop-color="#040b10"/><stop offset="0.9164" stop-color="#040b10"/><stop offset="0.9183" stop-color="#040508"/><stop offset="0.9249" stop-color="#040508"/><stop offset="0.9269" stop-color="#222003"/><stop offset="0.9273" stop-color="#222003"/><stop offset="0.9293" stop-color="#2d2a00"/><stop offset="0.9297" stop-color="#2d2a00"/><stop offset="0.9316" stop-color="#4f4c00"/><stop offset="0.9340" stop-color="#4f4c00"/><stop offset="0.9359" stop-color="#373300"/><stop offset="0.9391" stop-color="#373300"/><stop offset="0.9410" stop-color="#626000"/><stop offset="0.9434" stop-color="#626000"/><stop offset="0.9453" stop-color="#565300"/><stop offset="0.9571" stop-color="#565300"/><stop offset="0.9590" stop-color="#3b3700"/><stop offset="0.9622" stop-color="#3b3700"/><stop offset="0.9642" stop-color="#565300"/><stop offset="0.9665" stop-color="#565300"/><stop offset="0.9685" stop-color="#373300"/><stop offset="0.9802" stop-color="#373300"/><stop offset="0.9822" stop-color="#565300"/><stop offset="0.9854" stop-color="#565300"/><stop offset="0.9873" stop-color="#5d5b00"/><stop offset="0.9948" stop-color="#5d5b00"/><stop offset="0.9967" stop-color="#040508"/><stop offset="0.9990" stop-color="#040508"/></linearGradient>
<linearGradient id="g9" gradientUnits="userSpaceOnUse" x1="0" y1="209.4" x2="0" y2="1352.0"><stop offset="0.0010" stop-color="#fafc00"/><stop offset="0.0026" stop-color="#fafc00"/><stop offset="0.0046" stop-color="#6f6e00"/><stop offset="0.0073" stop-color="#6f6e00"/><stop offset="0.0092" stop-color="#999600"/><stop offset="0.0210" stop-color="#999600"/><stop offset="0.0229" stop-color="#a9a700"/><stop offset="0.0253" stop-color="#a9a700"/><stop offset="0.0272" stop-color="#999600"/><stop offset="0.0475" stop-color="#999600"/><stop offset="0.0495" stop-color="#a9a700"/><stop offset="0.0510" stop-color="#a9a700"/><stop offset="0.0529" stop-color="#999600"/><stop offset="0.0630" stop-color="#999600"/><stop offset="0.0649" stop-color="#a9a700"/><stop offset="0.0681" stop-color="#a9a700"/><stop offset="0.0700" stop-color="#626000"/><stop offset="0.0715" stop-color="#626000"/><stop offset="0.0734" stop-color="#999600"/><stop offset="0.0852" stop-color="#999600"/><stop offset="0.0872" stop-color="#a9a700"/><stop offset="0.0887" stop-color="#a9a700"/><stop offset="0.0906" stop-color="#999600"/><stop offset="0.1041" stop-color="#999600"/><stop offset="0.1060" stop-color="#dcdc00"/><stop offset="0.1126" stop-color="#dcdc00"/><stop offset="0.1146" stop-color="#ebec00"/><stop offset="0.1178" stop-color="#ebec00"/><stop offset="0.1197" stop-color="#cbca00"/><stop offset="0.1323" stop-color="#cbca00"/><stop offset="0.1343" stop-color="#7d7b00"/><stop offset="0.1366" stop-color="#7d7b00"/><stop offset="0.1386" stop-color="#a9a700"/><stop offset="0.1452" stop-color="#a9a700"/><stop offset="0.1471" stop-color="#999600"/><stop offset="0.1778" stop-color="#999600"/><stop offset="0.1797" stop-color="#7d7b00"/><stop offset="0.1863" stop-color="#7d7b00"/><stop offset="0.1882" stop-color="#6f6e00"/><stop offset="0.2009" stop-color="#6f6e00"/><stop offset="0.2028" stop-color="#262402"/><stop offset="0.2154" stop-color="#262402"/><stop offset="0.2174" stop-color="#0e0e06"/><stop offset="0.2197" stop-color="#0e0e06"/><stop offset="0.2217" stop-color="#6f6e00"/><stop offset="0.2316" stop-color="#6f6e00"/><stop offset="0.2335" stop-color="#626000"/><stop offset="0.2366" stop-color="#626000"/><stop offset="0.2386" stop-color="#7d7b00"/><stop offset="0.2469" stop-color="#7d7b00"/><stop offset="0.2488" stop-color="#626000"/><stop offset="0.2521" stop-color="#626000"/><stop offset="0.2540" stop-color="#8b8900"/><stop offset="0.2606" stop-color="#8b8900"/><stop offset="0.2625" stop-color="#07283a"/><stop offset="0.2649" stop-color="#07283a"/><stop offset="0.2668" stop-color="#197ea8"/><stop offset="0.2700" stop-color="#197ea8"/><stop offset="0.2720" stop-color="#082f45"/><stop offset="0.2795" stop-color="#082f45"/><stop offset="0.2814" stop-color="#0f4e6e"/><stop offset="0.2932" stop-color="#0f4e6e"/><stop offset="0.2951" stop-color="#07283a"/><stop offset="0.2975" stop-color="#07283a"/><stop offset="0.2994" stop-color="#040508"/><stop offset="0.3069" stop-color="#040508"/><stop offset="0.3088" stop-color="#062334"/><stop offset="0.3206" stop-color="#062334"/><stop offset="0.3225" stop-color="#0c405c"/><stop offset="0.3300" stop-color="#0c405c"/><stop offset="0.3319" stop-color="#125c80"/><stop offset="0.3394" stop-color="#125c80"/><stop offset="0.3414" stop-color="#0b3d57"/><stop offset="0.3489" stop-color="#0b3d57"/><stop offset="0.3508" stop-color="#14678c"/><stop offset="0.3531" stop-color="#14678c"/><stop offset="0.3551" stop-color="#082f45"/><stop offset="0.3686" stop-color="#082f45"/><stop offset="0.3705" stop-color="#051824"/><stop offset="0.3737" stop-color="#051824"/><stop offset="0.3756" stop-color="#2d2a00"/><stop offset="0.3848" stop-color="#2d2a00"/><stop offset="0.3868" stop-color="#4b4800"/><stop offset="0.3900" stop-color="#4b4800"/><stop offset="0.3919" stop-color="#626000"/><stop offset="0.3951" stop-color="#626000"/><stop offset="0.3970" stop-color="#433f00"/><stop offset="0.4131" stop-color="#433f00"/><stop offset="0.4150" stop-color="#6c6b00"/><stop offset="0.4457" stop-color="#6c6b00"/><stop offset="0.4476" stop-color="#626000"/><stop offset="0.4542" stop-color="#626000"/><stop offset="0.4562" stop-color="#4b4800"/><stop offset="0.4635" stop-color="#4b4800"/><stop offset="0.4654" stop-color="#3b3700"/><stop offset="0.4771" stop-color="#3b3700"/><stop offset="0.4790" stop-color="#413d00"/><stop offset="0.4908" stop-color="#413d00"/><stop offset="0.4928" stop-color="#6f6e00"/><stop offset="0.4968" stop-color="#6f6e00"/><stop offset="0.4988" stop-color="#585500"/><stop offset="0.5045" stop-color="#585500"/><stop offset="0.5065" stop-color="#626000"/><stop offset="0.5105" stop-color="#626000"/><stop offset="0.5125" stop-color="#051824"/><stop offset="0.5148" stop-color="#051824"/><stop offset="0.5167" stop-color="#040e15"/><stop offset="0.5234" stop-color="#040e15"/><stop offset="0.5253" stop-color="#05151f"/><stop offset="0.5388" stop-color="#05151f"/><stop offset="0.5407" stop-color="#030a0e"/><stop offset="0.5594" stop-color="#030a0e"/><stop offset="0.5613" stop-color="#051824"/><stop offset="0.5662" stop-color="#051824"/><stop offset="0.5681" stop-color="#05151f"/><stop offset="0.5782" stop-color="#05151f"/><stop offset="0.5801" stop-color="#040508"/><stop offset="0.6210" stop-color="#040508"/><stop offset="0.6230" stop-color="#040e15"/><stop offset="0.6296" stop-color="#040e15"/><stop offset="0.6315" stop-color="#051a26"/><stop offset="0.6433" stop-color="#051a26"/><stop offset="0.6452" stop-color="#040b10"/><stop offset="0.6485" stop-color="#040b10"/><stop offset="0.6504" stop-color="#0a3850"/><stop offset="0.6536" stop-color="#0a3850"/><stop offset="0.6555" stop-color="#041018"/><stop offset="0.6673" stop-color="#041018"/><stop offset="0.6692" stop-color="#03090d"/><stop offset="0.6793" stop-color="#03090d"/><stop offset="0.6812" stop-color="#062030"/><stop offset="0.6896" stop-color="#062030"/><stop offset="0.6915" stop-color="#040508"/><stop offset="0.6954" stop-color="#040508"/><stop offset="0.6973" stop-color="#040508"/><stop offset="0.6988" stop-color="#040508"/><stop offset="0.7007" stop-color="#062030"/><stop offset="0.7073" stop-color="#062030"/><stop offset="0.7093" stop-color="#0b3d57"/><stop offset="0.7185" stop-color="#0b3d57"/><stop offset="0.7204" stop-color="#082c41"/><stop offset="0.7270" stop-color="#082c41"/><stop offset="0.7290" stop-color="#041018"/><stop offset="0.7348" stop-color="#041018"/><stop offset="0.7367" stop-color="#262402"/><stop offset="0.7450" stop-color="#262402"/><stop offset="0.7470" stop-color="#2d2a00"/><stop offset="0.7536" stop-color="#2d2a00"/><stop offset="0.7555" stop-color="#262402"/><stop offset="0.7587" stop-color="#262402"/><stop offset="0.7607" stop-color="#0a0b07"/><stop offset="0.7690" stop-color="#0a0b07"/><stop offset="0.7709" stop-color="#1c1b04"/><stop offset="0.7742" stop-color="#1c1b04"/><stop offset="0.7761" stop-color="#040508"/><stop offset="0.7810" stop-color="#040508"/><stop offset="0.7829" stop-color="#373300"/><stop offset="0.7887" stop-color="#373300"/><stop offset="0.7906" stop-color="#1a1804"/><stop offset="0.7947" stop-color="#1a1804"/><stop offset="0.7966" stop-color="#040508"/><stop offset="0.8101" stop-color="#040508"/><stop offset="0.8121" stop-color="#171605"/><stop offset="0.8187" stop-color="#171605"/><stop offset="0.8206" stop-color="#262402"/><stop offset="0.8376" stop-color="#262402"/><stop offset="0.8395" stop-color="#0a0b07"/><stop offset="0.8667" stop-color="#0a0b07"/><stop offset="0.8686" stop-color="#1c1b04"/><stop offset="0.8752" stop-color="#1c1b04"/><stop offset="0.8772" stop-color="#111006"/><stop offset="0.9061" stop-color="#111006"/><stop offset="0.9080" stop-color="#262402"/><stop offset="0.9155" stop-color="#262402"/><stop offset="0.9174" stop-color="#061d2b"/><stop offset="0.9241" stop-color="#061d2b"/><stop offset="0.9260" stop-color="#dcdc00"/><stop offset="0.9273" stop-color="#dcdc00"/><stop offset="0.9293" stop-color="#fdff00"/><stop offset="0.9700" stop-color="#fdff00"/><stop offset="0.9719" stop-color="#ebec00"/><stop offset="0.9768" stop-color="#ebec00"/><stop offset="0.9787" stop-color="#e5e500"/><stop offset="0.9888" stop-color="#e5e500"/><stop offset="0.9907" stop-color="#fafc00"/><stop offset="0.9990" stop-color="#fafc00"/></linearGradient>
<linearGradient id="g10" gradientUnits="userSpaceOnUse" x1="0" y1="209.4" x2="0" y2="1352.0"><stop offset="0.0010" stop-color="#fafc00"/><stop offset="0.0026" stop-color="#fafc00"/><stop offset="0.0046" stop-color="#0c405c"/><stop offset="0.0081" stop-color="#0c405c"/><stop offset="0.0101" stop-color="#0f4e6e"/><stop offset="0.0218" stop-color="#0f4e6e"/><stop offset="0.0238" stop-color="#082f45"/><stop offset="0.0304" stop-color="#082f45"/><stop offset="0.0323" stop-color="#040b10"/><stop offset="0.0347" stop-color="#040b10"/><stop offset="0.0366" stop-color="#2d2a00"/><stop offset="0.0441" stop-color="#2d2a00"/><stop offset="0.0460" stop-color="#040508"/><stop offset="0.0544" stop-color="#040508"/><stop offset="0.0563" stop-color="#051824"/><stop offset="0.0630" stop-color="#051824"/><stop offset="0.0649" stop-color="#4b4800"/><stop offset="0.0767" stop-color="#4b4800"/><stop offset="0.0786" stop-color="#626000"/><stop offset="0.0815" stop-color="#626000"/><stop offset="0.0834" stop-color="#040508"/><stop offset="0.0904" stop-color="#040508"/><stop offset="0.0923" stop-color="#373300"/><stop offset="0.0955" stop-color="#373300"/><stop offset="0.0974" stop-color="#222003"/><stop offset="0.1041" stop-color="#222003"/><stop offset="0.1060" stop-color="#040508"/><stop offset="0.1144" stop-color="#040508"/><stop offset="0.1163" stop-color="#413d00"/><stop offset="0.1229" stop-color="#413d00"/><stop offset="0.1249" stop-color="#0e0e06"/><stop offset="0.1272" stop-color="#0e0e06"/><stop offset="0.1291" stop-color="#4b4800"/><stop offset="0.1366" stop-color="#4b4800"/><stop offset="0.1386" stop-color="#8b8900"/><stop offset="0.1452" stop-color="#8b8900"/><stop offset="0.1471" stop-color="#7d7b00"/><stop offset="0.1640" stop-color="#7d7b00"/><stop offset="0.1660" stop-color="#8b8900"/><stop offset="0.1778" stop-color="#8b8900"/><stop offset="0.1797" stop-color="#4b4800"/><stop offset="0.1872" stop-color="#4b4800"/><stop offset="0.1891" stop-color="#373300"/><stop offset="0.1966" stop-color="#373300"/><stop offset="0.1985" stop-color="#626000"/><stop offset="0.2146" stop-color="#626000"/><stop offset="0.2165" stop-color="#0e0e06"/><stop offset="0.2197" stop-color="#0e0e06"/><stop offset="0.2217" stop-color="#838100"/><stop offset="0.2316" stop-color="#838100"/><stop offset="0.2335" stop-color="#4b4800"/><stop offset="0.2341" stop-color="#4b4800"/><stop offset="0.2360" stop-color="#222003"/><stop offset="0.2383" stop-color="#222003"/><stop offset="0.2403" stop-color="#cbca00"/><stop offset="0.2469" stop-color="#cbca00"/><stop offset="0.2488" stop-color="#ebec00"/><stop offset="0.2521" stop-color="#ebec00"/><stop offset="0.2540" stop-color="#bab800"/><stop offset="0.2606" stop-color="#bab800"/><stop offset="0.2625" stop-color="#0f4e6e"/><stop offset="0.2743" stop-color="#0f4e6e"/><stop offset="0.2762" stop-color="#167298"/><stop offset="0.2795" stop-color="#167298"/><stop offset="0.2814" stop-color="#0f4e6e"/><stop offset="0.2880" stop-color="#0f4e6e"/><stop offset="0.2900" stop-color="#14678c"/><stop offset="0.2975" stop-color="#14678c"/><stop offset="0.2994" stop-color="#040508"/><stop offset="0.3069" stop-color="#040508"/><stop offset="0.3088" stop-color="#062334"/><stop offset="0.3257" stop-color="#062334"/><stop offset="0.3277" stop-color="#0f4e6e"/><stop offset="0.3309" stop-color="#0f4e6e"/><stop offset="0.3328" stop-color="#0c405c"/><stop offset="0.3583" stop-color="#0c405c"/><stop offset="0.3602" stop-color="#040b10"/><stop offset="0.3668" stop-color="#040b10"/><stop offset="0.3688" stop-color="#062030"/><stop offset="0.3754" stop-color="#062030"/><stop offset="0.3773" stop-color="#0f4e6e"/><stop offset="0.3943" stop-color="#0f4e6e"/><stop offset="0.3962" stop-color="#040508"/><stop offset="0.4088" stop-color="#040508"/><stop offset="0.4108" stop-color="#062334"/><stop offset="0.4217" stop-color="#062334"/><stop offset="0.4236" stop-color="#0e0e06"/><stop offset="0.4320" stop-color="#0e0e06"/><stop offset="0.4339" stop-color="#0a0b07"/><stop offset="0.4542" stop-color="#0a0b07"/><stop offset="0.4562" stop-color="#373300"/><stop offset="0.4594" stop-color="#373300"/><stop offset="0.4613" stop-color="#141306"/><stop offset="0.4635" stop-color="#141306"/><stop offset="0.4654" stop-color="#1c1b04"/><stop offset="0.4686" stop-color="#1c1b04"/><stop offset="0.4705" stop-color="#040508"/><stop offset="0.4780" stop-color="#040508"/><stop offset="0.4799" stop-color="#4b4800"/><stop offset="0.4908" stop-color="#4b4800"/><stop offset="0.4928" stop-color="#585500"/><stop offset="0.4960" stop-color="#585500"/><stop offset="0.4979" stop-color="#373300"/><stop offset="0.5003" stop-color="#373300"/><stop offset="0.5022" stop-color="#585500"/><stop offset="0.5097" stop-color="#585500"/><stop offset="0.5116" stop-color="#040e15"/><stop offset="0.5148" stop-color="#040e15"/><stop offset="0.5167" stop-color="#0a0b07"/><stop offset="0.5217" stop-color="#0a0b07"/><stop offset="0.5236" stop-color="#062030"/><stop offset="0.5285" stop-color="#062030"/><stop offset="0.5305" stop-color="#040c12"/><stop offset="0.5508" stop-color="#040c12"/><stop offset="0.5527" stop-color="#141306"/><stop offset="0.5568" stop-color="#141306"/><stop offset="0.5587" stop-color="#040508"/><stop offset="0.5662" stop-color="#040508"/><stop offset="0.5681" stop-color="#1c1b04"/><stop offset="0.5748" stop-color="#1c1b04"/><stop offset="0.5767" stop-color="#0a0b07"/><stop offset="0.5902" stop-color="#0a0b07"/><stop offset="0.5921" stop-color="#040c12"/><stop offset="0.5988" stop-color="#040c12"/><stop offset="0.6007" stop-color="#040508"/><stop offset="0.6176" stop-color="#040508"/><stop offset="0.6195" stop-color="#040d13"/><stop offset="0.6485" stop-color="#040d13"/><stop offset="0.6504" stop-color="#061d2b"/><stop offset="0.6570" stop-color="#061d2b"/><stop offset="0.6590" stop-color="#09324a"/><stop offset="0.6724" stop-color="#09324a"/><stop offset="0.6744" stop-color="#051824"/><stop offset="0.6793" stop-color="#051824"/><stop offset="0.6812" stop-color="#062030"/><stop offset="0.6896" stop-color="#062030"/><stop offset="0.6915" stop-color="#040508"/><stop offset="0.6954" stop-color="#040508"/><stop offset="0.6973" stop-color="#040508"/><stop offset="0.6988" stop-color="#040508"/><stop offset="0.7007" stop-color="#062030"/><stop offset="0.7082" stop-color="#062030"/><stop offset="0.7101" stop-color="#0a0b07"/><stop offset="0.7210" stop-color="#0a0b07"/><stop offset="0.7230" stop-color="#062334"/><stop offset="0.7270" stop-color="#062334"/><stop offset="0.7290" stop-color="#040508"/><stop offset="0.7356" stop-color="#040508"/><stop offset="0.7375" stop-color="#062030"/><stop offset="0.7407" stop-color="#062030"/><stop offset="0.7427" stop-color="#0e0e06"/><stop offset="0.7605" stop-color="#0e0e06"/><stop offset="0.7624" stop-color="#040c12"/><stop offset="0.7673" stop-color="#040c12"/><stop offset="0.7692" stop-color="#222003"/><stop offset="0.7862" stop-color="#222003"/><stop offset="0.7881" stop-color="#292602"/><stop offset="0.8016" stop-color="#292602"/><stop offset="0.8035" stop-color="#171605"/><stop offset="0.8119" stop-color="#171605"/><stop offset="0.8138" stop-color="#041018"/><stop offset="0.8187" stop-color="#041018"/><stop offset="0.8206" stop-color="#373300"/><stop offset="0.8324" stop-color="#373300"/><stop offset="0.8343" stop-color="#040508"/><stop offset="0.8418" stop-color="#040508"/><stop offset="0.8438" stop-color="#413d00"/><stop offset="0.8598" stop-color="#413d00"/><stop offset="0.8618" stop-color="#3b3700"/><stop offset="0.8770" stop-color="#3b3700"/><stop offset="0.8789" stop-color="#4b4800"/><stop offset="0.8838" stop-color="#4b4800"/><stop offset="0.8857" stop-color="#3d3900"/><stop offset="0.8924" stop-color="#3d3900"/><stop offset="0.8943" stop-color="#2d2a00"/><stop offset="0.8975" stop-color="#2d2a00"/><stop offset="0.8994" stop-color="#413d00"/><stop offset="0.9069" stop-color="#413d00"/><stop offset="0.9089" stop-color="#4f4c00"/><stop offset="0.9155" stop-color="#4f4c00"/><stop offset="0.9174" stop-color="#03090d"/><stop offset="0.9241" stop-color="#03090d"/><stop offset="0.9260" stop-color="#dcdc00"/><stop offset="0.9273" stop-color="#dcdc00"/><stop offset="0.9293" stop-color="#fafc00"/><stop offset="0.9434" stop-color="#fafc00"/><stop offset="0.9453" stop-color="#1a1804"/><stop offset="0.9571" stop-color="#1a1804"/><stop offset="0.9590" stop-color="#040508"/><stop offset="0.9622" stop-color="#040508"/><stop offset="0.9642" stop-color="#373300"/><stop offset="0.9665" stop-color="#373300"/><stop offset="0.9685" stop-color="#4f4c00"/><stop offset="0.9760" stop-color="#4f4c00"/><stop offset="0.9779" stop-color="#7d7b00"/><stop offset="0.9802" stop-color="#7d7b00"/><stop offset="0.9822" stop-color="#4f4c00"/><stop offset="0.9948" stop-color="#4f4c00"/><stop offset="0.9967" stop-color="#373300"/><stop offset="0.9990" stop-color="#373300"/></linearGradient>
<linearGradient id="g11" gradientUnits="userSpaceOnUse" x1="0" y1="209.4" x2="0" y2="1352.0"><stop offset="0.0010" stop-color="#fafc00"/><stop offset="0.0026" stop-color="#fafc00"/><stop offset="0.0046" stop-color="#565300"/><stop offset="0.0116" stop-color="#565300"/><stop offset="0.0135" stop-color="#7d7b00"/><stop offset="0.0218" stop-color="#7d7b00"/><stop offset="0.0238" stop-color="#373300"/><stop offset="0.0304" stop-color="#373300"/><stop offset="0.0323" stop-color="#413d00"/><stop offset="0.0398" stop-color="#413d00"/><stop offset="0.0418" stop-color="#6f6e00"/><stop offset="0.0510" stop-color="#6f6e00"/><stop offset="0.0529" stop-color="#7d7b00"/><stop offset="0.0578" stop-color="#7d7b00"/><stop offset="0.0597" stop-color="#4b4800"/><stop offset="0.0630" stop-color="#4b4800"/><stop offset="0.0649" stop-color="#6f6e00"/><stop offset="0.0681" stop-color="#6f6e00"/><stop offset="0.0700" stop-color="#373300"/><stop offset="0.0767" stop-color="#373300"/><stop offset="0.0786" stop-color="#6f6e00"/><stop offset="0.0989" stop-color="#6f6e00"/><stop offset="0.1009" stop-color="#4b4800"/><stop offset="0.1041" stop-color="#4b4800"/><stop offset="0.1060" stop-color="#8b8900"/><stop offset="0.1272" stop-color="#8b8900"/><stop offset="0.1291" stop-color="#a9a700"/><stop offset="0.1366" stop-color="#a9a700"/><stop offset="0.1386" stop-color="#999600"/><stop offset="0.1606" stop-color="#999600"/><stop offset="0.1625" stop-color="#6f6e00"/><stop offset="0.1683" stop-color="#6f6e00"/><stop offset="0.1703" stop-color="#a3a000"/><stop offset="0.1778" stop-color="#a3a000"/><stop offset="0.1797" stop-color="#6f6e00"/><stop offset="0.1826" stop-color="#6f6e00"/><stop offset="0.1845" stop-color="#a9a700"/><stop offset="0.1880" stop-color="#a9a700"/><stop offset="0.1900" stop-color="#999600"/><stop offset="0.2120" stop-color="#999600"/><stop offset="0.2139" stop-color="#7d7b00"/><stop offset="0.2206" stop-color="#7d7b00"/><stop offset="0.2225" stop-color="#8b8900"/><stop offset="0.2316" stop-color="#8b8900"/><stop offset="0.2335" stop-color="#6f6e00"/><stop offset="0.2341" stop-color="#6f6e00"/><stop offset="0.2360" stop-color="#4b4800"/><stop offset="0.2383" stop-color="#4b4800"/><stop offset="0.2403" stop-color="#cbca00"/><stop offset="0.2521" stop-color="#cbca00"/><stop offset="0.2540" stop-color="#ebec00"/><stop offset="0.2606" stop-color="#ebec00"/><stop offset="0.2625" stop-color="#082f45"/><stop offset="0.2743" stop-color="#082f45"/><stop offset="0.2762" stop-color="#167298"/><stop offset="0.2846" stop-color="#167298"/><stop offset="0.2865" stop-color="#0f4e6e"/><stop offset="0.2932" stop-color="#0f4e6e"/><stop offset="0.2951" stop-color="#07283a"/><stop offset="0.3163" stop-color="#07283a"/><stop offset="0.3182" stop-color="#0a3850"/><stop offset="0.3257" stop-color="#0a3850"/><stop offset="0.3277" stop-color="#125c80"/><stop offset="0.3309" stop-color="#125c80"/><stop offset="0.3328" stop-color="#051824"/><stop offset="0.3394" stop-color="#051824"/><stop offset="0.3414" stop-color="#062030"/><stop offset="0.3583" stop-color="#062030"/><stop offset="0.3602" stop-color="#082c41"/><stop offset="0.3754" stop-color="#082c41"/><stop offset="0.3773" stop-color="#040508"/><stop offset="0.3857" stop-color="#040508"/><stop offset="0.3876" stop-color="#222003"/><stop offset="0.3900" stop-color="#222003"/><stop offset="0.3919" stop-color="#040d13"/><stop offset="0.3994" stop-color="#040d13"/><stop offset="0.4013" stop-color="#5d5b00"/><stop offset="0.4131" stop-color="#5d5b00"/><stop offset="0.4150" stop-color="#03090d"/><stop offset="0.4225" stop-color="#03090d"/><stop offset="0.4245" stop-color="#585500"/><stop offset="0.4277" stop-color="#585500"/><stop offset="0.4296" stop-color="#262402"/><stop offset="0.4457" stop-color="#262402"/><stop offset="0.4476" stop-color="#051824"/><stop offset="0.4542" stop-color="#051824"/><stop offset="0.4562" stop-color="#0e0e06"/><stop offset="0.4635" stop-color="#0e0e06"/><stop offset="0.4654" stop-color="#1c1b04"/><stop offset="0.4686" stop-color="#1c1b04"/><stop offset="0.4705" stop-color="#332f00"/><stop offset="0.4780" stop-color="#332f00"/><stop offset="0.4799" stop-color="#312e00"/><stop offset="0.4908" stop-color="#312e00"/><stop offset="0.4928" stop-color="#585500"/><stop offset="0.5063" stop-color="#585500"/><stop offset="0.5082" stop-color="#373300"/><stop offset="0.5105" stop-color="#373300"/><stop offset="0.5125" stop-color="#03090d"/><stop offset="0.5148" stop-color="#03090d"/><stop offset="0.5167" stop-color="#05151f"/><stop offset="0.5302" stop-color="#05151f"/><stop offset="0.5322" stop-color="#040508"/><stop offset="0.5388" stop-color="#040508"/><stop offset="0.5407" stop-color="#111006"/><stop offset="0.5439" stop-color="#111006"/><stop offset="0.5459" stop-color="#03090d"/><stop offset="0.5782" stop-color="#03090d"/><stop offset="0.5801" stop-color="#3b3700"/><stop offset="0.5868" stop-color="#3b3700"/><stop offset="0.5887" stop-color="#2d2a00"/><stop offset="0.5919" stop-color="#2d2a00"/><stop offset="0.5938" stop-color="#111006"/><stop offset="0.6159" stop-color="#111006"/><stop offset="0.6178" stop-color="#222003"/><stop offset="0.6228" stop-color="#222003"/><stop offset="0.6247" stop-color="#1c1b04"/><stop offset="0.6382" stop-color="#1c1b04"/><stop offset="0.6401" stop-color="#3d3900"/><stop offset="0.6476" stop-color="#3d3900"/><stop offset="0.6495" stop-color="#051824"/><stop offset="0.6536" stop-color="#051824"/><stop offset="0.6555" stop-color="#0e0e06"/><stop offset="0.6587" stop-color="#0e0e06"/><stop offset="0.6607" stop-color="#082f45"/><stop offset="0.6724" stop-color="#082f45"/><stop offset="0.6744" stop-color="#041018"/><stop offset="0.6793" stop-color="#041018"/><stop offset="0.6812" stop-color="#061d2b"/><stop offset="0.6862" stop-color="#061d2b"/><stop offset="0.6881" stop-color="#03090d"/><stop offset="0.6954" stop-color="#03090d"/><stop offset="0.6973" stop-color="#041018"/><stop offset="0.7073" stop-color="#041018"/><stop offset="0.7093" stop-color="#062334"/><stop offset="0.7176" stop-color="#062334"/><stop offset="0.7195" stop-color="#062030"/><stop offset="0.7262" stop-color="#062030"/><stop offset="0.7281" stop-color="#565300"/><stop offset="0.7365" stop-color="#565300"/><stop offset="0.7384" stop-color="#040508"/><stop offset="0.7407" stop-color="#040508"/><stop offset="0.7427" stop-color="#262402"/><stop offset="0.7459" stop-color="#262402"/><stop offset="0.7478" stop-color="#041018"/><stop offset="0.7536" stop-color="#041018"/><stop offset="0.7555" stop-color="#040508"/><stop offset="0.7639" stop-color="#040508"/><stop offset="0.7658" stop-color="#1c1b04"/><stop offset="0.7690" stop-color="#1c1b04"/><stop offset="0.7709" stop-color="#413d00"/><stop offset="0.7913" stop-color="#413d00"/><stop offset="0.7932" stop-color="#373300"/><stop offset="0.8153" stop-color="#373300"/><stop offset="0.8172" stop-color="#222003"/><stop offset="0.8204" stop-color="#222003"/><stop offset="0.8223" stop-color="#454100"/><stop offset="0.8281" stop-color="#454100"/><stop offset="0.8301" stop-color="#03080b"/><stop offset="0.8495" stop-color="#03080b"/><stop offset="0.8515" stop-color="#1c1b04"/><stop offset="0.8650" stop-color="#1c1b04"/><stop offset="0.8669" stop-color="#433f00"/><stop offset="0.8770" stop-color="#433f00"/><stop offset="0.8789" stop-color="#565300"/><stop offset="0.8890" stop-color="#565300"/><stop offset="0.8909" stop-color="#5d5b00"/><stop offset="0.9095" stop-color="#5d5b00"/><stop offset="0.9114" stop-color="#4f4c00"/><stop offset="0.9241" stop-color="#4f4c00"/><stop offset="0.9260" stop-color="#dcdc00"/><stop offset="0.9273" stop-color="#dcdc00"/><stop offset="0.9293" stop-color="#f4f600"/><stop offset="0.9297" stop-color="#f4f600"/><stop offset="0.9316" stop-color="#cbca00"/><stop offset="0.9340" stop-color="#cbca00"/><stop offset="0.9359" stop-color="#f4f600"/><stop offset="0.9434" stop-color="#f4f600"/><stop offset="0.9453" stop-color="#7d7b00"/><stop offset="0.9485" stop-color="#7d7b00"/><stop offset="0.9505" stop-color="#9f9d00"/><stop offset="0.9631" stop-color="#9f9d00"/><stop offset="0.9650" stop-color="#bab800"/><stop offset="0.9768" stop-color="#bab800"/><stop offset="0.9787" stop-color="#999600"/><stop offset="0.9939" stop-color="#999600"/><stop offset="0.9959" stop-color="#cbca00"/><stop offset="0.9990" stop-color="#cbca00"/></linearGradient>
<linearGradient id="g12" gradientUnits="userSpaceOnUse" x1="0" y1="209.4" x2="0" y2="1352.0"><stop offset="0.0010" stop-color="#fafc00"/><stop offset="0.0026" stop-color="#fafc00"/><stop offset="0.0046" stop-color="#062030"/><stop offset="0.0081" stop-color="#062030"/><stop offset="0.0101" stop-color="#082f45"/><stop offset="0.0253" stop-color="#082f45"/><stop offset="0.0272" stop-color="#0c405c"/><stop offset="0.0304" stop-color="#0c405c"/><stop offset="0.0323" stop-color="#03090d"/><stop offset="0.0398" stop-color="#03090d"/><stop offset="0.0418" stop-color="#040508"/><stop offset="0.0458" stop-color="#040508"/><stop offset="0.0477" stop-color="#062030"/><stop offset="0.0578" stop-color="#062030"/><stop offset="0.0597" stop-color="#040508"/><stop offset="0.0630" stop-color="#040508"/><stop offset="0.0649" stop-color="#373300"/><stop offset="0.0767" stop-color="#373300"/><stop offset="0.0786" stop-color="#4b4800"/><stop offset="0.0815" stop-color="#4b4800"/><stop offset="0.0834" stop-color="#1a1804"/><stop offset="0.0904" stop-color="#1a1804"/><stop offset="0.0923" stop-color="#2d2a00"/><stop offset="0.1041" stop-color="#2d2a00"/><stop offset="0.1060" stop-color="#082f45"/><stop offset="0.1135" stop-color="#082f45"/><stop offset="0.1154" stop-color="#413d00"/><stop offset="0.1186" stop-color="#413d00"/><stop offset="0.1206" stop-color="#0e0e06"/><stop offset="0.1229" stop-color="#0e0e06"/><stop offset="0.1249" stop-color="#4b4800"/><stop offset="0.1323" stop-color="#4b4800"/><stop offset="0.1343" stop-color="#040508"/><stop offset="0.1366" stop-color="#040508"/><stop offset="0.1386" stop-color="#7d7b00"/><stop offset="0.1461" stop-color="#7d7b00"/><stop offset="0.1480" stop-color="#565300"/><stop offset="0.1512" stop-color="#565300"/><stop offset="0.1531" stop-color="#6f6e00"/><stop offset="0.1598" stop-color="#6f6e00"/><stop offset="0.1617" stop-color="#8b8900"/><stop offset="0.1640" stop-color="#8b8900"/><stop offset="0.1660" stop-color="#7d7b00"/><stop offset="0.1778" stop-color="#7d7b00"/><stop offset="0.1797" stop-color="#8b8900"/><stop offset="0.1826" stop-color="#8b8900"/><stop offset="0.1845" stop-color="#4b4800"/><stop offset="0.1915" stop-color="#4b4800"/><stop offset="0.1934" stop-color="#626000"/><stop offset="0.1966" stop-color="#626000"/><stop offset="0.1985" stop-color="#413d00"/><stop offset="0.2009" stop-color="#413d00"/><stop offset="0.2028" stop-color="#6f6e00"/><stop offset="0.2060" stop-color="#6f6e00"/><stop offset="0.2080" stop-color="#565300"/><stop offset="0.2103" stop-color="#565300"/><stop offset="0.2122" stop-color="#2d2a00"/><stop offset="0.2197" stop-color="#2d2a00"/><stop offset="0.2217" stop-color="#6f6e00"/><stop offset="0.2283" stop-color="#6f6e00"/><stop offset="0.2302" stop-color="#222003"/><stop offset="0.2316" stop-color="#222003"/><stop offset="0.2335" stop-color="#0e0e06"/><stop offset="0.2375" stop-color="#0e0e06"/><stop offset="0.2394" stop-color="#999600"/><stop offset="0.2521" stop-color="#999600"/><stop offset="0.2540" stop-color="#8b8900"/><stop offset="0.2606" stop-color="#8b8900"/><stop offset="0.2625" stop-color="#125c80"/><stop offset="0.2700" stop-color="#125c80"/><stop offset="0.2720" stop-color="#1c8cbc"/><stop offset="0.2795" stop-color="#1c8cbc"/><stop offset="0.2814" stop-color="#0a3850"/><stop offset="0.2932" stop-color="#0a3850"/><stop offset="0.2951" stop-color="#1c8cbc"/><stop offset="0.2983" stop-color="#1c8cbc"/><stop offset="0.3002" stop-color="#040508"/><stop offset="0.3017" stop-color="#040508"/><stop offset="0.3037" stop-color="#082c41"/><stop offset="0.3257" stop-color="#082c41"/><stop offset="0.3277" stop-color="#0f4e6e"/><stop offset="0.3309" stop-color="#0f4e6e"/><stop offset="0.3328" stop-color="#040508"/><stop offset="0.3394" stop-color="#040508"/><stop offset="0.3414" stop-color="#062030"/><stop offset="0.3497" stop-color="#062030"/><stop offset="0.3516" stop-color="#2d2a00"/><stop offset="0.3583" stop-color="#2d2a00"/><stop offset="0.3602" stop-color="#040508"/><stop offset="0.3626" stop-color="#040508"/><stop offset="0.3645" stop-color="#262402"/><stop offset="0.3720" stop-color="#262402"/><stop offset="0.3739" stop-color="#07283a"/><stop offset="0.3806" stop-color="#07283a"/><stop offset="0.3825" stop-color="#0c405c"/><stop offset="0.3960" stop-color="#0c405c"/><stop offset="0.3979" stop-color="#051824"/><stop offset="0.4088" stop-color="#051824"/><stop offset="0.4108" stop-color="#082f45"/><stop offset="0.4217" stop-color="#082f45"/><stop offset="0.4236" stop-color="#03090d"/><stop offset="0.4354" stop-color="#03090d"/><stop offset="0.4373" stop-color="#222003"/><stop offset="0.4422" stop-color="#222003"/><stop offset="0.4442" stop-color="#04131d"/><stop offset="0.4542" stop-color="#04131d"/><stop offset="0.4562" stop-color="#3b3700"/><stop offset="0.4635" stop-color="#3b3700"/><stop offset="0.4654" stop-color="#4b4800"/><stop offset="0.4737" stop-color="#4b4800"/><stop offset="0.4756" stop-color="#292602"/><stop offset="0.4865" stop-color="#292602"/><stop offset="0.4885" stop-color="#858300"/><stop offset="0.4917" stop-color="#858300"/><stop offset="0.4936" stop-color="#585500"/><stop offset="0.5097" stop-color="#585500"/><stop offset="0.5116" stop-color="#03090d"/><stop offset="0.5191" stop-color="#03090d"/><stop offset="0.5210" stop-color="#0a3850"/><stop offset="0.5285" stop-color="#0a3850"/><stop offset="0.5305" stop-color="#061d2b"/><stop offset="0.5388" stop-color="#061d2b"/><stop offset="0.5407" stop-color="#082f45"/><stop offset="0.5474" stop-color="#082f45"/><stop offset="0.5493" stop-color="#040b10"/><stop offset="0.5559" stop-color="#040b10"/><stop offset="0.5579" stop-color="#062030"/><stop offset="0.5662" stop-color="#062030"/><stop offset="0.5681" stop-color="#141306"/><stop offset="0.5731" stop-color="#141306"/><stop offset="0.5750" stop-color="#062334"/><stop offset="0.5799" stop-color="#062334"/><stop offset="0.5819" stop-color="#040508"/><stop offset="0.5902" stop-color="#040508"/><stop offset="0.5921" stop-color="#041018"/><stop offset="0.5988" stop-color="#041018"/><stop offset="0.6007" stop-color="#141306"/><stop offset="0.6125" stop-color="#141306"/><stop offset="0.6144" stop-color="#070808"/><stop offset="0.6476" stop-color="#070808"/><stop offset="0.6495" stop-color="#062030"/><stop offset="0.6570" stop-color="#062030"/><stop offset="0.6590" stop-color="#09324a"/><stop offset="0.6759" stop-color="#09324a"/><stop offset="0.6778" stop-color="#040508"/><stop offset="0.6862" stop-color="#040508"/><stop offset="0.6881" stop-color="#1c1b04"/><stop offset="0.6954" stop-color="#1c1b04"/><stop offset="0.6973" stop-color="#040e15"/><stop offset="0.7005" stop-color="#040e15"/><stop offset="0.7024" stop-color="#062030"/><stop offset="0.7082" stop-color="#062030"/><stop offset="0.7101" stop-color="#051824"/><stop offset="0.7262" stop-color="#051824"/><stop offset="0.7281" stop-color="#040d13"/><stop offset="0.7348" stop-color="#040d13"/><stop offset="0.7367" stop-color="#262402"/><stop offset="0.7450" stop-color="#262402"/><stop offset="0.7470" stop-color="#0f4e6e"/><stop offset="0.7536" stop-color="#0f4e6e"/><stop offset="0.7555" stop-color="#040b10"/><stop offset="0.7587" stop-color="#040b10"/><stop offset="0.7607" stop-color="#1c1b04"/><stop offset="0.7682" stop-color="#1c1b04"/><stop offset="0.7701" stop-color="#4b4800"/><stop offset="0.7776" stop-color="#4b4800"/><stop offset="0.7795" stop-color="#626000"/><stop offset="0.7819" stop-color="#626000"/><stop offset="0.7838" stop-color="#1a1804"/><stop offset="0.7913" stop-color="#1a1804"/><stop offset="0.7932" stop-color="#262402"/><stop offset="0.8050" stop-color="#262402"/><stop offset="0.8069" stop-color="#332f00"/><stop offset="0.8101" stop-color="#332f00"/><stop offset="0.8121" stop-color="#1c1b04"/><stop offset="0.8187" stop-color="#1c1b04"/><stop offset="0.8206" stop-color="#2f2c00"/><stop offset="0.8281" stop-color="#2f2c00"/><stop offset="0.8301" stop-color="#040508"/><stop offset="0.8418" stop-color="#040508"/><stop offset="0.8438" stop-color="#292602"/><stop offset="0.8470" stop-color="#292602"/><stop offset="0.8489" stop-color="#040508"/><stop offset="0.8521" stop-color="#040508"/><stop offset="0.8540" stop-color="#222003"/><stop offset="0.8650" stop-color="#222003"/><stop offset="0.8669" stop-color="#030a0e"/><stop offset="0.8744" stop-color="#030a0e"/><stop offset="0.8763" stop-color="#4b4800"/><stop offset="0.8838" stop-color="#4b4800"/><stop offset="0.8857" stop-color="#2d2a00"/><stop offset="0.8890" stop-color="#2d2a00"/><stop offset="0.8909" stop-color="#626000"/><stop offset="0.9018" stop-color="#626000"/><stop offset="0.9037" stop-color="#1c1b04"/><stop offset="0.9112" stop-color="#1c1b04"/><stop offset="0.9132" stop-color="#2b2801"/><stop offset="0.9164" stop-color="#2b2801"/><stop offset="0.9183" stop-color="#040508"/><stop offset="0.9249" stop-color="#040508"/><stop offset="0.9269" stop-color="#cbca00"/><stop offset="0.9273" stop-color="#cbca00"/><stop offset="0.9293" stop-color="#cbca00"/><stop offset="0.9305" stop-color="#cbca00"/><stop offset="0.9325" stop-color="#bab800"/><stop offset="0.9357" stop-color="#bab800"/><stop offset="0.9376" stop-color="#ebec00"/><stop offset="0.9434" stop-color="#ebec00"/><stop offset="0.9453" stop-color="#373300"/><stop offset="0.9485" stop-color="#373300"/><stop offset="0.9505" stop-color="#1c1b04"/><stop offset="0.9571" stop-color="#1c1b04"/><stop offset="0.9590" stop-color="#2f2c00"/><stop offset="0.9622" stop-color="#2f2c00"/><stop offset="0.9642" stop-color="#626000"/><stop offset="0.9700" stop-color="#626000"/><stop offset="0.9719" stop-color="#8b8900"/><stop offset="0.9802" stop-color="#8b8900"/><stop offset="0.9822" stop-color="#565300"/><stop offset="0.9888" stop-color="#565300"/><stop offset="0.9907" stop-color="#373300"/><stop offset="0.9990" stop-color="#373300"/></linearGradient>
<linearGradient id="g13" gradientUnits="userSpaceOnUse" x1="0" y1="209.4" x2="0" y2="1352.0"><stop offset="0.0010" stop-color="#1e96ca"/><stop offset="0.0026" stop-color="#1e96ca"/><stop offset="0.0046" stop-color="#041018"/><stop offset="0.0210" stop-color="#041018"/><stop offset="0.0229" stop-color="#0c405c"/><stop offset="0.0347" stop-color="#0c405c"/><stop offset="0.0366" stop-color="#040b10"/><stop offset="0.0578" stop-color="#040b10"/><stop offset="0.0597" stop-color="#0a3850"/><stop offset="0.0681" stop-color="#0a3850"/><stop offset="0.0700" stop-color="#07283a"/><stop offset="0.0767" stop-color="#07283a"/><stop offset="0.0786" stop-color="#082f45"/><stop offset="0.0852" stop-color="#082f45"/><stop offset="0.0872" stop-color="#051824"/><stop offset="0.1041" stop-color="#051824"/><stop offset="0.1060" stop-color="#222003"/><stop offset="0.1126" stop-color="#222003"/><stop offset="0.1146" stop-color="#082f45"/><stop offset="0.1229" stop-color="#082f45"/><stop offset="0.1249" stop-color="#051824"/><stop offset="0.1366" stop-color="#051824"/><stop offset="0.1386" stop-color="#0a3850"/><stop offset="0.1598" stop-color="#0a3850"/><stop offset="0.1617" stop-color="#040508"/><stop offset="0.1640" stop-color="#040508"/><stop offset="0.1660" stop-color="#07283a"/><stop offset="0.1726" stop-color="#07283a"/><stop offset="0.1745" stop-color="#041018"/><stop offset="0.1778" stop-color="#041018"/><stop offset="0.1797" stop-color="#125c80"/><stop offset="0.1826" stop-color="#125c80"/><stop offset="0.1845" stop-color="#082f45"/><stop offset="0.2052" stop-color="#082f45"/><stop offset="0.2071" stop-color="#051824"/><stop offset="0.2146" stop-color="#051824"/><stop offset="0.2165" stop-color="#082f45"/><stop offset="0.2197" stop-color="#082f45"/><stop offset="0.2217" stop-color="#041018"/><stop offset="0.2316" stop-color="#041018"/><stop offset="0.2335" stop-color="#040508"/><stop offset="0.2366" stop-color="#040508"/><stop offset="0.2386" stop-color="#04131d"/><stop offset="0.2521" stop-color="#04131d"/><stop offset="0.2540" stop-color="#062030"/><stop offset="0.2606" stop-color="#062030"/><stop offset="0.2625" stop-color="#072436"/><stop offset="0.2795" stop-color="#072436"/><stop offset="0.2814" stop-color="#040508"/><stop offset="0.2983" stop-color="#040508"/><stop offset="0.3002" stop-color="#373300"/><stop offset="0.3069" stop-color="#373300"/><stop offset="0.3088" stop-color="#1a1804"/><stop offset="0.3257" stop-color="#1a1804"/><stop offset="0.3277" stop-color="#4b4800"/><stop offset="0.3394" stop-color="#4b4800"/><stop offset="0.3414" stop-color="#040508"/><stop offset="0.3489" stop-color="#040508"/><stop offset="0.3508" stop-color="#474300"/><stop offset="0.3540" stop-color="#474300"/><stop offset="0.3559" stop-color="#141306"/><stop offset="0.3591" stop-color="#141306"/><stop offset="0.3611" stop-color="#04131d"/><stop offset="0.3754" stop-color="#04131d"/><stop offset="0.3773" stop-color="#0a3850"/><stop offset="0.3943" stop-color="#0a3850"/><stop offset="0.3962" stop-color="#051824"/><stop offset="0.4234" stop-color="#051824"/><stop offset="0.4253" stop-color="#07283a"/><stop offset="0.4354" stop-color="#07283a"/><stop offset="0.4373" stop-color="#1c8cbc"/><stop offset="0.4414" stop-color="#1c8cbc"/><stop offset="0.4433" stop-color="#040b10"/><stop offset="0.4457" stop-color="#040b10"/><stop offset="0.4476" stop-color="#0a3850"/><stop offset="0.4542" stop-color="#0a3850"/><stop offset="0.4562" stop-color="#040e15"/><stop offset="0.4635" stop-color="#040e15"/><stop offset="0.4654" stop-color="#041018"/><stop offset="0.4806" stop-color="#041018"/><stop offset="0.4825" stop-color="#03090d"/><stop offset="0.4977" stop-color="#03090d"/><stop offset="0.4996" stop-color="#040d13"/><stop offset="0.5131" stop-color="#040d13"/><stop offset="0.5150" stop-color="#222003"/><stop offset="0.5191" stop-color="#222003"/><stop offset="0.5210" stop-color="#041018"/><stop offset="0.5285" stop-color="#041018"/><stop offset="0.5305" stop-color="#062334"/><stop offset="0.5422" stop-color="#062334"/><stop offset="0.5442" stop-color="#040b10"/><stop offset="0.5559" stop-color="#040b10"/><stop offset="0.5579" stop-color="#1c1b04"/><stop offset="0.5611" stop-color="#1c1b04"/><stop offset="0.5630" stop-color="#040508"/><stop offset="0.5919" stop-color="#040508"/><stop offset="0.5938" stop-color="#062030"/><stop offset="0.5988" stop-color="#062030"/><stop offset="0.6007" stop-color="#171605"/><stop offset="0.6091" stop-color="#171605"/><stop offset="0.6110" stop-color="#040e15"/><stop offset="0.6193" stop-color="#040e15"/><stop offset="0.6213" stop-color="#082c41"/><stop offset="0.6253" stop-color="#082c41"/><stop offset="0.6273" stop-color="#041018"/><stop offset="0.6519" stop-color="#041018"/><stop offset="0.6538" stop-color="#040508"/><stop offset="0.6570" stop-color="#040508"/><stop offset="0.6590" stop-color="#1c1b04"/><stop offset="0.6630" stop-color="#1c1b04"/><stop offset="0.6650" stop-color="#062030"/><stop offset="0.6759" stop-color="#062030"/><stop offset="0.6778" stop-color="#413d00"/><stop offset="0.6810" stop-color="#413d00"/><stop offset="0.6829" stop-color="#222003"/><stop offset="0.6954" stop-color="#222003"/><stop offset="0.6973" stop-color="#332f00"/><stop offset="0.6996" stop-color="#332f00"/><stop offset="0.7016" stop-color="#040b10"/><stop offset="0.7039" stop-color="#040b10"/><stop offset="0.7058" stop-color="#040508"/><stop offset="0.7210" stop-color="#040508"/><stop offset="0.7230" stop-color="#1c1b04"/><stop offset="0.7262" stop-color="#1c1b04"/><stop offset="0.7281" stop-color="#09324a"/><stop offset="0.7356" stop-color="#09324a"/><stop offset="0.7375" stop-color="#040508"/><stop offset="0.7450" stop-color="#040508"/><stop offset="0.7470" stop-color="#171605"/><stop offset="0.7536" stop-color="#171605"/><stop offset="0.7555" stop-color="#061d2b"/><stop offset="0.7596" stop-color="#061d2b"/><stop offset="0.7615" stop-color="#040508"/><stop offset="0.7682" stop-color="#040508"/><stop offset="0.7701" stop-color="#040e15"/><stop offset="0.7767" stop-color="#040e15"/><stop offset="0.7787" stop-color="#061d2b"/><stop offset="0.7819" stop-color="#061d2b"/><stop offset="0.7838" stop-color="#040c12"/><stop offset="0.7913" stop-color="#040c12"/><stop offset="0.7932" stop-color="#04131d"/><stop offset="0.7999" stop-color="#04131d"/><stop offset="0.8018" stop-color="#030a0e"/><stop offset="0.8281" stop-color="#030a0e"/><stop offset="0.8301" stop-color="#062334"/><stop offset="0.8393" stop-color="#062334"/><stop offset="0.8412" stop-color="#041018"/><stop offset="0.8461" stop-color="#041018"/><stop offset="0.8480" stop-color="#2f2c00"/><stop offset="0.8555" stop-color="#2f2c00"/><stop offset="0.8575" stop-color="#062030"/><stop offset="0.8607" stop-color="#062030"/><stop offset="0.8626" stop-color="#040d13"/><stop offset="0.8735" stop-color="#040d13"/><stop offset="0.8755" stop-color="#373300"/><stop offset="0.8795" stop-color="#373300"/><stop offset="0.8815" stop-color="#040e15"/><stop offset="0.8924" stop-color="#040e15"/><stop offset="0.8943" stop-color="#04131d"/><stop offset="0.9010" stop-color="#04131d"/><stop offset="0.9029" stop-color="#03090d"/><stop offset="0.9249" stop-color="#03090d"/><stop offset="0.9269" stop-color="#041018"/><stop offset="0.9273" stop-color="#041018"/><stop offset="0.9293" stop-color="#041018"/><stop offset="0.9297" stop-color="#041018"/><stop offset="0.9316" stop-color="#167298"/><stop offset="0.9340" stop-color="#167298"/><stop offset="0.9359" stop-color="#0f4e6e"/><stop offset="0.9434" stop-color="#0f4e6e"/><stop offset="0.9453" stop-color="#040508"/><stop offset="0.9485" stop-color="#040508"/><stop offset="0.9505" stop-color="#0b3d57"/><stop offset="0.9717" stop-color="#0b3d57"/><stop offset="0.9736" stop-color="#0c405c"/><stop offset="0.9802" stop-color="#0c405c"/><stop offset="0.9822" stop-color="#082f45"/><stop offset="0.9854" stop-color="#082f45"/><stop offset="0.9873" stop-color="#0b3d57"/><stop offset="0.9939" stop-color="#0b3d57"/><stop offset="0.9959" stop-color="#1c8cbc"/><stop offset="0.9990" stop-color="#1c8cbc"/></linearGradient>
<linearGradient id="g14" gradientUnits="userSpaceOnUse" x1="0" y1="209.4" x2="0" y2="1352.0"><stop offset="0.0010" stop-color="#1e96ca"/><stop offset="0.0026" stop-color="#1e96ca"/><stop offset="0.0046" stop-color="#082f45"/><stop offset="0.0116" stop-color="#082f45"/><stop offset="0.0135" stop-color="#14678c"/><stop offset="0.0210" stop-color="#14678c"/><stop offset="0.0229" stop-color="#0f4e6e"/><stop offset="0.0398" stop-color="#0f4e6e"/><stop offset="0.0418" stop-color="#041018"/><stop offset="0.0441" stop-color="#041018"/><stop offset="0.0460" stop-color="#062030"/><stop offset="0.0544" stop-color="#062030"/><stop offset="0.0563" stop-color="#041018"/><stop offset="0.0587" stop-color="#041018"/><stop offset="0.0606" stop-color="#14678c"/><stop offset="0.0638" stop-color="#14678c"/><stop offset="0.0657" stop-color="#051824"/><stop offset="0.0818" stop-color="#051824"/><stop offset="0.0837" stop-color="#2d2a00"/><stop offset="0.0904" stop-color="#2d2a00"/><stop offset="0.0923" stop-color="#373300"/><stop offset="0.0955" stop-color="#373300"/><stop offset="0.0974" stop-color="#413d00"/><stop offset="0.1041" stop-color="#413d00"/><stop offset="0.1060" stop-color="#040d13"/><stop offset="0.1221" stop-color="#040d13"/><stop offset="0.1240" stop-color="#373300"/><stop offset="0.1323" stop-color="#373300"/><stop offset="0.1343" stop-color="#040508"/><stop offset="0.1366" stop-color="#040508"/><stop offset="0.1386" stop-color="#082f45"/><stop offset="0.1503" stop-color="#082f45"/><stop offset="0.1523" stop-color="#0c405c"/><stop offset="0.1555" stop-color="#0c405c"/><stop offset="0.1574" stop-color="#082f45"/><stop offset="0.1598" stop-color="#082f45"/><stop offset="0.1617" stop-color="#041018"/><stop offset="0.1778" stop-color="#041018"/><stop offset="0.1797" stop-color="#1c8cbc"/><stop offset="0.1826" stop-color="#1c8cbc"/><stop offset="0.1845" stop-color="#0a3850"/><stop offset="0.1880" stop-color="#0a3850"/><stop offset="0.1900" stop-color="#082f45"/><stop offset="0.2052" stop-color="#082f45"/><stop offset="0.2071" stop-color="#051824"/><stop offset="0.2146" stop-color="#051824"/><stop offset="0.2165" stop-color="#1c8cbc"/><stop offset="0.2197" stop-color="#1c8cbc"/><stop offset="0.2217" stop-color="#040508"/><stop offset="0.2283" stop-color="#040508"/><stop offset="0.2302" stop-color="#222003"/><stop offset="0.2316" stop-color="#222003"/><stop offset="0.2335" stop-color="#474300"/><stop offset="0.2375" stop-color="#474300"/><stop offset="0.2394" stop-color="#171605"/><stop offset="0.2521" stop-color="#171605"/><stop offset="0.2540" stop-color="#040508"/><stop offset="0.2700" stop-color="#040508"/><stop offset="0.2720" stop-color="#082f45"/><stop offset="0.2778" stop-color="#082f45"/><stop offset="0.2797" stop-color="#04131d"/><stop offset="0.2932" stop-color="#04131d"/><stop offset="0.2951" stop-color="#062030"/><stop offset="0.2983" stop-color="#062030"/><stop offset="0.3002" stop-color="#040508"/><stop offset="0.3257" stop-color="#040508"/><stop offset="0.3277" stop-color="#1a1804"/><stop offset="0.3514" stop-color="#1a1804"/><stop offset="0.3534" stop-color="#2d2a00"/><stop offset="0.3583" stop-color="#2d2a00"/><stop offset="0.3602" stop-color="#03090d"/><stop offset="0.3668" stop-color="#03090d"/><stop offset="0.3688" stop-color="#082c41"/><stop offset="0.3806" stop-color="#082c41"/><stop offset="0.3825" stop-color="#0a3850"/><stop offset="0.3943" stop-color="#0a3850"/><stop offset="0.3962" stop-color="#040e15"/><stop offset="0.4182" stop-color="#040e15"/><stop offset="0.4202" stop-color="#062030"/><stop offset="0.4268" stop-color="#062030"/><stop offset="0.4287" stop-color="#0f4e6e"/><stop offset="0.4320" stop-color="#0f4e6e"/><stop offset="0.4339" stop-color="#0b3d57"/><stop offset="0.4414" stop-color="#0b3d57"/><stop offset="0.4433" stop-color="#040508"/><stop offset="0.4457" stop-color="#040508"/><stop offset="0.4476" stop-color="#0f4e6e"/><stop offset="0.4542" stop-color="#0f4e6e"/><stop offset="0.4562" stop-color="#0a0b07"/><stop offset="0.4635" stop-color="#0a0b07"/><stop offset="0.4654" stop-color="#03090d"/><stop offset="0.4677" stop-color="#03090d"/><stop offset="0.4696" stop-color="#062334"/><stop offset="0.4754" stop-color="#062334"/><stop offset="0.4773" stop-color="#1a1804"/><stop offset="0.4823" stop-color="#1a1804"/><stop offset="0.4842" stop-color="#040508"/><stop offset="0.5045" stop-color="#040508"/><stop offset="0.5065" stop-color="#141306"/><stop offset="0.5114" stop-color="#141306"/><stop offset="0.5133" stop-color="#040508"/><stop offset="0.5200" stop-color="#040508"/><stop offset="0.5219" stop-color="#041018"/><stop offset="0.5285" stop-color="#041018"/><stop offset="0.5305" stop-color="#082c41"/><stop offset="0.5422" stop-color="#082c41"/><stop offset="0.5442" stop-color="#040e15"/><stop offset="0.5559" stop-color="#040e15"/><stop offset="0.5579" stop-color="#040508"/><stop offset="0.5799" stop-color="#040508"/><stop offset="0.5819" stop-color="#040c12"/><stop offset="0.5868" stop-color="#040c12"/><stop offset="0.5887" stop-color="#040e15"/><stop offset="0.6005" stop-color="#040e15"/><stop offset="0.6024" stop-color="#030a0e"/><stop offset="0.6159" stop-color="#030a0e"/><stop offset="0.6178" stop-color="#062030"/><stop offset="0.6253" stop-color="#062030"/><stop offset="0.6273" stop-color="#030a0e"/><stop offset="0.6485" stop-color="#030a0e"/><stop offset="0.6504" stop-color="#041018"/><stop offset="0.6570" stop-color="#041018"/><stop offset="0.6590" stop-color="#040508"/><stop offset="0.6622" stop-color="#040508"/><stop offset="0.6641" stop-color="#061d2b"/><stop offset="0.6707" stop-color="#061d2b"/><stop offset="0.6727" stop-color="#0c405c"/><stop offset="0.6759" stop-color="#0c405c"/><stop offset="0.6778" stop-color="#1c1b04"/><stop offset="0.6827" stop-color="#1c1b04"/><stop offset="0.6847" stop-color="#3b3700"/><stop offset="0.6896" stop-color="#3b3700"/><stop offset="0.6915" stop-color="#0a0b07"/><stop offset="0.6954" stop-color="#0a0b07"/><stop offset="0.6973" stop-color="#0a0b07"/><stop offset="0.7056" stop-color="#0a0b07"/><stop offset="0.7075" stop-color="#1c1b04"/><stop offset="0.7168" stop-color="#1c1b04"/><stop offset="0.7187" stop-color="#040508"/><stop offset="0.7262" stop-color="#040508"/><stop offset="0.7281" stop-color="#062030"/><stop offset="0.7365" stop-color="#062030"/><stop offset="0.7384" stop-color="#040508"/><stop offset="0.7450" stop-color="#040508"/><stop offset="0.7470" stop-color="#222003"/><stop offset="0.7545" stop-color="#222003"/><stop offset="0.7564" stop-color="#03090d"/><stop offset="0.7630" stop-color="#03090d"/><stop offset="0.7649" stop-color="#171605"/><stop offset="0.7682" stop-color="#171605"/><stop offset="0.7701" stop-color="#040c12"/><stop offset="0.7810" stop-color="#040c12"/><stop offset="0.7829" stop-color="#040e15"/><stop offset="0.7913" stop-color="#040e15"/><stop offset="0.7932" stop-color="#040508"/><stop offset="0.8050" stop-color="#040508"/><stop offset="0.8069" stop-color="#141306"/><stop offset="0.8153" stop-color="#141306"/><stop offset="0.8172" stop-color="#040508"/><stop offset="0.8281" stop-color="#040508"/><stop offset="0.8301" stop-color="#07283a"/><stop offset="0.8427" stop-color="#07283a"/><stop offset="0.8446" stop-color="#373300"/><stop offset="0.8564" stop-color="#373300"/><stop offset="0.8583" stop-color="#0a0b07"/><stop offset="0.8701" stop-color="#0a0b07"/><stop offset="0.8720" stop-color="#061d2b"/><stop offset="0.8744" stop-color="#061d2b"/><stop offset="0.8763" stop-color="#141306"/><stop offset="0.8795" stop-color="#141306"/><stop offset="0.8815" stop-color="#041018"/><stop offset="0.8924" stop-color="#041018"/><stop offset="0.8943" stop-color="#03090d"/><stop offset="0.9112" stop-color="#03090d"/><stop offset="0.9132" stop-color="#1c1b04"/><stop offset="0.9164" stop-color="#1c1b04"/><stop offset="0.9183" stop-color="#03090d"/><stop offset="0.9249" stop-color="#03090d"/><stop offset="0.9269" stop-color="#062030"/><stop offset="0.9273" stop-color="#062030"/><stop offset="0.9293" stop-color="#0b3d57"/><stop offset="0.9434" stop-color="#0b3d57"/><stop offset="0.9453" stop-color="#040508"/><stop offset="0.9485" stop-color="#040508"/><stop offset="0.9505" stop-color="#082c41"/><stop offset="0.9622" stop-color="#082c41"/><stop offset="0.9642" stop-color="#040b10"/><stop offset="0.9665" stop-color="#040b10"/><stop offset="0.9685" stop-color="#0b3b55"/><stop offset="0.9802" stop-color="#0b3b55"/><stop offset="0.9822" stop-color="#082f45"/><stop offset="0.9939" stop-color="#082f45"/><stop offset="0.9959" stop-color="#125c80"/><stop offset="0.9990" stop-color="#125c80"/></linearGradient>
<linearGradient id="g15" gradientUnits="userSpaceOnUse" x1="0" y1="209.4" x2="0" y2="1352.0"><stop offset="0.0010" stop-color="#062030"/><stop offset="0.0026" stop-color="#062030"/><stop offset="0.0046" stop-color="#07283a"/><stop offset="0.0116" stop-color="#07283a"/><stop offset="0.0135" stop-color="#051824"/><stop offset="0.0210" stop-color="#051824"/><stop offset="0.0229" stop-color="#125c80"/><stop offset="0.0304" stop-color="#125c80"/><stop offset="0.0323" stop-color="#082f45"/><stop offset="0.0347" stop-color="#082f45"/><stop offset="0.0366" stop-color="#040b10"/><stop offset="0.0441" stop-color="#040b10"/><stop offset="0.0460" stop-color="#062030"/><stop offset="0.0578" stop-color="#062030"/><stop offset="0.0597" stop-color="#0c405c"/><stop offset="0.0672" stop-color="#0c405c"/><stop offset="0.0692" stop-color="#041018"/><stop offset="0.1178" stop-color="#041018"/><stop offset="0.1197" stop-color="#0a0b07"/><stop offset="0.1315" stop-color="#0a0b07"/><stop offset="0.1334" stop-color="#07283a"/><stop offset="0.1366" stop-color="#07283a"/><stop offset="0.1386" stop-color="#040508"/><stop offset="0.1418" stop-color="#040508"/><stop offset="0.1437" stop-color="#07283a"/><stop offset="0.1461" stop-color="#07283a"/><stop offset="0.1480" stop-color="#0f4e6e"/><stop offset="0.1640" stop-color="#0f4e6e"/><stop offset="0.1660" stop-color="#041018"/><stop offset="0.1726" stop-color="#041018"/><stop offset="0.1745" stop-color="#222003"/><stop offset="0.1778" stop-color="#222003"/><stop offset="0.1797" stop-color="#040b10"/><stop offset="0.1826" stop-color="#040b10"/><stop offset="0.1845" stop-color="#0c405c"/><stop offset="0.1880" stop-color="#0c405c"/><stop offset="0.1900" stop-color="#0a3850"/><stop offset="0.2009" stop-color="#0a3850"/><stop offset="0.2028" stop-color="#262402"/><stop offset="0.2103" stop-color="#262402"/><stop offset="0.2122" stop-color="#040508"/><stop offset="0.2154" stop-color="#040508"/><stop offset="0.2174" stop-color="#062030"/><stop offset="0.2206" stop-color="#062030"/><stop offset="0.2225" stop-color="#040508"/><stop offset="0.2316" stop-color="#040508"/><stop offset="0.2335" stop-color="#040508"/><stop offset="0.2375" stop-color="#040508"/><stop offset="0.2394" stop-color="#2d2a00"/><stop offset="0.2469" stop-color="#2d2a00"/><stop offset="0.2488" stop-color="#626000"/><stop offset="0.2521" stop-color="#626000"/><stop offset="0.2540" stop-color="#040508"/><stop offset="0.2563" stop-color="#040508"/><stop offset="0.2583" stop-color="#0f4e6e"/><stop offset="0.2606" stop-color="#0f4e6e"/><stop offset="0.2625" stop-color="#1e96ca"/><stop offset="0.2752" stop-color="#1e96ca"/><stop offset="0.2771" stop-color="#082f45"/><stop offset="0.2795" stop-color="#082f45"/><stop offset="0.2814" stop-color="#04131d"/><stop offset="0.2889" stop-color="#04131d"/><stop offset="0.2908" stop-color="#03080b"/><stop offset="0.2992" stop-color="#03080b"/><stop offset="0.3011" stop-color="#1a1804"/><stop offset="0.3026" stop-color="#1a1804"/><stop offset="0.3045" stop-color="#332f00"/><stop offset="0.3069" stop-color="#332f00"/><stop offset="0.3088" stop-color="#0c405c"/><stop offset="0.3120" stop-color="#0c405c"/><stop offset="0.3139" stop-color="#040508"/><stop offset="0.3163" stop-color="#040508"/><stop offset="0.3182" stop-color="#1c1b04"/><stop offset="0.3300" stop-color="#1c1b04"/><stop offset="0.3319" stop-color="#4f4c00"/><stop offset="0.3394" stop-color="#4f4c00"/><stop offset="0.3414" stop-color="#171605"/><stop offset="0.3574" stop-color="#171605"/><stop offset="0.3593" stop-color="#2d2a00"/><stop offset="0.3634" stop-color="#2d2a00"/><stop offset="0.3653" stop-color="#062030"/><stop offset="0.3711" stop-color="#062030"/><stop offset="0.3731" stop-color="#0c405c"/><stop offset="0.3943" stop-color="#0c405c"/><stop offset="0.3962" stop-color="#082c41"/><stop offset="0.4131" stop-color="#082c41"/><stop offset="0.4150" stop-color="#0f4e6e"/><stop offset="0.4225" stop-color="#0f4e6e"/><stop offset="0.4245" stop-color="#041018"/><stop offset="0.4268" stop-color="#041018"/><stop offset="0.4287" stop-color="#0f4e6e"/><stop offset="0.4320" stop-color="#0f4e6e"/><stop offset="0.4339" stop-color="#040e15"/><stop offset="0.4457" stop-color="#040e15"/><stop offset="0.4476" stop-color="#062030"/><stop offset="0.4542" stop-color="#062030"/><stop offset="0.4562" stop-color="#040b10"/><stop offset="0.4635" stop-color="#040b10"/><stop offset="0.4654" stop-color="#040b10"/><stop offset="0.4677" stop-color="#040b10"/><stop offset="0.4696" stop-color="#082f45"/><stop offset="0.4771" stop-color="#082f45"/><stop offset="0.4790" stop-color="#373300"/><stop offset="0.4823" stop-color="#373300"/><stop offset="0.4842" stop-color="#040508"/><stop offset="0.5045" stop-color="#040508"/><stop offset="0.5065" stop-color="#0a3850"/><stop offset="0.5148" stop-color="#0a3850"/><stop offset="0.5167" stop-color="#040508"/><stop offset="0.5200" stop-color="#040508"/><stop offset="0.5219" stop-color="#061d2b"/><stop offset="0.5285" stop-color="#061d2b"/><stop offset="0.5305" stop-color="#09344c"/><stop offset="0.5422" stop-color="#09344c"/><stop offset="0.5442" stop-color="#061d2b"/><stop offset="0.5525" stop-color="#061d2b"/><stop offset="0.5544" stop-color="#0a0b07"/><stop offset="0.5628" stop-color="#0a0b07"/><stop offset="0.5647" stop-color="#041018"/><stop offset="0.5834" stop-color="#041018"/><stop offset="0.5853" stop-color="#062030"/><stop offset="0.5988" stop-color="#062030"/><stop offset="0.6007" stop-color="#041018"/><stop offset="0.6159" stop-color="#041018"/><stop offset="0.6178" stop-color="#0f4e6e"/><stop offset="0.6253" stop-color="#0f4e6e"/><stop offset="0.6273" stop-color="#040e15"/><stop offset="0.6348" stop-color="#040e15"/><stop offset="0.6367" stop-color="#07283a"/><stop offset="0.6570" stop-color="#07283a"/><stop offset="0.6590" stop-color="#0a0b07"/><stop offset="0.6707" stop-color="#0a0b07"/><stop offset="0.6727" stop-color="#062030"/><stop offset="0.6759" stop-color="#062030"/><stop offset="0.6778" stop-color="#040508"/><stop offset="0.6879" stop-color="#040508"/><stop offset="0.6898" stop-color="#262402"/><stop offset="0.6954" stop-color="#262402"/><stop offset="0.6973" stop-color="#222003"/><stop offset="0.6988" stop-color="#222003"/><stop offset="0.7007" stop-color="#0a3850"/><stop offset="0.7082" stop-color="#0a3850"/><stop offset="0.7101" stop-color="#070808"/><stop offset="0.7219" stop-color="#070808"/><stop offset="0.7238" stop-color="#3d3900"/><stop offset="0.7262" stop-color="#3d3900"/><stop offset="0.7281" stop-color="#167298"/><stop offset="0.7450" stop-color="#167298"/><stop offset="0.7470" stop-color="#061d2b"/><stop offset="0.7545" stop-color="#061d2b"/><stop offset="0.7564" stop-color="#040508"/><stop offset="0.7639" stop-color="#040508"/><stop offset="0.7658" stop-color="#141306"/><stop offset="0.7724" stop-color="#141306"/><stop offset="0.7744" stop-color="#040508"/><stop offset="0.7776" stop-color="#040508"/><stop offset="0.7795" stop-color="#041018"/><stop offset="0.7913" stop-color="#041018"/><stop offset="0.7932" stop-color="#040508"/><stop offset="0.8101" stop-color="#040508"/><stop offset="0.8121" stop-color="#062030"/><stop offset="0.8153" stop-color="#062030"/><stop offset="0.8172" stop-color="#04131d"/><stop offset="0.8238" stop-color="#04131d"/><stop offset="0.8258" stop-color="#040508"/><stop offset="0.8290" stop-color="#040508"/><stop offset="0.8309" stop-color="#062030"/><stop offset="0.8376" stop-color="#062030"/><stop offset="0.8395" stop-color="#082c41"/><stop offset="0.8427" stop-color="#082c41"/><stop offset="0.8446" stop-color="#040508"/><stop offset="0.8461" stop-color="#040508"/><stop offset="0.8480" stop-color="#222003"/><stop offset="0.8547" stop-color="#222003"/><stop offset="0.8566" stop-color="#061d2b"/><stop offset="0.8650" stop-color="#061d2b"/><stop offset="0.8669" stop-color="#040508"/><stop offset="0.8701" stop-color="#040508"/><stop offset="0.8720" stop-color="#082f45"/><stop offset="0.8749" stop-color="#082f45"/><stop offset="0.8768" stop-color="#040508"/><stop offset="0.8924" stop-color="#040508"/><stop offset="0.8943" stop-color="#041018"/><stop offset="0.8975" stop-color="#041018"/><stop offset="0.8994" stop-color="#07283a"/><stop offset="0.9035" stop-color="#07283a"/><stop offset="0.9054" stop-color="#040508"/><stop offset="0.9164" stop-color="#040508"/><stop offset="0.9183" stop-color="#082c41"/><stop offset="0.9215" stop-color="#082c41"/><stop offset="0.9234" stop-color="#040508"/><stop offset="0.9273" stop-color="#040508"/><stop offset="0.9293" stop-color="#111006"/><stop offset="0.9297" stop-color="#111006"/><stop offset="0.9316" stop-color="#413d00"/><stop offset="0.9340" stop-color="#413d00"/><stop offset="0.9359" stop-color="#040508"/><stop offset="0.9434" stop-color="#040508"/><stop offset="0.9453" stop-color="#262402"/><stop offset="0.9485" stop-color="#262402"/><stop offset="0.9505" stop-color="#0c405c"/><stop offset="0.9571" stop-color="#0c405c"/><stop offset="0.9590" stop-color="#125c80"/><stop offset="0.9622" stop-color="#125c80"/><stop offset="0.9642" stop-color="#040508"/><stop offset="0.9665" stop-color="#040508"/><stop offset="0.9685" stop-color="#0a3850"/><stop offset="0.9760" stop-color="#0a3850"/><stop offset="0.9779" stop-color="#03090d"/><stop offset="0.9897" stop-color="#03090d"/><stop offset="0.9916" stop-color="#373300"/><stop offset="0.9948" stop-color="#373300"/><stop offset="0.9967" stop-color="#07283a"/><stop offset="0.9990" stop-color="#07283a"/></linearGradient>
<linearGradient id="g16" gradientUnits="userSpaceOnUse" x1="0" y1="209.4" x2="0" y2="1352.0"><stop offset="0.0010" stop-color="#141306"/><stop offset="0.0026" stop-color="#141306"/><stop offset="0.0046" stop-color="#07283a"/><stop offset="0.0347" stop-color="#07283a"/><stop offset="0.0366" stop-color="#040508"/><stop offset="0.0493" stop-color="#040508"/><stop offset="0.0512" stop-color="#051824"/><stop offset="0.0630" stop-color="#051824"/><stop offset="0.0649" stop-color="#040508"/><stop offset="0.0715" stop-color="#040508"/><stop offset="0.0734" stop-color="#1c1b04"/><stop offset="0.0767" stop-color="#1c1b04"/><stop offset="0.0786" stop-color="#040508"/><stop offset="0.0815" stop-color="#040508"/><stop offset="0.0834" stop-color="#041018"/><stop offset="0.1178" stop-color="#041018"/><stop offset="0.1197" stop-color="#040508"/><stop offset="0.1272" stop-color="#040508"/><stop offset="0.1291" stop-color="#07283a"/><stop offset="0.1323" stop-color="#07283a"/><stop offset="0.1343" stop-color="#626000"/><stop offset="0.1366" stop-color="#626000"/><stop offset="0.1386" stop-color="#040508"/><stop offset="0.1418" stop-color="#040508"/><stop offset="0.1437" stop-color="#2d2a00"/><stop offset="0.1503" stop-color="#2d2a00"/><stop offset="0.1523" stop-color="#03090d"/><stop offset="0.1640" stop-color="#03090d"/><stop offset="0.1660" stop-color="#0a0b07"/><stop offset="0.1778" stop-color="#0a0b07"/><stop offset="0.1797" stop-color="#041018"/><stop offset="0.1872" stop-color="#041018"/><stop offset="0.1891" stop-color="#040508"/><stop offset="0.2009" stop-color="#040508"/><stop offset="0.2028" stop-color="#0a3850"/><stop offset="0.2103" stop-color="#0a3850"/><stop offset="0.2122" stop-color="#062030"/><stop offset="0.2154" stop-color="#062030"/><stop offset="0.2174" stop-color="#0c405c"/><stop offset="0.2197" stop-color="#0c405c"/><stop offset="0.2217" stop-color="#051824"/><stop offset="0.2316" stop-color="#051824"/><stop offset="0.2335" stop-color="#062030"/><stop offset="0.2366" stop-color="#062030"/><stop offset="0.2386" stop-color="#041018"/><stop offset="0.2563" stop-color="#041018"/><stop offset="0.2583" stop-color="#0c405c"/><stop offset="0.2606" stop-color="#0c405c"/><stop offset="0.2625" stop-color="#051824"/><stop offset="0.2932" stop-color="#051824"/><stop offset="0.2951" stop-color="#062030"/><stop offset="0.2983" stop-color="#062030"/><stop offset="0.3002" stop-color="#1c1b04"/><stop offset="0.3026" stop-color="#1c1b04"/><stop offset="0.3045" stop-color="#070808"/><stop offset="0.3223" stop-color="#070808"/><stop offset="0.3242" stop-color="#141306"/><stop offset="0.3300" stop-color="#141306"/><stop offset="0.3319" stop-color="#061d2b"/><stop offset="0.3394" stop-color="#061d2b"/><stop offset="0.3414" stop-color="#040e15"/><stop offset="0.3583" stop-color="#040e15"/><stop offset="0.3602" stop-color="#040c12"/><stop offset="0.3737" stop-color="#040c12"/><stop offset="0.3756" stop-color="#062334"/><stop offset="0.3823" stop-color="#062334"/><stop offset="0.3842" stop-color="#041018"/><stop offset="0.3960" stop-color="#041018"/><stop offset="0.3979" stop-color="#1c1b04"/><stop offset="0.4131" stop-color="#1c1b04"/><stop offset="0.4150" stop-color="#040508"/><stop offset="0.4405" stop-color="#040508"/><stop offset="0.4424" stop-color="#222003"/><stop offset="0.4457" stop-color="#222003"/><stop offset="0.4476" stop-color="#040508"/><stop offset="0.4542" stop-color="#040508"/><stop offset="0.4562" stop-color="#1c1b04"/><stop offset="0.4635" stop-color="#1c1b04"/><stop offset="0.4654" stop-color="#070808"/><stop offset="0.5182" stop-color="#070808"/><stop offset="0.5202" stop-color="#041018"/><stop offset="0.5234" stop-color="#041018"/><stop offset="0.5253" stop-color="#040508"/><stop offset="0.5285" stop-color="#040508"/><stop offset="0.5305" stop-color="#062030"/><stop offset="0.5422" stop-color="#062030"/><stop offset="0.5442" stop-color="#040508"/><stop offset="0.5594" stop-color="#040508"/><stop offset="0.5613" stop-color="#041018"/><stop offset="0.5662" stop-color="#041018"/><stop offset="0.5681" stop-color="#030a0e"/><stop offset="0.5799" stop-color="#030a0e"/><stop offset="0.5819" stop-color="#051a26"/><stop offset="0.5988" stop-color="#051a26"/><stop offset="0.6007" stop-color="#041018"/><stop offset="0.6142" stop-color="#041018"/><stop offset="0.6161" stop-color="#040508"/><stop offset="0.6210" stop-color="#040508"/><stop offset="0.6230" stop-color="#061d2b"/><stop offset="0.6476" stop-color="#061d2b"/><stop offset="0.6495" stop-color="#040508"/><stop offset="0.6622" stop-color="#040508"/><stop offset="0.6641" stop-color="#332f00"/><stop offset="0.6673" stop-color="#332f00"/><stop offset="0.6692" stop-color="#041018"/><stop offset="0.6742" stop-color="#041018"/><stop offset="0.6761" stop-color="#040508"/><stop offset="0.6954" stop-color="#040508"/><stop offset="0.6973" stop-color="#040508"/><stop offset="0.6988" stop-color="#040508"/><stop offset="0.7007" stop-color="#051824"/><stop offset="0.7039" stop-color="#051824"/><stop offset="0.7058" stop-color="#070808"/><stop offset="0.7125" stop-color="#070808"/><stop offset="0.7144" stop-color="#171605"/><stop offset="0.7219" stop-color="#171605"/><stop offset="0.7238" stop-color="#040508"/><stop offset="0.7262" stop-color="#040508"/><stop offset="0.7281" stop-color="#061d2b"/><stop offset="0.7313" stop-color="#061d2b"/><stop offset="0.7333" stop-color="#040c12"/><stop offset="0.7450" stop-color="#040c12"/><stop offset="0.7470" stop-color="#111006"/><stop offset="0.7502" stop-color="#111006"/><stop offset="0.7521" stop-color="#040508"/><stop offset="0.7639" stop-color="#040508"/><stop offset="0.7658" stop-color="#041018"/><stop offset="0.7913" stop-color="#041018"/><stop offset="0.7932" stop-color="#040e15"/><stop offset="0.8101" stop-color="#040e15"/><stop offset="0.8121" stop-color="#03080b"/><stop offset="0.8290" stop-color="#03080b"/><stop offset="0.8309" stop-color="#041018"/><stop offset="0.8324" stop-color="#041018"/><stop offset="0.8343" stop-color="#040508"/><stop offset="0.8564" stop-color="#040508"/><stop offset="0.8583" stop-color="#051824"/><stop offset="0.8650" stop-color="#051824"/><stop offset="0.8669" stop-color="#171605"/><stop offset="0.8701" stop-color="#171605"/><stop offset="0.8720" stop-color="#040508"/><stop offset="0.8787" stop-color="#040508"/><stop offset="0.8806" stop-color="#062030"/><stop offset="0.8924" stop-color="#062030"/><stop offset="0.8943" stop-color="#061d2b"/><stop offset="0.9095" stop-color="#061d2b"/><stop offset="0.9114" stop-color="#040c12"/><stop offset="0.9273" stop-color="#040c12"/><stop offset="0.9293" stop-color="#171605"/><stop offset="0.9340" stop-color="#171605"/><stop offset="0.9359" stop-color="#373300"/><stop offset="0.9477" stop-color="#373300"/><stop offset="0.9496" stop-color="#111006"/><stop offset="0.9571" stop-color="#111006"/><stop offset="0.9590" stop-color="#1f1d04"/><stop offset="0.9622" stop-color="#1f1d04"/><stop offset="0.9642" stop-color="#041018"/><stop offset="0.9717" stop-color="#041018"/><stop offset="0.9736" stop-color="#141306"/><stop offset="0.9760" stop-color="#141306"/><stop offset="0.9779" stop-color="#040508"/><stop offset="0.9802" stop-color="#040508"/><stop offset="0.9822" stop-color="#1c1b04"/><stop offset="0.9854" stop-color="#1c1b04"/><stop offset="0.9873" stop-color="#040508"/><stop offset="0.9905" stop-color="#040508"/><stop offset="0.9924" stop-color="#040d13"/><stop offset="0.9990" stop-color="#040d13"/></linearGradient>
<linearGradient id="g17" gradientUnits="userSpaceOnUse" x1="0" y1="209.4" x2="0" y2="1352.0"><stop offset="0.0010" stop-color="#6f6e00"/><stop offset="0.0026" stop-color="#6f6e00"/><stop offset="0.0046" stop-color="#040508"/><stop offset="0.0064" stop-color="#040508"/><stop offset="0.0083" stop-color="#062030"/><stop offset="0.0167" stop-color="#062030"/><stop offset="0.0186" stop-color="#040508"/><stop offset="0.0253" stop-color="#040508"/><stop offset="0.0272" stop-color="#2d2a00"/><stop offset="0.0347" stop-color="#2d2a00"/><stop offset="0.0366" stop-color="#0e0e06"/><stop offset="0.0398" stop-color="#0e0e06"/><stop offset="0.0418" stop-color="#373300"/><stop offset="0.0493" stop-color="#373300"/><stop offset="0.0512" stop-color="#040508"/><stop offset="0.0535" stop-color="#040508"/><stop offset="0.0555" stop-color="#373300"/><stop offset="0.0630" stop-color="#373300"/><stop offset="0.0649" stop-color="#6f6e00"/><stop offset="0.0681" stop-color="#6f6e00"/><stop offset="0.0700" stop-color="#565300"/><stop offset="0.0767" stop-color="#565300"/><stop offset="0.0786" stop-color="#8b8900"/><stop offset="0.0815" stop-color="#8b8900"/><stop offset="0.0834" stop-color="#051824"/><stop offset="0.0955" stop-color="#051824"/><stop offset="0.0974" stop-color="#040508"/><stop offset="0.1092" stop-color="#040508"/><stop offset="0.1111" stop-color="#2d2a00"/><stop offset="0.1229" stop-color="#2d2a00"/><stop offset="0.1249" stop-color="#041018"/><stop offset="0.1323" stop-color="#041018"/><stop offset="0.1343" stop-color="#6f6e00"/><stop offset="0.1503" stop-color="#6f6e00"/><stop offset="0.1523" stop-color="#7d7b00"/><stop offset="0.1598" stop-color="#7d7b00"/><stop offset="0.1617" stop-color="#222003"/><stop offset="0.1726" stop-color="#222003"/><stop offset="0.1745" stop-color="#2d2a00"/><stop offset="0.1778" stop-color="#2d2a00"/><stop offset="0.1797" stop-color="#040508"/><stop offset="0.1826" stop-color="#040508"/><stop offset="0.1845" stop-color="#2d2a00"/><stop offset="0.1872" stop-color="#2d2a00"/><stop offset="0.1891" stop-color="#565300"/><stop offset="0.1923" stop-color="#565300"/><stop offset="0.1942" stop-color="#413d00"/><stop offset="0.1966" stop-color="#413d00"/><stop offset="0.1985" stop-color="#051824"/><stop offset="0.2206" stop-color="#051824"/><stop offset="0.2225" stop-color="#0a0b07"/><stop offset="0.2316" stop-color="#0a0b07"/><stop offset="0.2335" stop-color="#03090d"/><stop offset="0.2375" stop-color="#03090d"/><stop offset="0.2394" stop-color="#262402"/><stop offset="0.2469" stop-color="#262402"/><stop offset="0.2488" stop-color="#040508"/><stop offset="0.2521" stop-color="#040508"/><stop offset="0.2540" stop-color="#1c1b04"/><stop offset="0.2606" stop-color="#1c1b04"/><stop offset="0.2625" stop-color="#062334"/><stop offset="0.2795" stop-color="#062334"/><stop offset="0.2814" stop-color="#062030"/><stop offset="0.2932" stop-color="#062030"/><stop offset="0.2951" stop-color="#167298"/><stop offset="0.2992" stop-color="#167298"/><stop offset="0.3011" stop-color="#041018"/><stop offset="0.3069" stop-color="#041018"/><stop offset="0.3088" stop-color="#0c405c"/><stop offset="0.3120" stop-color="#0c405c"/><stop offset="0.3139" stop-color="#062334"/><stop offset="0.3257" stop-color="#062334"/><stop offset="0.3277" stop-color="#040508"/><stop offset="0.3309" stop-color="#040508"/><stop offset="0.3328" stop-color="#14678c"/><stop offset="0.3394" stop-color="#14678c"/><stop offset="0.3414" stop-color="#062334"/><stop offset="0.3540" stop-color="#062334"/><stop offset="0.3559" stop-color="#0e0e06"/><stop offset="0.3626" stop-color="#0e0e06"/><stop offset="0.3645" stop-color="#082f45"/><stop offset="0.3754" stop-color="#082f45"/><stop offset="0.3773" stop-color="#332f00"/><stop offset="0.3806" stop-color="#332f00"/><stop offset="0.3825" stop-color="#062030"/><stop offset="0.3857" stop-color="#062030"/><stop offset="0.3876" stop-color="#040508"/><stop offset="0.3994" stop-color="#040508"/><stop offset="0.4013" stop-color="#1c1b04"/><stop offset="0.4088" stop-color="#1c1b04"/><stop offset="0.4108" stop-color="#4b4800"/><stop offset="0.4140" stop-color="#4b4800"/><stop offset="0.4159" stop-color="#111006"/><stop offset="0.4320" stop-color="#111006"/><stop offset="0.4339" stop-color="#222003"/><stop offset="0.4405" stop-color="#222003"/><stop offset="0.4424" stop-color="#4b4800"/><stop offset="0.4542" stop-color="#4b4800"/><stop offset="0.4562" stop-color="#373300"/><stop offset="0.4602" stop-color="#373300"/><stop offset="0.4622" stop-color="#041018"/><stop offset="0.4635" stop-color="#041018"/><stop offset="0.4654" stop-color="#040508"/><stop offset="0.4686" stop-color="#040508"/><stop offset="0.4705" stop-color="#3b3700"/><stop offset="0.4771" stop-color="#3b3700"/><stop offset="0.4790" stop-color="#040e15"/><stop offset="0.4823" stop-color="#040e15"/><stop offset="0.4842" stop-color="#222003"/><stop offset="0.4908" stop-color="#222003"/><stop offset="0.4928" stop-color="#0a0b07"/><stop offset="0.5131" stop-color="#0a0b07"/><stop offset="0.5150" stop-color="#062030"/><stop offset="0.5285" stop-color="#062030"/><stop offset="0.5305" stop-color="#07283a"/><stop offset="0.5388" stop-color="#07283a"/><stop offset="0.5407" stop-color="#040508"/><stop offset="0.5645" stop-color="#040508"/><stop offset="0.5664" stop-color="#111006"/><stop offset="0.5696" stop-color="#111006"/><stop offset="0.5716" stop-color="#041018"/><stop offset="0.5868" stop-color="#041018"/><stop offset="0.5887" stop-color="#061d2b"/><stop offset="0.6073" stop-color="#061d2b"/><stop offset="0.6093" stop-color="#040508"/><stop offset="0.6142" stop-color="#040508"/><stop offset="0.6161" stop-color="#332f00"/><stop offset="0.6245" stop-color="#332f00"/><stop offset="0.6264" stop-color="#040b10"/><stop offset="0.6296" stop-color="#040b10"/><stop offset="0.6315" stop-color="#082f45"/><stop offset="0.6485" stop-color="#082f45"/><stop offset="0.6504" stop-color="#062030"/><stop offset="0.6622" stop-color="#062030"/><stop offset="0.6641" stop-color="#040508"/><stop offset="0.6690" stop-color="#040508"/><stop offset="0.6709" stop-color="#040e15"/><stop offset="0.6793" stop-color="#040e15"/><stop offset="0.6812" stop-color="#04131d"/><stop offset="0.6879" stop-color="#04131d"/><stop offset="0.6898" stop-color="#040c12"/><stop offset="0.6954" stop-color="#040c12"/><stop offset="0.6973" stop-color="#03090d"/><stop offset="0.7262" stop-color="#03090d"/><stop offset="0.7281" stop-color="#040c12"/><stop offset="0.7450" stop-color="#040c12"/><stop offset="0.7470" stop-color="#062030"/><stop offset="0.7519" stop-color="#062030"/><stop offset="0.7538" stop-color="#041018"/><stop offset="0.7587" stop-color="#041018"/><stop offset="0.7607" stop-color="#040508"/><stop offset="0.7673" stop-color="#040508"/><stop offset="0.7692" stop-color="#040d13"/><stop offset="0.7776" stop-color="#040d13"/><stop offset="0.7795" stop-color="#040508"/><stop offset="0.7827" stop-color="#040508"/><stop offset="0.7847" stop-color="#041018"/><stop offset="0.7913" stop-color="#041018"/><stop offset="0.7932" stop-color="#040508"/><stop offset="0.7964" stop-color="#040508"/><stop offset="0.7984" stop-color="#040c12"/><stop offset="0.8101" stop-color="#040c12"/><stop offset="0.8121" stop-color="#040508"/><stop offset="0.8187" stop-color="#040508"/><stop offset="0.8206" stop-color="#041018"/><stop offset="0.8238" stop-color="#041018"/><stop offset="0.8258" stop-color="#040508"/><stop offset="0.8324" stop-color="#040508"/><stop offset="0.8343" stop-color="#332f00"/><stop offset="0.8461" stop-color="#332f00"/><stop offset="0.8480" stop-color="#040508"/><stop offset="0.8650" stop-color="#040508"/><stop offset="0.8669" stop-color="#413d00"/><stop offset="0.8744" stop-color="#413d00"/><stop offset="0.8763" stop-color="#03090d"/><stop offset="0.8890" stop-color="#03090d"/><stop offset="0.8909" stop-color="#040e15"/><stop offset="0.8941" stop-color="#040e15"/><stop offset="0.8960" stop-color="#040508"/><stop offset="0.9027" stop-color="#040508"/><stop offset="0.9046" stop-color="#041018"/><stop offset="0.9078" stop-color="#041018"/><stop offset="0.9097" stop-color="#141306"/><stop offset="0.9198" stop-color="#141306"/><stop offset="0.9217" stop-color="#222003"/><stop offset="0.9249" stop-color="#222003"/><stop offset="0.9269" stop-color="#626000"/><stop offset="0.9273" stop-color="#626000"/><stop offset="0.9293" stop-color="#5d5b00"/><stop offset="0.9340" stop-color="#5d5b00"/><stop offset="0.9359" stop-color="#8b8900"/><stop offset="0.9434" stop-color="#8b8900"/><stop offset="0.9453" stop-color="#0a0b07"/><stop offset="0.9485" stop-color="#0a0b07"/><stop offset="0.9505" stop-color="#2d2a00"/><stop offset="0.9571" stop-color="#2d2a00"/><stop offset="0.9590" stop-color="#4f4c00"/><stop offset="0.9622" stop-color="#4f4c00"/><stop offset="0.9642" stop-color="#222003"/><stop offset="0.9665" stop-color="#222003"/><stop offset="0.9685" stop-color="#413d00"/><stop offset="0.9760" stop-color="#413d00"/><stop offset="0.9779" stop-color="#4b4800"/><stop offset="0.9888" stop-color="#4b4800"/><stop offset="0.9907" stop-color="#6f6e00"/><stop offset="0.9990" stop-color="#6f6e00"/></linearGradient>
<filter id="soft" x="-1%" y="-1%" width="102%" height="102%" color-interpolation-filters="sRGB"><feGaussianBlur stdDeviation="0.9 1.0"/></filter>
<clipPath id="hclip"><rect x="714.2" y="209.4" width="1244.2" height="1142.6"/></clipPath>
</defs>
<rect x="0" y="0" width="2120" height="1355" fill="#fff"/>
<g id="heatmap" clip-path="url(#hclip)" filter="url(#soft)">
<rect x="709.2" y="204.4" width="1254.2" height="1152.6" fill="#04070a"/>
<rect x="709.20" y="204.4" width="74.42" height="1152.6" fill="url(#g0)"/>
<rect x="783.32" y="204.4" width="69.42" height="1152.6" fill="url(#g1)"/>
<rect x="852.44" y="204.4" width="69.42" height="1152.6" fill="url(#g2)"/>
<rect x="921.57" y="204.4" width="69.42" height="1152.6" fill="url(#g3)"/>
<rect x="990.69" y="204.4" width="69.42" height="1152.6" fill="url(#g4)"/>
<rect x="1059.81" y="204.4" width="69.42" height="1152.6" fill="url(#g5)"/>
<rect x="1128.93" y="204.4" width="69.42" height="1152.6" fill="url(#g6)"/>
<rect x="1198.06" y="204.4" width="69.42" height="1152.6" fill="url(#g7)"/>
<rect x="1267.18" y="204.4" width="69.42" height="1152.6" fill="url(#g8)"/>
<rect x="1336.30" y="204.4" width="69.42" height="1152.6" fill="url(#g9)"/>
<rect x="1405.42" y="204.4" width="69.42" height="1152.6" fill="url(#g10)"/>
<rect x="1474.54" y="204.4" width="69.42" height="1152.6" fill="url(#g11)"/>
<rect x="1543.67" y="204.4" width="69.42" height="1152.6" fill="url(#g12)"/>
<rect x="1612.79" y="204.4" width="69.42" height="1152.6" fill="url(#g13)"/>
<rect x="1681.91" y="204.4" width="69.42" height="1152.6" fill="url(#g14)"/>
<rect x="1751.03" y="204.4" width="69.42" height="1152.6" fill="url(#g15)"/>
<rect x="1820.16" y="204.4" width="69.42" height="1152.6" fill="url(#g16)"/>
<rect x="1889.28" y="204.4" width="74.42" height="1152.6" fill="url(#g17)"/>
</g>
<g id="separators">
<rect x="920.9" y="209.4" width="1.8" height="1142.6" fill="#fff"/>
<rect x="1336.8999999999999" y="209.4" width="1.8" height="1142.6" fill="#fff"/>
<rect x="1610.6999999999998" y="209.4" width="1.8" height="1142.6" fill="#fff"/>
</g>
<g id="figure">
<line x1="232" y1="160.7" x2="232" y2="583.3" stroke="#000" stroke-width="4.7"/>
<line x1="218" y1="581" x2="462" y2="581" stroke="#000" stroke-width="4.7"/>
<line x1="218" y1="163.0" x2="232" y2="163.0" stroke="#000" stroke-width="4.7"/>
<line x1="218" y1="268.0" x2="232" y2="268.0" stroke="#000" stroke-width="4.7"/>
<line x1="218" y1="372.3" x2="232" y2="372.3" stroke="#000" stroke-width="4.7"/>
<line x1="218" y1="476.5" x2="232" y2="476.5" stroke="#000" stroke-width="4.7"/>
<line x1="218" y1="581.0" x2="232" y2="581.0" stroke="#000" stroke-width="4.7"/>
<line x1="296.5" y1="277" x2="296.5" y2="326" stroke="#000" stroke-width="4.8"/>
<line x1="280.0" y1="277" x2="313.0" y2="277" stroke="#000" stroke-width="4.8"/>
<line x1="280.0" y1="326" x2="313.0" y2="326" stroke="#000" stroke-width="4.8"/>
<line x1="264.0" y1="301.5" x2="329.0" y2="301.5" stroke="#000" stroke-width="4.8"/>
<circle cx="296.5" cy="236" r="4.9" fill="#000"/>
<circle cx="296.5" cy="255" r="4.9" fill="#000"/>
<circle cx="296.5" cy="313.5" r="4.9" fill="#000"/>
<circle cx="287.5" cy="352.5" r="4.9" fill="#000"/>
<circle cx="305.5" cy="352" r="4.9" fill="#000"/>
<line x1="394.5" y1="283" x2="394.5" y2="355.5" stroke="#ea1419" stroke-width="4.8"/>
<line x1="378.0" y1="283" x2="411.0" y2="283" stroke="#ea1419" stroke-width="4.8"/>
<line x1="378.0" y1="355.5" x2="411.0" y2="355.5" stroke="#ea1419" stroke-width="4.8"/>
<line x1="362.0" y1="319" x2="427.0" y2="319" stroke="#000" stroke-width="4.8"/>
<circle cx="394.5" cy="198" r="4.9" fill="#ea1419"/>
<circle cx="394.5" cy="231.5" r="4.9" fill="#ea1419"/>
<circle cx="394.5" cy="315" r="4.9" fill="#ea1419"/>
<circle cx="394.5" cy="358" r="4.9" fill="#ea1419"/>
<circle cx="394.5" cy="395.5" r="4.9" fill="#ea1419"/>
<circle cx="394.5" cy="415.5" r="4.9" fill="#ea1419"/>
<line x1="137.8" y1="844.5" x2="137.8" y2="1246.2" stroke="#000" stroke-width="4.7"/>
<line x1="124" y1="1243.8" x2="601" y2="1243.8" stroke="#000" stroke-width="4.7"/>
<line x1="124" y1="846.9" x2="137.8" y2="846.9" stroke="#000" stroke-width="4.7"/>
<line x1="124" y1="926.2" x2="137.8" y2="926.2" stroke="#000" stroke-width="4.7"/>
<line x1="124" y1="1005.5" x2="137.8" y2="1005.5" stroke="#000" stroke-width="4.7"/>
<line x1="124" y1="1084.9" x2="137.8" y2="1084.9" stroke="#000" stroke-width="4.7"/>
<line x1="124" y1="1164.3" x2="137.8" y2="1164.3" stroke="#000" stroke-width="4.7"/>
<line x1="124" y1="1243.8" x2="137.8" y2="1243.8" stroke="#000" stroke-width="4.7"/>
<circle cx="172.3" cy="833.2" r="5.7" fill="#000"/>
<circle cx="172.3" cy="880.5" r="5.7" fill="#ea1419"/>
<line x1="422.8" y1="852.4" x2="538.9" y2="852.4" stroke="#000" stroke-width="2.4"/>
<line x1="208.3" y1="1083" x2="208.3" y2="1160.5" stroke="#000" stroke-width="4.8"/>
<line x1="190.55" y1="1083" x2="226.05" y2="1083" stroke="#000" stroke-width="4.8"/>
<line x1="190.55" y1="1160.5" x2="226.05" y2="1160.5" stroke="#000" stroke-width="4.8"/>
<line x1="173.3" y1="1121.5" x2="243.3" y2="1121.5" stroke="#000" stroke-width="4.8"/>
<circle cx="208.3" cy="981.8" r="4.9" fill="#000"/>
<circle cx="208.3" cy="1033" r="4.9" fill="#000"/>
<circle cx="208.3" cy="1117" r="4.9" fill="#000"/>
<circle cx="199" cy="1192.5" r="4.9" fill="#000"/>
<circle cx="217.7" cy="1196.4" r="4.9" fill="#000"/>
<circle cx="208.3" cy="1208.5" r="4.9" fill="#000"/>
<line x1="314.6" y1="1083" x2="314.6" y2="1150" stroke="#ea1419" stroke-width="4.8"/>
<line x1="296.85" y1="1083" x2="332.35" y2="1083" stroke="#ea1419" stroke-width="4.8"/>
<line x1="296.85" y1="1150" x2="332.35" y2="1150" stroke="#ea1419" stroke-width="4.8"/>
<line x1="279.6" y1="1116" x2="349.6" y2="1116" stroke="#000" stroke-width="4.8"/>
<circle cx="314.3" cy="1001.4" r="4.9" fill="#ea1419"/>
<circle cx="314.6" cy="1089.2" r="4.9" fill="#ea1419"/>
<circle cx="314.6" cy="1137" r="4.9" fill="#ea1419"/>
<circle cx="314.6" cy="1156.8" r="4.9" fill="#ea1419"/>
<circle cx="314.6" cy="1196.4" r="4.9" fill="#ea1419"/>
<line x1="421" y1="918" x2="421" y2="955.5" stroke="#000" stroke-width="4.8"/>
<line x1="403.25" y1="918" x2="438.75" y2="918" stroke="#000" stroke-width="4.8"/>
<line x1="403.25" y1="955.5" x2="438.75" y2="955.5" stroke="#000" stroke-width="4.8"/>
<line x1="386.0" y1="936.8" x2="456.0" y2="936.8" stroke="#000" stroke-width="4.8"/>
<circle cx="421" cy="881.3" r="4.9" fill="#000"/>
<circle cx="421" cy="944" r="4.9" fill="#000"/>
<circle cx="412" cy="962" r="4.9" fill="#000"/>
<circle cx="430.2" cy="962" r="4.9" fill="#000"/>
<line x1="527.4" y1="1052" x2="527.4" y2="1144.2" stroke="#ea1419" stroke-width="4.8"/>
<line x1="509.65" y1="1052" x2="545.15" y2="1052" stroke="#ea1419" stroke-width="4.8"/>
<line x1="509.65" y1="1144.2" x2="545.15" y2="1144.2" stroke="#ea1419" stroke-width="4.8"/>
<line x1="492.4" y1="1097.7" x2="562.4" y2="1097.7" stroke="#000" stroke-width="4.8"/>
<circle cx="527.4" cy="929.3" r="4.9" fill="#ea1419"/>
<circle cx="518.3" cy="1104" r="4.9" fill="#ea1419"/>
<circle cx="536.8" cy="1095.2" r="4.9" fill="#ea1419"/>
<circle cx="527.4" cy="1164.7" r="4.9" fill="#ea1419"/>
<circle cx="527.4" cy="1194.9" r="4.9" fill="#ea1419"/>
<line x1="736" y1="130.0" x2="1312" y2="130.0" stroke="#000" stroke-width="3.2"/>
<line x1="1340.4" y1="129.8" x2="1939.7" y2="129.8" stroke="#000" stroke-width="3.2"/>
<rect x="1993.7" y="214.1" width="40.3" height="252.1" fill="url(#cbar)" stroke="#000" stroke-width="3.6"/>
</g>
<g id="labels" stroke="#000" stroke-width="0.5">
<text x="1.23" y="48.60" font-size="64" font-weight="bold" textLength="32.57" lengthAdjust="spacingAndGlyphs">a</text>
<text x="646.15" y="48.30" font-size="63" font-weight="bold" textLength="39.55" lengthAdjust="spacingAndGlyphs">b</text>
<text x="0.93" y="795.60" font-size="64" font-weight="bold" textLength="35.87" lengthAdjust="spacingAndGlyphs">c</text>
<text x="264.55" y="123.10" font-size="38.6" font-weight="bold" textLength="229.43" lengthAdjust="spacingAndGlyphs">Body weight</text>
<text x="202.75" y="793.20" font-size="38.6" font-weight="bold" textLength="355.98" lengthAdjust="spacingAndGlyphs">Water consumption</text>
<text x="1174.89" y="44.90" font-size="45.5" font-weight="bold" textLength="360.93" lengthAdjust="spacingAndGlyphs">Blood lipidomics</text>
<text x="443.79" y="838.80" font-size="31.5" font-weight="bold" textLength="61.72" lengthAdjust="spacingAndGlyphs">0.02</text>
<text x="927.86" y="113.00" font-size="38.6" textLength="228.22" lengthAdjust="spacingAndGlyphs">Normal water</text>
<text x="1528.01" y="114.10" font-size="38.6" textLength="245.02" lengthAdjust="spacingAndGlyphs">Sucrose water</text>
<text x="820.55" y="188.30" font-size="38.6" textLength="60.03" lengthAdjust="spacingAndGlyphs">WT</text>
<text x="1094.49" y="188.30" font-size="38.6" textLength="54.32" lengthAdjust="spacingAndGlyphs">TG</text>
<text x="1441.75" y="190.30" font-size="38.6" textLength="59.73" lengthAdjust="spacingAndGlyphs">WT</text>
<text x="1763.00" y="188.40" font-size="38.6" textLength="53.90" lengthAdjust="spacingAndGlyphs">TG</text>
<text x="1986.56" y="169.30" font-size="36.6" textLength="50.80" lengthAdjust="spacingAndGlyphs">log</text>
<text x="2037.84" y="178.60" font-size="25.5" textLength="13.55" lengthAdjust="spacingAndGlyphs">2</text>
<text x="2058.88" y="248.90" font-size="38" textLength="53.62" lengthAdjust="spacingAndGlyphs">2.0</text>
<text x="2054.47" y="438.20" font-size="38" textLength="66.58" lengthAdjust="spacingAndGlyphs">-2.0</text>
<text x="258.45" y="632.60" font-size="38.6" textLength="59.83" lengthAdjust="spacingAndGlyphs">WT</text>
<text x="358.69" y="632.60" font-size="38.6" textLength="54.75" lengthAdjust="spacingAndGlyphs">TG</text>
<text x="67.94" y="345.10" font-size="38.6" textLength="88.63" lengthAdjust="spacingAndGlyphs">gram</text>
<text x="200.66" y="850.70" font-size="34.2" textLength="54.26" lengthAdjust="spacingAndGlyphs">WT</text>
<text x="201.29" y="899.30" font-size="34.2" textLength="48.39" lengthAdjust="spacingAndGlyphs">TG</text>
<text x="190.25" y="1287.40" font-size="38.6" textLength="124.38" lengthAdjust="spacingAndGlyphs">Normal</text>
<text x="206.45" y="1333.40" font-size="38.6" textLength="93.29" lengthAdjust="spacingAndGlyphs">water</text>
<text x="394.20" y="1287.40" font-size="38.6" textLength="141.43" lengthAdjust="spacingAndGlyphs">Sucrose</text>
<text x="420.04" y="1333.40" font-size="38.6" textLength="91.49" lengthAdjust="spacingAndGlyphs">water</text>
<text transform="translate(49.20,1138.73) rotate(-90)" x="0" y="0" font-size="38.8" textLength="252.27" lengthAdjust="spacingAndGlyphs">mL/day/mouse</text>
<text x="174.55" y="176.00" font-size="34.5" font-weight="bold">40</text>
<text x="174.55" y="281.00" font-size="34.5" font-weight="bold">30</text>
<text x="174.55" y="385.30" font-size="34.5" font-weight="bold">20</text>
<text x="174.55" y="489.50" font-size="34.5" font-weight="bold">10</text>
<text x="193.80" y="594.00" font-size="34.5" font-weight="bold">0</text>
<text x="81.15" y="859.90" font-size="34.5" font-weight="bold">10</text>
<text x="99.90" y="939.20" font-size="34.5" font-weight="bold">8</text>
<text x="100.15" y="1018.50" font-size="34.5" font-weight="bold">6</text>
<text x="99.15" y="1097.90" font-size="34.5" font-weight="bold">4</text>
<text x="100.40" y="1177.30" font-size="34.5" font-weight="bold">2</text>
<text x="100.40" y="1256.80" font-size="34.5" font-weight="bold">0</text>
</g>
</svg>
</body>
</html>
